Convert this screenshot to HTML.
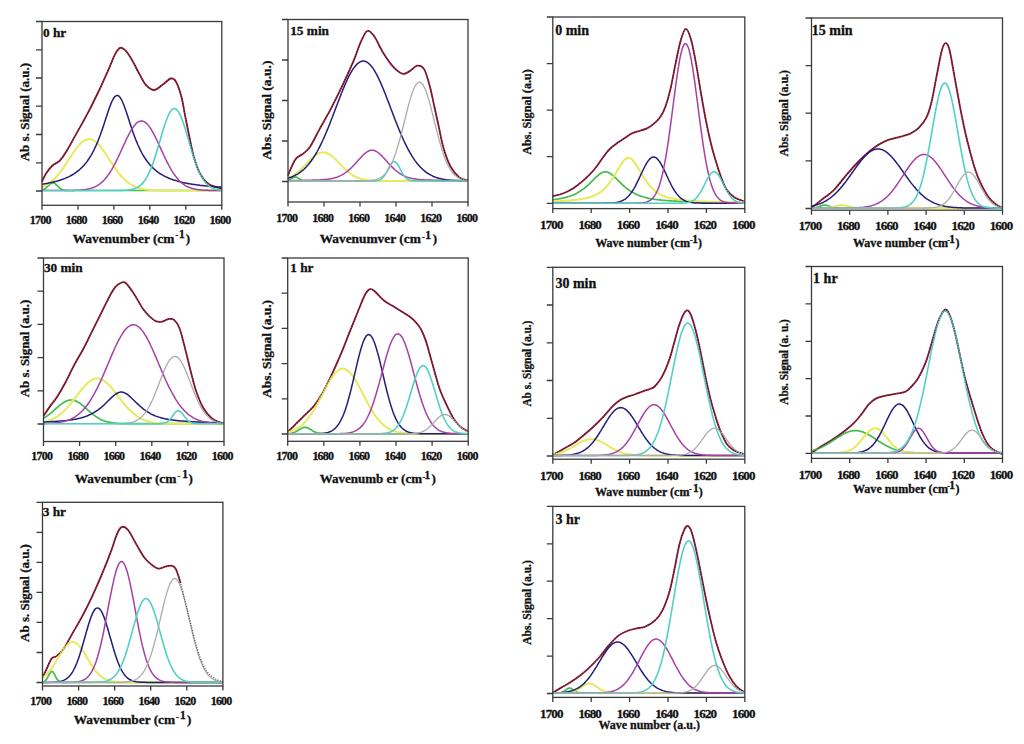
<!DOCTYPE html>
<html><head><meta charset="utf-8"><style>
html,body{margin:0;padding:0;background:#fff;width:1024px;height:744px;overflow:hidden}
svg{display:block}
text{font-family:"Liberation Serif",serif;font-weight:bold;fill:#111;stroke:#111;stroke-width:0.3px}
.tl{font-size:12px;text-anchor:middle;letter-spacing:-0.8px}
.tl2{font-size:13px;text-anchor:middle;letter-spacing:-0.85px}
</style></head><body>
<svg width="1024" height="744" viewBox="0 0 1024 744">
<rect width="1024" height="744" fill="#fff"/>
<path d="M42,181.6C42.7,180.2 44.5,175.9 46.2,173.2C48,170.5 50.2,167.6 52.5,165.5C54.8,163.4 57.4,163.2 59.8,160.7C62.2,158.2 64.1,155.2 67.1,150.3C70,145.5 74,137.8 77.5,131.6C81,125.4 84.4,119.5 87.9,112.9C91.4,106.3 94.8,99.3 98.3,92C101.8,84.7 105.9,75.3 108.7,69.1C111.5,62.9 113,58.1 114.9,54.6C116.8,51.1 118.4,48.6 120.1,47.9C121.8,47.2 123.4,48.6 125.3,50.4C127.2,52.2 128.9,54.8 131.3,58.8C133.7,62.8 137.2,70.1 139.6,74.4C142,78.7 143.4,82.2 145.8,84.8C148.2,87.4 151.4,90 154.2,90C157,90 159.7,86.7 162.5,84.8C165.3,82.9 168.6,79 170.8,78.5C173.1,78 174.2,78.7 176,81.7C177.8,84.7 179.7,90.4 181.3,96.3C182.9,102.2 184,110.2 185.4,117.1C186.8,124 188.2,131.3 189.6,137.9C191,144.5 192.1,150.8 193.8,156.7C195.5,162.6 197.6,168.8 200,173.3C202.4,177.8 205.2,181.4 208.3,183.8C211.4,186.2 216.6,187.2 218.8,187.9C221.1,188.7 221.3,188.2 221.8,188.3" stroke="#9a1f3a" stroke-width="1.8" fill="none"/>
<path d="M42,190L43,189.7L44,189.3L45,188.7L46,187.9L47,187L48,186L49,185L50,184.1L51,183.4L52,182.9L53,182.8L54,183.1L55,183.6L56,184.5L57,185.4L58,186.5L59,187.4L60,188.3L61,188.9L62,189.5L63,189.9L64,190.1L65,190.3L66,190.4L67,190.4L68,190.5L69,190.5L70,190.5L71,190.5L72,190.5L73,190.5L74,190.5L75,190.5L76,190.5L77,190.5L78,190.5L79,190.5L80,190.5L81,190.5L82,190.5L83,190.5L84,190.5L85,190.5L86,190.5L87,190.5L87.9,190.5L88.9,190.5L89.9,190.5L90.9,190.5L91.9,190.5L92.9,190.5L93.9,190.5L94.9,190.5L95.9,190.5L96.9,190.5L97.9,190.5L98.9,190.5L99.9,190.5L100.9,190.5L101.9,190.5L102.9,190.5L103.9,190.5L104.9,190.5L105.9,190.5L106.9,190.5L107.9,190.5L108.9,190.5L109.9,190.5L110.9,190.5L111.9,190.5L112.9,190.5L113.9,190.5L114.9,190.5L115.9,190.5L116.9,190.5L117.9,190.5L118.9,190.5L119.9,190.5L120.9,190.5L121.9,190.5L122.9,190.5L123.9,190.5L124.9,190.5L125.9,190.5L126.9,190.5L127.9,190.5L128.9,190.5L129.9,190.5L130.9,190.5L131.9,190.5L132.9,190.5L133.9,190.5L134.9,190.5L135.9,190.5L136.9,190.5L137.9,190.5L138.9,190.5L139.9,190.5L140.9,190.5L141.9,190.5L142.9,190.5L143.9,190.5L144.9,190.5L145.9,190.5L146.9,190.5L147.9,190.5L148.9,190.5L149.9,190.5L150.9,190.5L151.9,190.5L152.9,190.5L153.9,190.5L154.9,190.5L155.9,190.5L156.9,190.5L157.9,190.5L158.9,190.5L159.9,190.5L160.9,190.5L161.9,190.5L162.9,190.5L163.9,190.5L164.9,190.5L165.9,190.5L166.9,190.5L167.9,190.5L168.9,190.5L169.9,190.5L170.9,190.5L171.9,190.5L172.9,190.5L173.9,190.5L174.9,190.5L175.9,190.5L176.8,190.5L177.8,190.5L178.8,190.5L179.8,190.5L180.8,190.5L181.8,190.5L182.8,190.5L183.8,190.5L184.8,190.5L185.8,190.5L186.8,190.5L187.8,190.5L188.8,190.5L189.8,190.5L190.8,190.5L191.8,190.5L192.8,190.5L193.8,190.5L194.8,190.5L195.8,190.5L196.8,190.5L197.8,190.5L198.8,190.5L199.8,190.5L200.8,190.5L201.8,190.5L202.8,190.5L203.8,190.5L204.8,190.5L205.8,190.5L206.8,190.5L207.8,190.5L208.8,190.5L209.8,190.5L210.8,190.5L211.8,190.5L212.8,190.5L213.8,190.5L214.8,190.5L215.8,190.5L216.8,190.5L217.8,190.5L218.8,190.5L219.8,190.5L220.8,190.5L221.8,190.5" stroke="#45bd4c" stroke-width="1.7" fill="none"/>
<path d="M42,187.2L43,186.7L44,186.3L45,185.8L46,185.3L47,184.7L48,184.1L49,183.4L50,182.7L51,181.9L52,181.1L53,180.2L54,179.2L55,178.2L56,177.2L57,176.1L58,174.9L59,173.7L60,172.4L61,171.1L62,169.7L63,168.3L64,166.9L65,165.4L66,163.9L67,162.4L68,160.8L69,159.3L70,157.8L71,156.2L72,154.7L73,153.2L74,151.7L75,150.3L76,148.9L77,147.6L78,146.4L79,145.2L80,144.1L81,143.1L82,142.2L83,141.4L84,140.8L85,140.2L86,139.7L87,139.4L87.9,139.2L88.9,139.1L89.9,139.1L90.9,139.3L91.9,139.6L92.9,140L93.9,140.6L94.9,141.2L95.9,142L96.9,142.8L97.9,143.8L98.9,144.9L99.9,146L100.9,147.2L101.9,148.5L102.9,149.9L103.9,151.3L104.9,152.7L105.9,154.2L106.9,155.7L107.9,157.3L108.9,158.8L109.9,160.3L110.9,161.9L111.9,163.4L112.9,164.9L113.9,166.4L114.9,167.9L115.9,169.3L116.9,170.7L117.9,172L118.9,173.3L119.9,174.5L120.9,175.7L121.9,176.8L122.9,177.9L123.9,178.9L124.9,179.9L125.9,180.8L126.9,181.6L127.9,182.4L128.9,183.2L129.9,183.9L130.9,184.5L131.9,185.1L132.9,185.6L133.9,186.1L134.9,186.6L135.9,187L136.9,187.4L137.9,187.8L138.9,188.1L139.9,188.3L140.9,188.6L141.9,188.8L142.9,189L143.9,189.2L144.9,189.4L145.9,189.5L146.9,189.7L147.9,189.8L148.9,189.9L149.9,190L150.9,190L151.9,190.1L152.9,190.2L153.9,190.2L154.9,190.2L155.9,190.3L156.9,190.3L157.9,190.3L158.9,190.4L159.9,190.4L160.9,190.4L161.9,190.4L162.9,190.4L163.9,190.4L164.9,190.5L165.9,190.5L166.9,190.5L167.9,190.5L168.9,190.5L169.9,190.5L170.9,190.5L171.9,190.5L172.9,190.5L173.9,190.5L174.9,190.5L175.9,190.5L176.8,190.5L177.8,190.5L178.8,190.5L179.8,190.5L180.8,190.5L181.8,190.5L182.8,190.5L183.8,190.5L184.8,190.5L185.8,190.5L186.8,190.5L187.8,190.5L188.8,190.5L189.8,190.5L190.8,190.5L191.8,190.5L192.8,190.5L193.8,190.5L194.8,190.5L195.8,190.5L196.8,190.5L197.8,190.5L198.8,190.5L199.8,190.5L200.8,190.5L201.8,190.5L202.8,190.5L203.8,190.5L204.8,190.5L205.8,190.5L206.8,190.5L207.8,190.5L208.8,190.5L209.8,190.5L210.8,190.5L211.8,190.5L212.8,190.5L213.8,190.5L214.8,190.5L215.8,190.5L216.8,190.5L217.8,190.5L218.8,190.5L219.8,190.5L220.8,190.5L221.8,190.5" stroke="#e6ea5c" stroke-width="2.0" fill="none"/>
<path d="M42,184.2L43,184.1L44,183.9L45,183.7L46,183.6L47,183.4L48,183.2L49,183L50,182.8L51,182.6L52,182.3L53,182.1L54,181.9L55,181.6L56,181.4L57,181.1L58,180.8L59,180.5L60,180.2L61,179.8L62,179.5L63,179.1L64,178.8L65,178.4L66,177.9L67,177.5L68,177.1L69,176.6L70,176.1L71,175.5L72,175L73,174.4L74,173.8L75,173.1L76,172.4L77,171.7L78,170.9L79,170.1L80,169.2L81,168.3L82,167.4L83,166.3L84,165.3L85,164.1L86,162.9L87,161.6L87.9,160.2L88.9,158.8L89.9,157.2L90.9,155.6L91.9,153.9L92.9,152L93.9,150.1L94.9,148L95.9,145.9L96.9,143.6L97.9,141.2L98.9,138.6L99.9,136L100.9,133.2L101.9,130.4L102.9,127.4L103.9,124.4L104.9,121.4L105.9,118.3L106.9,115.2L107.9,112.2L108.9,109.2L109.9,106.4L110.9,103.9L111.9,101.5L112.9,99.5L113.9,97.8L114.9,96.6L115.9,95.8L116.9,95.4L117.9,95.5L118.9,96.1L119.9,97.2L120.9,98.7L121.9,100.5L122.9,102.7L123.9,105.2L124.9,107.9L125.9,110.7L126.9,113.7L127.9,116.8L128.9,119.9L129.9,123L130.9,126L131.9,129L132.9,131.9L133.9,134.7L134.9,137.4L135.9,140L136.9,142.4L137.9,144.8L138.9,147L139.9,149.1L140.9,151.1L141.9,153L142.9,154.8L143.9,156.5L144.9,158L145.9,159.5L146.9,161L147.9,162.3L148.9,163.5L149.9,164.7L150.9,165.8L151.9,166.9L152.9,167.9L153.9,168.8L154.9,169.7L155.9,170.5L156.9,171.3L157.9,172.1L158.9,172.8L159.9,173.5L160.9,174.1L161.9,174.7L162.9,175.3L163.9,175.8L164.9,176.3L165.9,176.8L166.9,177.3L167.9,177.7L168.9,178.2L169.9,178.6L170.9,179L171.9,179.3L172.9,179.7L173.9,180L174.9,180.3L175.9,180.6L176.8,180.9L177.8,181.2L178.8,181.5L179.8,181.7L180.8,182L181.8,182.2L182.8,182.5L183.8,182.7L184.8,182.9L185.8,183.1L186.8,183.3L187.8,183.5L188.8,183.7L189.8,183.8L190.8,184L191.8,184.2L192.8,184.3L193.8,184.5L194.8,184.6L195.8,184.7L196.8,184.9L197.8,185L198.8,185.1L199.8,185.3L200.8,185.4L201.8,185.5L202.8,185.6L203.8,185.7L204.8,185.8L205.8,185.9L206.8,186L207.8,186.1L208.8,186.2L209.8,186.3L210.8,186.4L211.8,186.5L212.8,186.5L213.8,186.6L214.8,186.7L215.8,186.8L216.8,186.8L217.8,186.9L218.8,187L219.8,187L220.8,187.1L221.8,187.2" stroke="#231d7a" stroke-width="1.5" fill="none"/>
<path d="M42,190.5L43,190.5L44,190.5L45,190.5L46,190.5L47,190.5L48,190.5L49,190.5L50,190.5L51,190.5L52,190.5L53,190.5L54,190.5L55,190.5L56,190.5L57,190.5L58,190.5L59,190.5L60,190.5L61,190.5L62,190.5L63,190.5L64,190.5L65,190.5L66,190.5L67,190.5L68,190.5L69,190.4L70,190.4L71,190.4L72,190.4L73,190.4L74,190.4L75,190.3L76,190.3L77,190.3L78,190.2L79,190.2L80,190.1L81,190L82,189.9L83,189.8L84,189.7L85,189.6L86,189.4L87,189.3L87.9,189.1L88.9,188.9L89.9,188.6L90.9,188.3L91.9,188L92.9,187.7L93.9,187.3L94.9,186.8L95.9,186.3L96.9,185.8L97.9,185.2L98.9,184.6L99.9,183.8L100.9,183L101.9,182.2L102.9,181.3L103.9,180.3L104.9,179.2L105.9,178L106.9,176.8L107.9,175.4L108.9,174L109.9,172.5L110.9,170.9L111.9,169.3L112.9,167.5L113.9,165.7L114.9,163.8L115.9,161.8L116.9,159.8L117.9,157.8L118.9,155.6L119.9,153.5L120.9,151.3L121.9,149.1L122.9,146.9L123.9,144.7L124.9,142.6L125.9,140.4L126.9,138.3L127.9,136.3L128.9,134.4L129.9,132.5L130.9,130.7L131.9,129.1L132.9,127.6L133.9,126.2L134.9,124.9L135.9,123.8L136.9,122.9L137.9,122.2L138.9,121.6L139.9,121.2L140.9,121L141.9,121L142.9,121.2L143.9,121.6L144.9,122.1L145.9,122.9L146.9,123.8L147.9,124.8L148.9,126.1L149.9,127.4L150.9,129L151.9,130.6L152.9,132.4L153.9,134.2L154.9,136.2L155.9,138.2L156.9,140.3L157.9,142.4L158.9,144.6L159.9,146.8L160.9,148.9L161.9,151.1L162.9,153.3L163.9,155.5L164.9,157.6L165.9,159.7L166.9,161.7L167.9,163.6L168.9,165.5L169.9,167.4L170.9,169.1L171.9,170.8L172.9,172.4L173.9,173.9L174.9,175.3L175.9,176.6L176.8,177.9L177.8,179.1L178.8,180.2L179.8,181.2L180.8,182.1L181.8,183L182.8,183.8L183.8,184.5L184.8,185.2L185.8,185.8L186.8,186.3L187.8,186.8L188.8,187.2L189.8,187.6L190.8,188L191.8,188.3L192.8,188.6L193.8,188.8L194.8,189.1L195.8,189.3L196.8,189.4L197.8,189.6L198.8,189.7L199.8,189.8L200.8,189.9L201.8,190L202.8,190.1L203.8,190.2L204.8,190.2L205.8,190.3L206.8,190.3L207.8,190.3L208.8,190.4L209.8,190.4L210.8,190.4L211.8,190.4L212.8,190.4L213.8,190.4L214.8,190.5L215.8,190.5L216.8,190.5L217.8,190.5L218.8,190.5L219.8,190.5L220.8,190.5L221.8,190.5" stroke="#a83fa6" stroke-width="1.5" fill="none"/>
<path d="M42,190.5L43,190.5L44,190.5L45,190.5L46,190.5L47,190.5L48,190.5L49,190.5L50,190.5L51,190.5L52,190.5L53,190.5L54,190.5L55,190.5L56,190.5L57,190.5L58,190.5L59,190.5L60,190.5L61,190.5L62,190.5L63,190.5L64,190.5L65,190.5L66,190.5L67,190.5L68,190.5L69,190.5L70,190.5L71,190.5L72,190.5L73,190.5L74,190.5L75,190.5L76,190.5L77,190.5L78,190.5L79,190.5L80,190.5L81,190.5L82,190.5L83,190.5L84,190.5L85,190.5L86,190.5L87,190.5L87.9,190.5L88.9,190.5L89.9,190.5L90.9,190.5L91.9,190.5L92.9,190.5L93.9,190.5L94.9,190.5L95.9,190.5L96.9,190.5L97.9,190.5L98.9,190.5L99.9,190.5L100.9,190.5L101.9,190.5L102.9,190.5L103.9,190.5L104.9,190.5L105.9,190.5L106.9,190.5L107.9,190.5L108.9,190.5L109.9,190.5L110.9,190.5L111.9,190.5L112.9,190.5L113.9,190.5L114.9,190.5L115.9,190.5L116.9,190.5L117.9,190.5L118.9,190.4L119.9,190.4L120.9,190.4L121.9,190.4L122.9,190.4L123.9,190.3L124.9,190.3L125.9,190.2L126.9,190.1L127.9,190L128.9,189.9L129.9,189.8L130.9,189.6L131.9,189.4L132.9,189.2L133.9,188.9L134.9,188.5L135.9,188.1L136.9,187.7L137.9,187.1L138.9,186.5L139.9,185.7L140.9,184.9L141.9,183.9L142.9,182.9L143.9,181.6L144.9,180.3L145.9,178.8L146.9,177.1L147.9,175.2L148.9,173.2L149.9,171L150.9,168.6L151.9,166.1L152.9,163.3L153.9,160.5L154.9,157.5L155.9,154.3L156.9,151.1L157.9,147.7L158.9,144.3L159.9,140.9L160.9,137.4L161.9,134L162.9,130.7L163.9,127.5L164.9,124.4L165.9,121.5L166.9,118.8L167.9,116.3L168.9,114.2L169.9,112.3L170.9,110.8L171.9,109.7L172.9,108.9L173.9,108.5L174.9,108.6L175.9,109L176.8,109.7L177.8,110.9L178.8,112.4L179.8,114.3L180.8,116.4L181.8,118.9L182.8,121.6L183.8,124.5L184.8,127.6L185.8,130.8L186.8,134.2L187.8,137.6L188.8,141L189.8,144.5L190.8,147.9L191.8,151.2L192.8,154.4L193.8,157.6L194.8,160.6L195.8,163.5L196.8,166.2L197.8,168.7L198.8,171.1L199.8,173.3L200.8,175.3L201.8,177.1L202.8,178.8L203.8,180.3L204.8,181.7L205.8,182.9L206.8,184L207.8,184.9L208.8,185.8L209.8,186.5L210.8,187.1L211.8,187.7L212.8,188.2L213.8,188.6L214.8,188.9L215.8,189.2L216.8,189.4L217.8,189.6L218.8,189.8L219.8,189.9L220.8,190L221.8,190.1" stroke="#52d0c6" stroke-width="1.6" fill="none"/>
<path d="M42,181.6C42.7,180.2 44.5,175.9 46.2,173.2C48,170.5 50.2,167.6 52.5,165.5C54.8,163.4 57.4,163.2 59.8,160.7C62.2,158.2 64.1,155.2 67.1,150.3C70,145.5 74,137.8 77.5,131.6C81,125.4 84.4,119.5 87.9,112.9C91.4,106.3 94.8,99.3 98.3,92C101.8,84.7 105.9,75.3 108.7,69.1C111.5,62.9 113,58.1 114.9,54.6C116.8,51.1 118.4,48.6 120.1,47.9C121.8,47.2 123.4,48.6 125.3,50.4C127.2,52.2 128.9,54.8 131.3,58.8C133.7,62.8 137.2,70.1 139.6,74.4C142,78.7 143.4,82.2 145.8,84.8C148.2,87.4 151.4,90 154.2,90C157,90 159.7,86.7 162.5,84.8C165.3,82.9 168.6,79 170.8,78.5C173.1,78 174.2,78.7 176,81.7C177.8,84.7 179.7,90.4 181.3,96.3C182.9,102.2 184,110.2 185.4,117.1C186.8,124 188.2,131.3 189.6,137.9C191,144.5 192.1,150.8 193.8,156.7C195.5,162.6 197.6,168.8 200,173.3C202.4,177.8 205.2,181.4 208.3,183.8C211.4,186.2 216.6,187.2 218.8,187.9C221.1,188.7 221.3,188.2 221.8,188.3" stroke="#111" stroke-width="1.3" stroke-dasharray="1 1.5" fill="none" opacity="0.65"/>
<rect x="42" y="21.5" width="179.8" height="183.8" fill="none" stroke="#3a3a3a" stroke-width="1.3"/>
<path d="M36,21.5H42M36,49.8H42M36,78H42M36,106.2H42M36,134.5H42M36,162.8H42M36,191H42M42,205.3V209.8M78,205.3V209.8M113.9,205.3V209.8M149.9,205.3V209.8M185.8,205.3V209.8M221.8,205.3V209.8" stroke="#3a3a3a" stroke-width="1.3" fill="none"/>
<text x="40.2" y="224.1" class="tl">1700</text>
<text x="76.2" y="224.1" class="tl">1680</text>
<text x="112.1" y="224.1" class="tl">1660</text>
<text x="148.1" y="224.1" class="tl">1640</text>
<text x="184" y="224.1" class="tl">1620</text>
<text x="220" y="224.1" class="tl">1600</text>
<text x="43" y="37.4" style="font-size:13.3px">0 hr</text>
<text x="72.7" y="242.7" style="font-size:13px" textLength="101.7" lengthAdjust="spacingAndGlyphs">Wavenumber (cm</text>
<text x="175.4" y="238.4" style="font-size:8px">-</text>
<text x="178.9" y="237.9" style="font-size:11.5px">1</text>
<text x="185.7" y="242.7" style="font-size:13px">)</text>
<text transform="translate(28.5,112.1) rotate(-90)" text-anchor="middle" style="font-size:13px" textLength="98.4" lengthAdjust="spacingAndGlyphs">Ab s. Signal (a.u.)</text>
<path d="M288,175.5C288.6,173.9 290.5,169.1 291.9,166.2C293.3,163.3 294.5,160.3 296.4,158.2C298.3,156.1 301,155.5 303.3,153.6C305.6,151.7 307.4,150.7 310.1,146.7C312.8,142.7 315.9,135.9 319.3,129.6C322.7,123.3 326.9,116.3 330.7,109.1C334.5,101.9 338.3,94.2 342.1,86.2C345.9,78.2 350.4,68.3 353.5,61.1C356.6,53.9 358.1,47.8 360.4,42.8C362.7,37.8 364.9,32.1 367.2,31C369.5,29.9 372,33.3 374.1,36C376.2,38.7 378.3,44 380,47C381.7,50 381.9,51 384.1,54.3C386.3,57.6 390.2,63.6 393.3,66.8C396.4,70 399.7,72.9 402.4,73.7C405.1,74.5 406.8,72.7 409.3,71.4C411.8,70.1 414.7,66.1 417.2,65.7C419.7,65.3 422,65.7 424.1,69.1C426.2,72.5 428.1,79.9 429.8,86.2C431.5,92.5 432.9,100 434.4,106.8C435.9,113.6 437.4,120.4 438.9,127.3C440.4,134.2 441.6,141.4 443.5,147.9C445.4,154.4 447.7,161.2 450.4,166.2C453.1,171.1 456.6,175.2 459.5,177.6C462.4,179.9 466.6,179.9 468,180.3" stroke="#9a1f3a" stroke-width="1.8" fill="none"/>
<path d="M288,180.3L289,179.9L290,179.4L291,178.8L292,178.2L293,177.6L294,177.2L295,177L296,177.1L297,177.4L298,177.9L299,178.6L300,179.2L301,179.7L302,180.2L303,180.5L304,180.7L305,180.9L306,180.9L307,181L308,181L309,181L310,181L311,181L312,181L313,181L314,181L315,181L316,181L317,181L318,181L319,181L320,181L321,181L322,181L323,181L324,181L325,181L326,181L327,181L328,181L329,181L330,181L331,181L332,181L333,181L334,181L335,181L336,181L337,181L338,181L339,181L340,181L341,181L342,181L343,181L344,181L345,181L346,181L347,181L348,181L349,181L350,181L351,181L352,181L353,181L354,181L355,181L356,181L357,181L358,181L359,181L360,181L361,181L362,181L363,181L364,181L365,181L366,181L367,181L368,181L369,181L370,181L371,181L372,181L373,181L374,181L375,181L376,181L377,181L378,181L379,181L380,181L381,181L382,181L383,181L384,181L385,181L386,181L387,181L388,181L389,181L390,181L391,181L392,181L393,181L394,181L395,181L396,181L397,181L398,181L399,181L400,181L401,181L402,181L403,181L404,181L405,181L406,181L407,181L408,181L409,181L410,181L411,181L412,181L413,181L414,181L415,181L416,181L417,181L418,181L419,181L420,181L421,181L422,181L423,181L424,181L425,181L426,181L427,181L428,181L429,181L430,181L431,181L432,181L433,181L434,181L435,181L436,181L437,181L438,181L439,181L440,181L441,181L442,181L443,181L444,181L445,181L446,181L447,181L448,181L449,181L450,181L451,181L452,181L453,181L454,181L455,181L456,181L457,181L458,181L459,181L460,181L461,181L462,181L463,181L464,181L465,181L466,181L467,181L468,181" stroke="#45bd4c" stroke-width="1.7" fill="none"/>
<path d="M288,178L289,177.5L290,177.1L291,176.6L292,176.1L293,175.5L294,174.9L295,174.2L296,173.5L297,172.7L298,171.9L299,171L300,170.2L301,169.2L302,168.3L303,167.3L304,166.3L305,165.2L306,164.2L307,163.1L308,162.1L309,161.1L310,160.1L311,159.1L312,158.1L313,157.2L314,156.4L315,155.6L316,154.9L317,154.3L318,153.7L319,153.3L320,152.9L321,152.6L322,152.5L323,152.4L324,152.4L325,152.6L326,152.8L327,153.2L328,153.6L329,154.2L330,154.8L331,155.5L332,156.2L333,157.1L334,158L335,158.9L336,159.9L337,160.9L338,161.9L339,162.9L340,164L341,165L342,166.1L343,167.1L344,168.1L345,169L346,170L347,170.9L348,171.7L349,172.5L350,173.3L351,174L352,174.7L353,175.4L354,176L355,176.5L356,177L357,177.5L358,177.9L359,178.3L360,178.6L361,178.9L362,179.2L363,179.4L364,179.6L365,179.8L366,180L367,180.1L368,180.3L369,180.4L370,180.5L371,180.6L372,180.6L373,180.7L374,180.7L375,180.8L376,180.8L377,180.9L378,180.9L379,180.9L380,180.9L381,180.9L382,180.9L383,181L384,181L385,181L386,181L387,181L388,181L389,181L390,181L391,181L392,181L393,181L394,181L395,181L396,181L397,181L398,181L399,181L400,181L401,181L402,181L403,181L404,181L405,181L406,181L407,181L408,181L409,181L410,181L411,181L412,181L413,181L414,181L415,181L416,181L417,181L418,181L419,181L420,181L421,181L422,181L423,181L424,181L425,181L426,181L427,181L428,181L429,181L430,181L431,181L432,181L433,181L434,181L435,181L436,181L437,181L438,181L439,181L440,181L441,181L442,181L443,181L444,181L445,181L446,181L447,181L448,181L449,181L450,181L451,181L452,181L453,181L454,181L455,181L456,181L457,181L458,181L459,181L460,181L461,181L462,181L463,181L464,181L465,181L466,181L467,181L468,181" stroke="#e6ea5c" stroke-width="2.0" fill="none"/>
<path d="M288,178.1L289,177.8L290,177.5L291,177.2L292,176.8L293,176.4L294,175.9L295,175.5L296,174.9L297,174.4L298,173.8L299,173.1L300,172.4L301,171.7L302,170.9L303,170.1L304,169.2L305,168.2L306,167.2L307,166.1L308,165L309,163.8L310,162.5L311,161.2L312,159.8L313,158.4L314,156.8L315,155.2L316,153.5L317,151.8L318,150L319,148.1L320,146.1L321,144.1L322,142L323,139.8L324,137.6L325,135.3L326,133L327,130.6L328,128.2L329,125.7L330,123.2L331,120.6L332,118.1L333,115.4L334,112.8L335,110.2L336,107.5L337,104.9L338,102.3L339,99.7L340,97.1L341,94.5L342,92L343,89.5L344,87.1L345,84.7L346,82.5L347,80.3L348,78.1L349,76.1L350,74.2L351,72.4L352,70.7L353,69.1L354,67.7L355,66.4L356,65.2L357,64.1L358,63.3L359,62.5L360,61.9L361,61.5L362,61.2L363,61.1L364,61.1L365,61.3L366,61.7L367,62.2L368,62.9L369,63.7L370,64.7L371,65.8L372,67L373,68.4L374,69.9L375,71.6L376,73.3L377,75.2L378,77.2L379,79.2L380,81.4L381,83.6L382,86L383,88.3L384,90.8L385,93.3L386,95.8L387,98.4L388,101L389,103.6L390,106.3L391,108.9L392,111.6L393,114.2L394,116.8L395,119.4L396,122L397,124.5L398,127L399,129.5L400,131.9L401,134.2L402,136.5L403,138.8L404,141L405,143.1L406,145.1L407,147.1L408,149.1L409,150.9L410,152.7L411,154.4L412,156.1L413,157.6L414,159.1L415,160.6L416,161.9L417,163.2L418,164.4L419,165.6L420,166.7L421,167.8L422,168.7L423,169.7L424,170.5L425,171.3L426,172.1L427,172.8L428,173.5L429,174.1L430,174.7L431,175.2L432,175.7L433,176.2L434,176.6L435,177L436,177.4L437,177.7L438,178L439,178.3L440,178.5L441,178.8L442,179L443,179.2L444,179.4L445,179.5L446,179.7L447,179.8L448,180L449,180.1L450,180.2L451,180.3L452,180.3L453,180.4L454,180.5L455,180.5L456,180.6L457,180.6L458,180.7L459,180.7L460,180.8L461,180.8L462,180.8L463,180.8L464,180.9L465,180.9L466,180.9L467,180.9L468,180.9" stroke="#231d7a" stroke-width="1.5" fill="none"/>
<path d="M288,180.6L289,180.6L290,180.5L291,180.5L292,180.5L293,180.5L294,180.5L295,180.5L296,180.5L297,180.5L298,180.4L299,180.4L300,180.4L301,180.4L302,180.4L303,180.4L304,180.4L305,180.3L306,180.3L307,180.3L308,180.3L309,180.3L310,180.2L311,180.2L312,180.2L313,180.1L314,180.1L315,180.1L316,180L317,180L318,180L319,179.9L320,179.9L321,179.8L322,179.7L323,179.7L324,179.6L325,179.5L326,179.4L327,179.3L328,179.2L329,179L330,178.9L331,178.7L332,178.5L333,178.3L334,178L335,177.7L336,177.4L337,177.1L338,176.7L339,176.3L340,175.9L341,175.4L342,174.9L343,174.3L344,173.7L345,173L346,172.3L347,171.6L348,170.8L349,169.9L350,169L351,168.1L352,167.1L353,166L354,165L355,163.9L356,162.8L357,161.7L358,160.6L359,159.5L360,158.4L361,157.3L362,156.2L363,155.2L364,154.3L365,153.4L366,152.6L367,151.9L368,151.3L369,150.8L370,150.5L371,150.3L372,150.2L373,150.3L374,150.5L375,150.8L376,151.3L377,151.8L378,152.5L379,153.3L380,154.2L381,155.1L382,156.1L383,157.2L384,158.2L385,159.3L386,160.5L387,161.6L388,162.7L389,163.8L390,164.9L391,165.9L392,166.9L393,167.9L394,168.9L395,169.8L396,170.7L397,171.5L398,172.2L399,173L400,173.6L401,174.2L402,174.8L403,175.4L404,175.8L405,176.3L406,176.7L407,177.1L408,177.4L409,177.7L410,178L411,178.2L412,178.5L413,178.7L414,178.8L415,179L416,179.1L417,179.3L418,179.4L419,179.5L420,179.6L421,179.7L422,179.7L423,179.8L424,179.8L425,179.9L426,180L427,180L428,180L429,180.1L430,180.1L431,180.1L432,180.2L433,180.2L434,180.2L435,180.2L436,180.3L437,180.3L438,180.3L439,180.3L440,180.4L441,180.4L442,180.4L443,180.4L444,180.4L445,180.4L446,180.4L447,180.5L448,180.5L449,180.5L450,180.5L451,180.5L452,180.5L453,180.5L454,180.5L455,180.6L456,180.6L457,180.6L458,180.6L459,180.6L460,180.6L461,180.6L462,180.6L463,180.6L464,180.6L465,180.6L466,180.7L467,180.7L468,180.7" stroke="#a83fa6" stroke-width="1.5" fill="none"/>
<path d="M288,181L289,181L290,181L291,181L292,181L293,181L294,181L295,181L296,181L297,181L298,181L299,181L300,181L301,181L302,181L303,181L304,181L305,181L306,181L307,181L308,181L309,181L310,181L311,181L312,181L313,181L314,181L315,181L316,181L317,181L318,181L319,181L320,181L321,181L322,181L323,181L324,181L325,181L326,181L327,181L328,181L329,181L330,181L331,181L332,181L333,181L334,181L335,181L336,181L337,181L338,181L339,181L340,181L341,181L342,181L343,181L344,181L345,181L346,181L347,181L348,181L349,181L350,181L351,181L352,181L353,181L354,181L355,181L356,181L357,181L358,181L359,181L360,181L361,181L362,181L363,181L364,181L365,181L366,181L367,181L368,181L369,181L370,181L371,181L372,181L373,181L374,180.9L375,180.9L376,180.8L377,180.6L378,180.4L379,180.1L380,179.7L381,179.1L382,178.3L383,177.4L384,176.2L385,174.7L386,173.1L387,171.3L388,169.4L389,167.5L390,165.7L391,164.1L392,162.8L393,162L394,161.6L395,161.8L396,162.4L397,163.5L398,165L399,166.7L400,168.6L401,170.5L402,172.4L403,174.1L404,175.6L405,176.9L406,178L407,178.8L408,179.5L409,180L410,180.3L411,180.6L412,180.7L413,180.8L414,180.9L415,180.9L416,181L417,181L418,181L419,181L420,181L421,181L422,181L423,181L424,181L425,181L426,181L427,181L428,181L429,181L430,181L431,181L432,181L433,181L434,181L435,181L436,181L437,181L438,181L439,181L440,181L441,181L442,181L443,181L444,181L445,181L446,181L447,181L448,181L449,181L450,181L451,181L452,181L453,181L454,181L455,181L456,181L457,181L458,181L459,181L460,181L461,181L462,181L463,181L464,181L465,181L466,181L467,181L468,181" stroke="#52d0c6" stroke-width="1.6" fill="none"/>
<path d="M288,181L289,181L290,181L291,181L292,181L293,181L294,181L295,181L296,181L297,181L298,181L299,181L300,181L301,181L302,181L303,181L304,181L305,181L306,181L307,181L308,181L309,181L310,181L311,181L312,181L313,181L314,181L315,181L316,181L317,181L318,181L319,181L320,181L321,181L322,181L323,181L324,181L325,181L326,181L327,181L328,181L329,181L330,181L331,181L332,181L333,181L334,181L335,181L336,181L337,181L338,181L339,181L340,181L341,181L342,181L343,181L344,181L345,181L346,181L347,181L348,181L349,181L350,181L351,181L352,181L353,181L354,181L355,181L356,181L357,181L358,181L359,181L360,181L361,181L362,180.9L363,180.9L364,180.9L365,180.9L366,180.8L367,180.8L368,180.7L369,180.7L370,180.6L371,180.5L372,180.4L373,180.2L374,180L375,179.8L376,179.6L377,179.3L378,178.9L379,178.5L380,178L381,177.4L382,176.8L383,176L384,175.1L385,174.1L386,173L387,171.7L388,170.2L389,168.6L390,166.9L391,164.9L392,162.7L393,160.4L394,157.8L395,155.1L396,152.2L397,149L398,145.7L399,142.2L400,138.6L401,134.8L402,131L403,127L404,123L405,119L406,115L407,111L408,107.2L409,103.5L410,99.9L411,96.6L412,93.6L413,90.8L414,88.4L415,86.3L416,84.6L417,83.4L418,82.5L419,82.1L420,82.2L421,82.7L422,83.6L423,84.9L424,86.7L425,88.8L426,91.3L427,94.2L428,97.3L429,100.6L430,104.2L431,107.9L432,111.8L433,115.8L434,119.8L435,123.8L436,127.8L437,131.7L438,135.6L439,139.3L440,142.9L441,146.4L442,149.7L443,152.8L444,155.7L445,158.4L446,160.9L447,163.2L448,165.3L449,167.2L450,169L451,170.5L452,172L453,173.2L454,174.3L455,175.3L456,176.1L457,176.9L458,177.5L459,178.1L460,178.6L461,179L462,179.3L463,179.6L464,179.9L465,180.1L466,180.3L467,180.4L468,180.5" stroke="#acacac" stroke-width="1.3" fill="none"/>
<path d="M288,175.5C288.6,173.9 290.5,169.1 291.9,166.2C293.3,163.3 294.5,160.3 296.4,158.2C298.3,156.1 301,155.5 303.3,153.6C305.6,151.7 307.4,150.7 310.1,146.7C312.8,142.7 315.9,135.9 319.3,129.6C322.7,123.3 326.9,116.3 330.7,109.1C334.5,101.9 338.3,94.2 342.1,86.2C345.9,78.2 350.4,68.3 353.5,61.1C356.6,53.9 358.1,47.8 360.4,42.8C362.7,37.8 364.9,32.1 367.2,31C369.5,29.9 372,33.3 374.1,36C376.2,38.7 378.3,44 380,47C381.7,50 381.9,51 384.1,54.3C386.3,57.6 390.2,63.6 393.3,66.8C396.4,70 399.7,72.9 402.4,73.7C405.1,74.5 406.8,72.7 409.3,71.4C411.8,70.1 414.7,66.1 417.2,65.7C419.7,65.3 422,65.7 424.1,69.1C426.2,72.5 428.1,79.9 429.8,86.2C431.5,92.5 432.9,100 434.4,106.8C435.9,113.6 437.4,120.4 438.9,127.3C440.4,134.2 441.6,141.4 443.5,147.9C445.4,154.4 447.7,161.2 450.4,166.2C453.1,171.1 456.6,175.2 459.5,177.6C462.4,179.9 466.6,179.9 468,180.3" stroke="#111" stroke-width="1.3" stroke-dasharray="1 1.5" fill="none" opacity="0.65"/>
<rect x="288" y="19.5" width="180" height="182.5" fill="none" stroke="#3a3a3a" stroke-width="1.3"/>
<path d="M282,19.5H288M282,60H288M282,100.5H288M282,141H288M282,181.5H288M288,202V206.5M324,202V206.5M360,202V206.5M396,202V206.5M432,202V206.5M468,202V206.5" stroke="#3a3a3a" stroke-width="1.3" fill="none"/>
<text x="286.7" y="221.7" class="tl">1700</text>
<text x="322.7" y="221.7" class="tl">1680</text>
<text x="358.7" y="221.7" class="tl">1660</text>
<text x="394.7" y="221.7" class="tl">1640</text>
<text x="430.7" y="221.7" class="tl">1620</text>
<text x="466.7" y="221.7" class="tl">1600</text>
<text x="290.2" y="35.4" style="font-size:13.3px">15 min</text>
<text x="319.7" y="242.5" style="font-size:13px" textLength="101.1" lengthAdjust="spacingAndGlyphs">Wavenumver (cm</text>
<text x="422" y="239.7" style="font-size:8px">-</text>
<text x="425.3" y="239.2" style="font-size:11.5px">1</text>
<text x="432.7" y="242.5" style="font-size:13px">)</text>
<text transform="translate(270.8,110.1) rotate(-90)" text-anchor="middle" style="font-size:13px" textLength="99.2" lengthAdjust="spacingAndGlyphs">Abs. Signal (a.u.)</text>
<path d="M43.5,416C44.7,414.2 48.4,408.6 50.7,405.4C53,402.2 54.7,400.7 57.2,396.8C59.7,392.9 62.9,387.2 65.8,381.8C68.7,376.4 71.5,370 74.4,364.6C77.3,359.2 80.1,354.9 83,349.5C85.9,344.1 88.7,338 91.6,332.3C94.5,326.6 97.3,320.8 100.2,315.1C103.1,309.4 106.3,302.5 108.8,297.9C111.3,293.2 113,289.8 115.2,287.2C117.4,284.6 119.9,283.2 121.7,282.5C123.5,281.8 124.2,281.7 126,283.2C127.8,284.7 130.7,289.1 132.4,291.5C134.1,293.9 134.7,295 136.4,297.9C138.2,300.8 140.8,305.6 142.9,308.7C145.1,311.8 147.2,314.1 149.3,316.2C151.5,318.3 153.7,320.3 155.8,321.2C158,322.1 160,322 162.2,321.6C164.3,321.2 166.7,319.3 168.7,319C170.7,318.7 172.3,318.4 174.1,319.9C175.9,321.4 177.8,324.1 179.4,328C181,331.9 182.3,337.7 183.7,343.1C185.1,348.5 186.6,354.6 188,360.3C189.4,366 190.9,372.1 192.3,377.5C193.7,382.9 194.8,387.5 196.6,392.5C198.4,397.5 200.6,403.2 203.1,407.5C205.6,411.8 208.8,415.8 211.7,418.3C214.6,420.8 218.2,421.8 220.3,422.6C222.4,423.4 223.4,422.9 224,423" stroke="#9a1f3a" stroke-width="1.8" fill="none"/>
<path d="M43.5,418.3L44.5,417.7L45.5,417.1L46.5,416.4L47.5,415.7L48.5,414.9L49.5,414.2L50.5,413.3L51.5,412.5L52.5,411.6L53.5,410.7L54.5,409.8L55.5,408.9L56.5,408L57.5,407.2L58.5,406.3L59.5,405.4L60.5,404.6L61.5,403.9L62.6,403.2L63.6,402.5L64.6,401.9L65.6,401.4L66.6,400.9L67.6,400.6L68.6,400.3L69.6,400.1L70.6,400L71.6,400L72.6,400.1L73.6,400.3L74.6,400.5L75.6,400.9L76.6,401.3L77.6,401.9L78.6,402.4L79.6,403.1L80.6,403.8L81.6,404.6L82.6,405.4L83.6,406.2L84.6,407.1L85.6,408L86.6,408.9L87.6,409.8L88.6,410.7L89.6,411.5L90.6,412.4L91.6,413.3L92.6,414.1L93.6,414.9L94.6,415.6L95.6,416.4L96.6,417L97.7,417.7L98.7,418.3L99.7,418.9L100.7,419.4L101.7,419.9L102.7,420.3L103.7,420.7L104.7,421.1L105.7,421.4L106.7,421.7L107.7,421.9L108.7,422.2L109.7,422.4L110.7,422.6L111.7,422.7L112.7,422.9L113.7,423L114.7,423.1L115.7,423.2L116.7,423.3L117.7,423.4L118.7,423.4L119.7,423.5L120.7,423.5L121.7,423.5L122.7,423.6L123.7,423.6L124.7,423.6L125.7,423.6L126.7,423.6L127.7,423.7L128.7,423.7L129.7,423.7L130.7,423.7L131.7,423.7L132.7,423.7L133.8,423.7L134.8,423.7L135.8,423.7L136.8,423.7L137.8,423.7L138.8,423.7L139.8,423.7L140.8,423.7L141.8,423.7L142.8,423.7L143.8,423.7L144.8,423.7L145.8,423.7L146.8,423.7L147.8,423.7L148.8,423.7L149.8,423.7L150.8,423.7L151.8,423.7L152.8,423.7L153.8,423.7L154.8,423.7L155.8,423.7L156.8,423.7L157.8,423.7L158.8,423.7L159.8,423.7L160.8,423.7L161.8,423.7L162.8,423.7L163.8,423.7L164.8,423.7L165.8,423.7L166.8,423.7L167.8,423.7L168.8,423.7L169.8,423.7L170.9,423.7L171.9,423.7L172.9,423.7L173.9,423.7L174.9,423.7L175.9,423.7L176.9,423.7L177.9,423.7L178.9,423.7L179.9,423.7L180.9,423.7L181.9,423.7L182.9,423.7L183.9,423.7L184.9,423.7L185.9,423.7L186.9,423.7L187.9,423.7L188.9,423.7L189.9,423.7L190.9,423.7L191.9,423.7L192.9,423.7L193.9,423.7L194.9,423.7L195.9,423.7L196.9,423.7L197.9,423.7L198.9,423.7L199.9,423.7L200.9,423.7L201.9,423.7L202.9,423.7L203.9,423.7L204.9,423.7L205.9,423.7L207,423.7L208,423.7L209,423.7L210,423.7L211,423.7L212,423.7L213,423.7L214,423.7L215,423.7L216,423.7L217,423.7L218,423.7L219,423.7L220,423.7L221,423.7L222,423.7L223,423.7L224,423.7" stroke="#45bd4c" stroke-width="1.7" fill="none"/>
<path d="M43.5,422L44.5,421.8L45.5,421.6L46.5,421.3L47.5,421L48.5,420.7L49.5,420.4L50.5,420L51.5,419.6L52.5,419.1L53.5,418.6L54.5,418.1L55.5,417.5L56.5,416.9L57.5,416.3L58.5,415.6L59.5,414.8L60.5,414L61.5,413.2L62.6,412.3L63.6,411.4L64.6,410.4L65.6,409.4L66.6,408.3L67.6,407.2L68.6,406.1L69.6,404.9L70.6,403.7L71.6,402.5L72.6,401.2L73.6,399.9L74.6,398.6L75.6,397.3L76.6,396L77.6,394.7L78.6,393.4L79.6,392.1L80.6,390.8L81.6,389.6L82.6,388.4L83.6,387.2L84.6,386.1L85.6,385L86.6,384L87.6,383.1L88.6,382.2L89.6,381.4L90.6,380.7L91.6,380.1L92.6,379.6L93.6,379.2L94.6,378.9L95.6,378.6L96.6,378.5L97.7,378.5L98.7,378.6L99.7,378.8L100.7,379.1L101.7,379.5L102.7,380L103.7,380.6L104.7,381.2L105.7,382L106.7,382.8L107.7,383.7L108.7,384.7L109.7,385.8L110.7,386.9L111.7,388L112.7,389.2L113.7,390.5L114.7,391.7L115.7,393L116.7,394.3L117.7,395.6L118.7,396.9L119.7,398.2L120.7,399.5L121.7,400.8L122.7,402.1L123.7,403.3L124.7,404.6L125.7,405.7L126.7,406.9L127.7,408L128.7,409.1L129.7,410.1L130.7,411.1L131.7,412L132.7,412.9L133.8,413.8L134.8,414.6L135.8,415.4L136.8,416.1L137.8,416.7L138.8,417.4L139.8,417.9L140.8,418.5L141.8,419L142.8,419.4L143.8,419.9L144.8,420.3L145.8,420.6L146.8,420.9L147.8,421.2L148.8,421.5L149.8,421.8L150.8,422L151.8,422.2L152.8,422.4L153.8,422.5L154.8,422.7L155.8,422.8L156.8,422.9L157.8,423L158.8,423.1L159.8,423.2L160.8,423.2L161.8,423.3L162.8,423.4L163.8,423.4L164.8,423.5L165.8,423.5L166.8,423.5L167.8,423.5L168.8,423.6L169.8,423.6L170.9,423.6L171.9,423.6L172.9,423.6L173.9,423.6L174.9,423.7L175.9,423.7L176.9,423.7L177.9,423.7L178.9,423.7L179.9,423.7L180.9,423.7L181.9,423.7L182.9,423.7L183.9,423.7L184.9,423.7L185.9,423.7L186.9,423.7L187.9,423.7L188.9,423.7L189.9,423.7L190.9,423.7L191.9,423.7L192.9,423.7L193.9,423.7L194.9,423.7L195.9,423.7L196.9,423.7L197.9,423.7L198.9,423.7L199.9,423.7L200.9,423.7L201.9,423.7L202.9,423.7L203.9,423.7L204.9,423.7L205.9,423.7L207,423.7L208,423.7L209,423.7L210,423.7L211,423.7L212,423.7L213,423.7L214,423.7L215,423.7L216,423.7L217,423.7L218,423.7L219,423.7L220,423.7L221,423.7L222,423.7L223,423.7L224,423.7" stroke="#e6ea5c" stroke-width="2.0" fill="none"/>
<path d="M43.5,422L44.5,422L45.5,421.9L46.5,421.9L47.5,421.8L48.5,421.8L49.5,421.7L50.5,421.7L51.5,421.6L52.5,421.6L53.5,421.5L54.5,421.5L55.5,421.4L56.5,421.3L57.5,421.3L58.5,421.2L59.5,421.1L60.5,421L61.5,421L62.6,420.9L63.6,420.8L64.6,420.7L65.6,420.6L66.6,420.5L67.6,420.4L68.6,420.2L69.6,420.1L70.6,420L71.6,419.8L72.6,419.7L73.6,419.5L74.6,419.3L75.6,419.2L76.6,419L77.6,418.8L78.6,418.5L79.6,418.3L80.6,418L81.6,417.8L82.6,417.5L83.6,417.2L84.6,416.8L85.6,416.5L86.6,416.1L87.6,415.7L88.6,415.3L89.6,414.8L90.6,414.4L91.6,413.9L92.6,413.3L93.6,412.7L94.6,412.1L95.6,411.5L96.6,410.8L97.7,410.1L98.7,409.4L99.7,408.6L100.7,407.8L101.7,407L102.7,406.1L103.7,405.2L104.7,404.2L105.7,403.3L106.7,402.3L107.7,401.3L108.7,400.3L109.7,399.4L110.7,398.4L111.7,397.4L112.7,396.5L113.7,395.6L114.7,394.8L115.7,394.1L116.7,393.5L117.7,393L118.7,392.6L119.7,392.3L120.7,392.1L121.7,392.1L122.7,392.2L123.7,392.5L124.7,392.9L125.7,393.4L126.7,394L127.7,394.7L128.7,395.5L129.7,396.4L130.7,397.3L131.7,398.2L132.7,399.2L133.8,400.2L134.8,401.2L135.8,402.2L136.8,403.1L137.8,404.1L138.8,405L139.8,405.9L140.8,406.8L141.8,407.7L142.8,408.5L143.8,409.3L144.8,410L145.8,410.7L146.8,411.4L147.8,412L148.8,412.6L149.8,413.2L150.8,413.8L151.8,414.3L152.8,414.8L153.8,415.2L154.8,415.7L155.8,416.1L156.8,416.4L157.8,416.8L158.8,417.1L159.8,417.4L160.8,417.7L161.8,418L162.8,418.3L163.8,418.5L164.8,418.7L165.8,418.9L166.8,419.1L167.8,419.3L168.8,419.5L169.8,419.7L170.9,419.8L171.9,420L172.9,420.1L173.9,420.2L174.9,420.3L175.9,420.5L176.9,420.6L177.9,420.7L178.9,420.8L179.9,420.9L180.9,420.9L181.9,421L182.9,421.1L183.9,421.2L184.9,421.3L185.9,421.3L186.9,421.4L187.9,421.5L188.9,421.5L189.9,421.6L190.9,421.6L191.9,421.7L192.9,421.7L193.9,421.8L194.9,421.8L195.9,421.9L196.9,421.9L197.9,422L198.9,422L199.9,422.1L200.9,422.1L201.9,422.1L202.9,422.2L203.9,422.2L204.9,422.2L205.9,422.3L207,422.3L208,422.3L209,422.4L210,422.4L211,422.4L212,422.4L213,422.5L214,422.5L215,422.5L216,422.5L217,422.6L218,422.6L219,422.6L220,422.6L221,422.6L222,422.7L223,422.7L224,422.7" stroke="#231d7a" stroke-width="1.5" fill="none"/>
<path d="M43.5,423.5L44.5,423.5L45.5,423.5L46.5,423.4L47.5,423.4L48.5,423.3L49.5,423.3L50.5,423.2L51.5,423.2L52.5,423.1L53.5,423L54.5,422.9L55.5,422.8L56.5,422.7L57.5,422.6L58.5,422.5L59.5,422.3L60.5,422.1L61.5,421.9L62.6,421.7L63.6,421.5L64.6,421.3L65.6,421L66.6,420.7L67.6,420.4L68.6,420L69.6,419.6L70.6,419.2L71.6,418.7L72.6,418.2L73.6,417.7L74.6,417.1L75.6,416.4L76.6,415.7L77.6,415L78.6,414.2L79.6,413.4L80.6,412.5L81.6,411.5L82.6,410.5L83.6,409.4L84.6,408.3L85.6,407.1L86.6,405.8L87.6,404.5L88.6,403L89.6,401.6L90.6,400L91.6,398.4L92.6,396.7L93.6,394.9L94.6,393.1L95.6,391.2L96.6,389.3L97.7,387.2L98.7,385.2L99.7,383.1L100.7,380.9L101.7,378.7L102.7,376.4L103.7,374.1L104.7,371.8L105.7,369.4L106.7,367.1L107.7,364.7L108.7,362.3L109.7,360L110.7,357.6L111.7,355.2L112.7,352.9L113.7,350.7L114.7,348.4L115.7,346.3L116.7,344.1L117.7,342.1L118.7,340.1L119.7,338.3L120.7,336.5L121.7,334.8L122.7,333.2L123.7,331.8L124.7,330.4L125.7,329.2L126.7,328.2L127.7,327.2L128.7,326.5L129.7,325.8L130.7,325.3L131.7,325L132.7,324.8L133.8,324.8L134.8,324.9L135.8,325.2L136.8,325.7L137.8,326.3L138.8,327L139.8,327.9L140.8,328.9L141.8,330.1L142.8,331.4L143.8,332.8L144.8,334.3L145.8,336L146.8,337.7L147.8,339.6L148.8,341.5L149.8,343.6L150.8,345.7L151.8,347.8L152.8,350L153.8,352.3L154.8,354.6L155.8,356.9L156.8,359.3L157.8,361.7L158.8,364L159.8,366.4L160.8,368.8L161.8,371.1L162.8,373.5L163.8,375.8L164.8,378L165.8,380.3L166.8,382.5L167.8,384.6L168.8,386.7L169.8,388.7L170.9,390.7L171.9,392.6L172.9,394.4L173.9,396.2L174.9,397.9L175.9,399.6L176.9,401.1L177.9,402.6L178.9,404.1L179.9,405.4L180.9,406.7L181.9,408L182.9,409.1L183.9,410.2L184.9,411.3L185.9,412.2L186.9,413.1L187.9,414L188.9,414.8L189.9,415.5L190.9,416.2L191.9,416.9L192.9,417.5L193.9,418.1L194.9,418.6L195.9,419L196.9,419.5L197.9,419.9L198.9,420.3L199.9,420.6L200.9,420.9L201.9,421.2L202.9,421.4L203.9,421.7L204.9,421.9L205.9,422.1L207,422.3L208,422.4L209,422.6L210,422.7L211,422.8L212,422.9L213,423L214,423.1L215,423.2L216,423.2L217,423.3L218,423.3L219,423.4L220,423.4L221,423.5L222,423.5L223,423.5L224,423.5" stroke="#a83fa6" stroke-width="1.5" fill="none"/>
<path d="M43.5,423.7L44.5,423.7L45.5,423.7L46.5,423.7L47.5,423.7L48.5,423.7L49.5,423.7L50.5,423.7L51.5,423.7L52.5,423.7L53.5,423.7L54.5,423.7L55.5,423.7L56.5,423.7L57.5,423.7L58.5,423.7L59.5,423.7L60.5,423.7L61.5,423.7L62.6,423.7L63.6,423.7L64.6,423.7L65.6,423.7L66.6,423.7L67.6,423.7L68.6,423.7L69.6,423.7L70.6,423.7L71.6,423.7L72.6,423.7L73.6,423.7L74.6,423.7L75.6,423.7L76.6,423.7L77.6,423.7L78.6,423.7L79.6,423.7L80.6,423.7L81.6,423.7L82.6,423.7L83.6,423.7L84.6,423.7L85.6,423.7L86.6,423.7L87.6,423.7L88.6,423.7L89.6,423.7L90.6,423.7L91.6,423.7L92.6,423.7L93.6,423.7L94.6,423.7L95.6,423.7L96.6,423.7L97.7,423.7L98.7,423.7L99.7,423.7L100.7,423.7L101.7,423.7L102.7,423.7L103.7,423.7L104.7,423.7L105.7,423.7L106.7,423.7L107.7,423.7L108.7,423.7L109.7,423.7L110.7,423.7L111.7,423.7L112.7,423.7L113.7,423.7L114.7,423.7L115.7,423.7L116.7,423.6L117.7,423.6L118.7,423.6L119.7,423.6L120.7,423.5L121.7,423.5L122.7,423.5L123.7,423.4L124.7,423.3L125.7,423.2L126.7,423.1L127.7,423L128.7,422.9L129.7,422.7L130.7,422.5L131.7,422.3L132.7,422L133.8,421.7L134.8,421.3L135.8,420.9L136.8,420.4L137.8,419.8L138.8,419.2L139.8,418.4L140.8,417.6L141.8,416.7L142.8,415.7L143.8,414.6L144.8,413.4L145.8,412L146.8,410.5L147.8,409L148.8,407.2L149.8,405.4L150.8,403.4L151.8,401.4L152.8,399.2L153.8,396.9L154.8,394.5L155.8,392L156.8,389.5L157.8,386.9L158.8,384.3L159.8,381.6L160.8,379L161.8,376.4L162.8,373.9L163.8,371.4L164.8,369.1L165.8,366.9L166.8,364.9L167.8,363L168.8,361.3L169.8,359.9L170.9,358.6L171.9,357.7L172.9,357L173.9,356.6L174.9,356.4L175.9,356.5L176.9,356.9L177.9,357.6L178.9,358.6L179.9,359.8L180.9,361.2L181.9,362.8L182.9,364.7L183.9,366.7L184.9,368.9L185.9,371.3L186.9,373.7L187.9,376.2L188.9,378.8L189.9,381.4L190.9,384L191.9,386.7L192.9,389.3L193.9,391.8L194.9,394.3L195.9,396.7L196.9,399L197.9,401.2L198.9,403.3L199.9,405.2L200.9,407.1L201.9,408.8L202.9,410.4L203.9,411.9L204.9,413.3L205.9,414.5L207,415.6L208,416.6L209,417.6L210,418.4L211,419.1L212,419.8L213,420.3L214,420.8L215,421.3L216,421.6L217,422L218,422.2L219,422.5L220,422.7L221,422.9L222,423L223,423.1L224,423.2" stroke="#acacac" stroke-width="1.3" fill="none"/>
<path d="M43.5,423.7L44.5,423.7L45.5,423.7L46.5,423.7L47.5,423.7L48.5,423.7L49.5,423.7L50.5,423.7L51.5,423.7L52.5,423.7L53.5,423.7L54.5,423.7L55.5,423.7L56.5,423.7L57.5,423.7L58.5,423.7L59.5,423.7L60.5,423.7L61.5,423.7L62.6,423.7L63.6,423.7L64.6,423.7L65.6,423.7L66.6,423.7L67.6,423.7L68.6,423.7L69.6,423.7L70.6,423.7L71.6,423.7L72.6,423.7L73.6,423.7L74.6,423.7L75.6,423.7L76.6,423.7L77.6,423.7L78.6,423.7L79.6,423.7L80.6,423.7L81.6,423.7L82.6,423.7L83.6,423.7L84.6,423.7L85.6,423.7L86.6,423.7L87.6,423.7L88.6,423.7L89.6,423.7L90.6,423.7L91.6,423.7L92.6,423.7L93.6,423.7L94.6,423.7L95.6,423.7L96.6,423.7L97.7,423.7L98.7,423.7L99.7,423.7L100.7,423.7L101.7,423.7L102.7,423.7L103.7,423.7L104.7,423.7L105.7,423.7L106.7,423.7L107.7,423.7L108.7,423.7L109.7,423.7L110.7,423.7L111.7,423.7L112.7,423.7L113.7,423.7L114.7,423.7L115.7,423.7L116.7,423.7L117.7,423.7L118.7,423.7L119.7,423.7L120.7,423.7L121.7,423.7L122.7,423.7L123.7,423.7L124.7,423.7L125.7,423.7L126.7,423.7L127.7,423.7L128.7,423.7L129.7,423.7L130.7,423.7L131.7,423.7L132.7,423.7L133.8,423.7L134.8,423.7L135.8,423.7L136.8,423.7L137.8,423.7L138.8,423.7L139.8,423.7L140.8,423.7L141.8,423.7L142.8,423.7L143.8,423.7L144.8,423.7L145.8,423.7L146.8,423.7L147.8,423.7L148.8,423.7L149.8,423.7L150.8,423.7L151.8,423.7L152.8,423.7L153.8,423.7L154.8,423.7L155.8,423.7L156.8,423.7L157.8,423.7L158.8,423.7L159.8,423.6L160.8,423.6L161.8,423.5L162.8,423.4L163.8,423.2L164.8,422.9L165.8,422.5L166.8,422L167.8,421.3L168.8,420.4L169.8,419.4L170.9,418.2L171.9,416.9L172.9,415.5L173.9,414.2L174.9,412.9L175.9,411.9L176.9,411.2L177.9,410.8L178.9,410.9L179.9,411.3L180.9,412L181.9,413L182.9,414.3L183.9,415.6L184.9,417L185.9,418.3L186.9,419.4L187.9,420.5L188.9,421.3L189.9,422L190.9,422.5L191.9,422.9L192.9,423.2L193.9,423.4L194.9,423.5L195.9,423.6L196.9,423.6L197.9,423.7L198.9,423.7L199.9,423.7L200.9,423.7L201.9,423.7L202.9,423.7L203.9,423.7L204.9,423.7L205.9,423.7L207,423.7L208,423.7L209,423.7L210,423.7L211,423.7L212,423.7L213,423.7L214,423.7L215,423.7L216,423.7L217,423.7L218,423.7L219,423.7L220,423.7L221,423.7L222,423.7L223,423.7L224,423.7" stroke="#52d0c6" stroke-width="1.6" fill="none"/>
<path d="M43.5,416C44.7,414.2 48.4,408.6 50.7,405.4C53,402.2 54.7,400.7 57.2,396.8C59.7,392.9 62.9,387.2 65.8,381.8C68.7,376.4 71.5,370 74.4,364.6C77.3,359.2 80.1,354.9 83,349.5C85.9,344.1 88.7,338 91.6,332.3C94.5,326.6 97.3,320.8 100.2,315.1C103.1,309.4 106.3,302.5 108.8,297.9C111.3,293.2 113,289.8 115.2,287.2C117.4,284.6 119.9,283.2 121.7,282.5C123.5,281.8 124.2,281.7 126,283.2C127.8,284.7 130.7,289.1 132.4,291.5C134.1,293.9 134.7,295 136.4,297.9C138.2,300.8 140.8,305.6 142.9,308.7C145.1,311.8 147.2,314.1 149.3,316.2C151.5,318.3 153.7,320.3 155.8,321.2C158,322.1 160,322 162.2,321.6C164.3,321.2 166.7,319.3 168.7,319C170.7,318.7 172.3,318.4 174.1,319.9C175.9,321.4 177.8,324.1 179.4,328C181,331.9 182.3,337.7 183.7,343.1C185.1,348.5 186.6,354.6 188,360.3C189.4,366 190.9,372.1 192.3,377.5C193.7,382.9 194.8,387.5 196.6,392.5C198.4,397.5 200.6,403.2 203.1,407.5C205.6,411.8 208.8,415.8 211.7,418.3C214.6,420.8 218.2,421.8 220.3,422.6C222.4,423.4 223.4,422.9 224,423" stroke="#111" stroke-width="1.3" stroke-dasharray="1 1.5" fill="none" opacity="0.65"/>
<rect x="43.5" y="258" width="180.5" height="183.5" fill="none" stroke="#3a3a3a" stroke-width="1.3"/>
<path d="M37.5,258H43.5M37.5,291.2H43.5M37.5,324.4H43.5M37.5,357.6H43.5M37.5,390.8H43.5M37.5,424H43.5M43.5,441.5V446M79.6,441.5V446M115.7,441.5V446M151.8,441.5V446M187.9,441.5V446M224,441.5V446" stroke="#3a3a3a" stroke-width="1.3" fill="none"/>
<text x="41.7" y="460.1" class="tl">1700</text>
<text x="77.8" y="460.1" class="tl">1680</text>
<text x="113.9" y="460.1" class="tl">1660</text>
<text x="150" y="460.1" class="tl">1640</text>
<text x="186.1" y="460.1" class="tl">1620</text>
<text x="222.2" y="460.1" class="tl">1600</text>
<text x="43.9" y="271.6" style="font-size:13.3px">30 min</text>
<text x="74.7" y="482.8" style="font-size:13px" textLength="101.7" lengthAdjust="spacingAndGlyphs">Wavenumber (cm</text>
<text x="177.4" y="478.5" style="font-size:8px">-</text>
<text x="182.2" y="478" style="font-size:11.5px">1</text>
<text x="188.4" y="482.8" style="font-size:13px">)</text>
<text transform="translate(28.5,348.5) rotate(-90)" text-anchor="middle" style="font-size:13px" textLength="97.6" lengthAdjust="spacingAndGlyphs">Ab s. Signal (a.u.)</text>
<path d="M287.7,432C289.1,430.6 293.2,426.6 296.1,423.7C299,420.8 302,417.8 305,414.8C308,411.9 310.9,409.7 313.9,406C316.8,402.3 319.8,397.8 322.7,392.6C325.6,387.4 328.6,381.2 331.6,374.9C334.6,368.6 337.5,361.9 340.5,354.9C343.5,347.9 346.4,340.1 349.4,332.7C352.4,325.3 355.7,316.8 358.3,310.5C360.9,304.2 363,298.5 364.9,295C366.8,291.5 367.9,290.1 369.4,289.4C370.9,288.6 371.4,288.6 373.8,290.5C376.2,292.4 380.7,297.9 383.9,300.5C387.1,303.1 389.9,304.2 392.8,306.1C395.8,308 398.7,309.8 401.6,311.6C404.6,313.5 407.9,315.2 410.5,317.2C413.1,319.2 415.3,321.6 417.2,323.8C419.1,326 420.1,327.5 421.6,330.5C423.1,333.5 424.6,337.2 426.1,341.6C427.6,346 429,351.9 430.5,357.1C432,362.3 433.4,367.5 434.9,372.7C436.4,377.9 437.5,383 439.4,388.2C441.2,393.4 443.8,398.9 446,403.7C448.2,408.5 450.5,413.4 452.7,417.1C454.9,420.8 457.2,423.7 459.4,425.9C461.6,428.1 464.5,429.5 466,430.4C467.5,431.2 467.8,430.9 468.2,431" stroke="#9a1f3a" stroke-width="1.8" fill="none"/>
<path d="M287.7,433.7L288.7,433.6L289.7,433.5L290.7,433.4L291.7,433.2L292.7,432.9L293.7,432.6L294.7,432.2L295.7,431.7L296.7,431.2L297.7,430.6L298.7,430L299.7,429.3L300.7,428.7L301.7,428.2L302.7,427.7L303.7,427.4L304.7,427.3L305.8,427.3L306.8,427.6L307.8,427.9L308.8,428.4L309.8,429L310.8,429.6L311.8,430.2L312.8,430.9L313.8,431.4L314.8,432L315.8,432.4L316.8,432.8L317.8,433.1L318.8,433.3L319.8,433.4L320.8,433.6L321.8,433.6L322.8,433.7L323.8,433.7L324.8,433.8L325.8,433.8L326.8,433.8L327.8,433.8L328.8,433.8L329.8,433.8L330.8,433.8L331.8,433.8L332.8,433.8L333.8,433.8L334.8,433.8L335.8,433.8L336.8,433.8L337.8,433.8L338.8,433.8L339.8,433.8L340.8,433.8L341.8,433.8L342.9,433.8L343.9,433.8L344.9,433.8L345.9,433.8L346.9,433.8L347.9,433.8L348.9,433.8L349.9,433.8L350.9,433.8L351.9,433.8L352.9,433.8L353.9,433.8L354.9,433.8L355.9,433.8L356.9,433.8L357.9,433.8L358.9,433.8L359.9,433.8L360.9,433.8L361.9,433.8L362.9,433.8L363.9,433.8L364.9,433.8L365.9,433.8L366.9,433.8L367.9,433.8L368.9,433.8L369.9,433.8L370.9,433.8L371.9,433.8L372.9,433.8L373.9,433.8L374.9,433.8L375.9,433.8L376.9,433.8L377.9,433.8L379,433.8L380,433.8L381,433.8L382,433.8L383,433.8L384,433.8L385,433.8L386,433.8L387,433.8L388,433.8L389,433.8L390,433.8L391,433.8L392,433.8L393,433.8L394,433.8L395,433.8L396,433.8L397,433.8L398,433.8L399,433.8L400,433.8L401,433.8L402,433.8L403,433.8L404,433.8L405,433.8L406,433.8L407,433.8L408,433.8L409,433.8L410,433.8L411,433.8L412,433.8L413,433.8L414,433.8L415.1,433.8L416.1,433.8L417.1,433.8L418.1,433.8L419.1,433.8L420.1,433.8L421.1,433.8L422.1,433.8L423.1,433.8L424.1,433.8L425.1,433.8L426.1,433.8L427.1,433.8L428.1,433.8L429.1,433.8L430.1,433.8L431.1,433.8L432.1,433.8L433.1,433.8L434.1,433.8L435.1,433.8L436.1,433.8L437.1,433.8L438.1,433.8L439.1,433.8L440.1,433.8L441.1,433.8L442.1,433.8L443.1,433.8L444.1,433.8L445.1,433.8L446.1,433.8L447.1,433.8L448.1,433.8L449.1,433.8L450.1,433.8L451.2,433.8L452.2,433.8L453.2,433.8L454.2,433.8L455.2,433.8L456.2,433.8L457.2,433.8L458.2,433.8L459.2,433.8L460.2,433.8L461.2,433.8L462.2,433.8L463.2,433.8L464.2,433.8L465.2,433.8L466.2,433.8L467.2,433.8L468.2,433.8" stroke="#45bd4c" stroke-width="1.7" fill="none"/>
<path d="M287.7,432.1L288.7,431.9L289.7,431.6L290.7,431.3L291.7,431L292.7,430.6L293.7,430.2L294.7,429.7L295.7,429.2L296.7,428.7L297.7,428.1L298.7,427.5L299.7,426.8L300.7,426L301.7,425.2L302.7,424.3L303.7,423.4L304.7,422.3L305.8,421.3L306.8,420.1L307.8,418.9L308.8,417.6L309.8,416.2L310.8,414.8L311.8,413.3L312.8,411.7L313.8,410.1L314.8,408.4L315.8,406.7L316.8,404.9L317.8,403L318.8,401.2L319.8,399.3L320.8,397.4L321.8,395.4L322.8,393.5L323.8,391.5L324.8,389.6L325.8,387.7L326.8,385.8L327.8,384L328.8,382.3L329.8,380.6L330.8,378.9L331.8,377.4L332.8,376L333.8,374.6L334.8,373.4L335.8,372.3L336.8,371.4L337.8,370.6L338.8,369.9L339.8,369.4L340.8,369L341.8,368.8L342.9,368.7L343.9,368.8L344.9,369L345.9,369.5L346.9,370L347.9,370.7L348.9,371.6L349.9,372.6L350.9,373.7L351.9,374.9L352.9,376.3L353.9,377.7L354.9,379.3L355.9,380.9L356.9,382.6L357.9,384.4L358.9,386.2L359.9,388.1L360.9,390L361.9,391.9L362.9,393.9L363.9,395.8L364.9,397.7L365.9,399.7L366.9,401.6L367.9,403.4L368.9,405.2L369.9,407L370.9,408.7L371.9,410.4L372.9,412L373.9,413.6L374.9,415.1L375.9,416.5L376.9,417.8L377.9,419.1L379,420.3L380,421.5L381,422.6L382,423.6L383,424.5L384,425.4L385,426.2L386,426.9L387,427.6L388,428.2L389,428.8L390,429.3L391,429.8L392,430.3L393,430.7L394,431L395,431.4L396,431.6L397,431.9L398,432.1L399,432.4L400,432.5L401,432.7L402,432.8L403,433L404,433.1L405,433.2L406,433.3L407,433.3L408,433.4L409,433.5L410,433.5L411,433.6L412,433.6L413,433.6L414,433.7L415.1,433.7L416.1,433.7L417.1,433.7L418.1,433.7L419.1,433.7L420.1,433.8L421.1,433.8L422.1,433.8L423.1,433.8L424.1,433.8L425.1,433.8L426.1,433.8L427.1,433.8L428.1,433.8L429.1,433.8L430.1,433.8L431.1,433.8L432.1,433.8L433.1,433.8L434.1,433.8L435.1,433.8L436.1,433.8L437.1,433.8L438.1,433.8L439.1,433.8L440.1,433.8L441.1,433.8L442.1,433.8L443.1,433.8L444.1,433.8L445.1,433.8L446.1,433.8L447.1,433.8L448.1,433.8L449.1,433.8L450.1,433.8L451.2,433.8L452.2,433.8L453.2,433.8L454.2,433.8L455.2,433.8L456.2,433.8L457.2,433.8L458.2,433.8L459.2,433.8L460.2,433.8L461.2,433.8L462.2,433.8L463.2,433.8L464.2,433.8L465.2,433.8L466.2,433.8L467.2,433.8L468.2,433.8" stroke="#e6ea5c" stroke-width="2.0" fill="none"/>
<path d="M287.7,433.8L288.7,433.8L289.7,433.8L290.7,433.8L291.7,433.8L292.7,433.8L293.7,433.8L294.7,433.8L295.7,433.8L296.7,433.8L297.7,433.8L298.7,433.8L299.7,433.8L300.7,433.8L301.7,433.8L302.7,433.8L303.7,433.8L304.7,433.8L305.8,433.8L306.8,433.8L307.8,433.8L308.8,433.8L309.8,433.8L310.8,433.8L311.8,433.8L312.8,433.8L313.8,433.8L314.8,433.7L315.8,433.7L316.8,433.7L317.8,433.7L318.8,433.6L319.8,433.6L320.8,433.5L321.8,433.5L322.8,433.4L323.8,433.2L324.8,433.1L325.8,432.9L326.8,432.7L327.8,432.5L328.8,432.1L329.8,431.8L330.8,431.3L331.8,430.8L332.8,430.2L333.8,429.5L334.8,428.6L335.8,427.7L336.8,426.5L337.8,425.3L338.8,423.8L339.8,422.2L340.8,420.4L341.8,418.3L342.9,416.1L343.9,413.6L344.9,410.9L345.9,407.9L346.9,404.8L347.9,401.4L348.9,397.8L349.9,394L350.9,390.1L351.9,386L352.9,381.8L353.9,377.5L354.9,373.2L355.9,368.9L356.9,364.6L357.9,360.4L358.9,356.4L359.9,352.6L360.9,349L361.9,345.7L362.9,342.8L363.9,340.3L364.9,338.2L365.9,336.5L366.9,335.3L367.9,334.7L368.9,334.5L369.9,334.9L370.9,335.7L371.9,337.1L372.9,338.9L373.9,341.2L374.9,343.8L375.9,346.9L376.9,350.3L377.9,353.9L379,357.8L380,361.9L381,366.1L382,370.4L383,374.7L384,379L385,383.3L386,387.5L387,391.5L388,395.4L389,399.1L390,402.6L391,405.9L392,409L393,411.9L394,414.5L395,416.9L396,419.1L397,421L398,422.8L399,424.4L400,425.7L401,427L402,428L403,428.9L404,429.7L405,430.4L406,431L407,431.5L408,431.9L409,432.3L410,432.6L411,432.8L412,433L413,433.2L414,433.3L415.1,433.4L416.1,433.5L417.1,433.6L418.1,433.6L419.1,433.7L420.1,433.7L421.1,433.7L422.1,433.7L423.1,433.7L424.1,433.8L425.1,433.8L426.1,433.8L427.1,433.8L428.1,433.8L429.1,433.8L430.1,433.8L431.1,433.8L432.1,433.8L433.1,433.8L434.1,433.8L435.1,433.8L436.1,433.8L437.1,433.8L438.1,433.8L439.1,433.8L440.1,433.8L441.1,433.8L442.1,433.8L443.1,433.8L444.1,433.8L445.1,433.8L446.1,433.8L447.1,433.8L448.1,433.8L449.1,433.8L450.1,433.8L451.2,433.8L452.2,433.8L453.2,433.8L454.2,433.8L455.2,433.8L456.2,433.8L457.2,433.8L458.2,433.8L459.2,433.8L460.2,433.8L461.2,433.8L462.2,433.8L463.2,433.8L464.2,433.8L465.2,433.8L466.2,433.8L467.2,433.8L468.2,433.8" stroke="#231d7a" stroke-width="1.5" fill="none"/>
<path d="M287.7,433.8L288.7,433.8L289.7,433.8L290.7,433.8L291.7,433.8L292.7,433.8L293.7,433.8L294.7,433.8L295.7,433.8L296.7,433.8L297.7,433.8L298.7,433.8L299.7,433.8L300.7,433.8L301.7,433.8L302.7,433.8L303.7,433.8L304.7,433.8L305.8,433.8L306.8,433.8L307.8,433.8L308.8,433.8L309.8,433.8L310.8,433.8L311.8,433.8L312.8,433.8L313.8,433.8L314.8,433.8L315.8,433.8L316.8,433.8L317.8,433.8L318.8,433.8L319.8,433.8L320.8,433.8L321.8,433.8L322.8,433.8L323.8,433.8L324.8,433.8L325.8,433.8L326.8,433.8L327.8,433.8L328.8,433.8L329.8,433.8L330.8,433.8L331.8,433.8L332.8,433.8L333.8,433.8L334.8,433.8L335.8,433.7L336.8,433.7L337.8,433.7L338.8,433.7L339.8,433.7L340.8,433.6L341.8,433.6L342.9,433.5L343.9,433.5L344.9,433.4L345.9,433.3L346.9,433.2L347.9,433.1L348.9,432.9L349.9,432.7L350.9,432.5L351.9,432.2L352.9,431.9L353.9,431.6L354.9,431.1L355.9,430.6L356.9,430.1L357.9,429.4L358.9,428.7L359.9,427.9L360.9,426.9L361.9,425.9L362.9,424.7L363.9,423.4L364.9,421.9L365.9,420.3L366.9,418.5L367.9,416.5L368.9,414.4L369.9,412.1L370.9,409.6L371.9,407L372.9,404.2L373.9,401.2L374.9,398L375.9,394.7L376.9,391.3L377.9,387.7L379,384.1L380,380.4L381,376.6L382,372.8L383,369L384,365.2L385,361.5L386,357.9L387,354.4L388,351.1L389,348L390,345.1L391,342.5L392,340.2L393,338.3L394,336.6L395,335.3L396,334.4L397,333.9L398,333.8L399,334.1L400,334.8L401,335.8L402,337.2L403,339L404,341.1L405,343.5L406,346.3L407,349.2L408,352.4L409,355.8L410,359.3L411,363L412,366.7L413,370.5L414,374.3L415.1,378.1L416.1,381.9L417.1,385.6L418.1,389.2L419.1,392.7L420.1,396.1L421.1,399.3L422.1,402.4L423.1,405.3L424.1,408.1L425.1,410.7L426.1,413.1L427.1,415.3L428.1,417.3L429.1,419.2L430.1,420.9L431.1,422.5L432.1,423.9L433.1,425.2L434.1,426.3L435.1,427.3L436.1,428.2L437.1,429L438.1,429.7L439.1,430.3L440.1,430.8L441.1,431.3L442.1,431.7L443.1,432L444.1,432.3L445.1,432.6L446.1,432.8L447.1,433L448.1,433.1L449.1,433.2L450.1,433.3L451.2,433.4L452.2,433.5L453.2,433.6L454.2,433.6L455.2,433.6L456.2,433.7L457.2,433.7L458.2,433.7L459.2,433.7L460.2,433.8L461.2,433.8L462.2,433.8L463.2,433.8L464.2,433.8L465.2,433.8L466.2,433.8L467.2,433.8L468.2,433.8" stroke="#a83fa6" stroke-width="1.5" fill="none"/>
<path d="M287.7,433.8L288.7,433.8L289.7,433.8L290.7,433.8L291.7,433.8L292.7,433.8L293.7,433.8L294.7,433.8L295.7,433.8L296.7,433.8L297.7,433.8L298.7,433.8L299.7,433.8L300.7,433.8L301.7,433.8L302.7,433.8L303.7,433.8L304.7,433.8L305.8,433.8L306.8,433.8L307.8,433.8L308.8,433.8L309.8,433.8L310.8,433.8L311.8,433.8L312.8,433.8L313.8,433.8L314.8,433.8L315.8,433.8L316.8,433.8L317.8,433.8L318.8,433.8L319.8,433.8L320.8,433.8L321.8,433.8L322.8,433.8L323.8,433.8L324.8,433.8L325.8,433.8L326.8,433.8L327.8,433.8L328.8,433.8L329.8,433.8L330.8,433.8L331.8,433.8L332.8,433.8L333.8,433.8L334.8,433.8L335.8,433.8L336.8,433.8L337.8,433.8L338.8,433.8L339.8,433.8L340.8,433.8L341.8,433.8L342.9,433.8L343.9,433.8L344.9,433.8L345.9,433.8L346.9,433.8L347.9,433.8L348.9,433.8L349.9,433.8L350.9,433.8L351.9,433.8L352.9,433.8L353.9,433.8L354.9,433.8L355.9,433.8L356.9,433.8L357.9,433.8L358.9,433.8L359.9,433.8L360.9,433.8L361.9,433.8L362.9,433.8L363.9,433.8L364.9,433.8L365.9,433.8L366.9,433.8L367.9,433.8L368.9,433.8L369.9,433.8L370.9,433.8L371.9,433.8L372.9,433.8L373.9,433.8L374.9,433.8L375.9,433.8L376.9,433.7L377.9,433.7L379,433.7L380,433.7L381,433.6L382,433.6L383,433.5L384,433.4L385,433.3L386,433.1L387,433L388,432.7L389,432.4L390,432.1L391,431.7L392,431.2L393,430.6L394,429.8L395,429L396,428L397,426.9L398,425.6L399,424.1L400,422.4L401,420.5L402,418.5L403,416.2L404,413.7L405,411L406,408.2L407,405.1L408,402L409,398.7L410,395.3L411,391.9L412,388.5L413,385.2L414,382L415.1,378.9L416.1,376L417.1,373.4L418.1,371.1L419.1,369.2L420.1,367.6L421.1,366.5L422.1,365.8L423.1,365.6L424.1,365.8L425.1,366.5L426.1,367.6L427.1,369.2L428.1,371.1L429.1,373.4L430.1,376L431.1,378.9L432.1,382L433.1,385.2L434.1,388.5L435.1,391.9L436.1,395.3L437.1,398.7L438.1,402L439.1,405.1L440.1,408.2L441.1,411L442.1,413.7L443.1,416.2L444.1,418.5L445.1,420.5L446.1,422.4L447.1,424.1L448.1,425.6L449.1,426.9L450.1,428L451.2,429L452.2,429.8L453.2,430.6L454.2,431.2L455.2,431.7L456.2,432.1L457.2,432.4L458.2,432.7L459.2,433L460.2,433.1L461.2,433.3L462.2,433.4L463.2,433.5L464.2,433.6L465.2,433.6L466.2,433.7L467.2,433.7L468.2,433.7" stroke="#52d0c6" stroke-width="1.6" fill="none"/>
<path d="M287.7,433.8L288.7,433.8L289.7,433.8L290.7,433.8L291.7,433.8L292.7,433.8L293.7,433.8L294.7,433.8L295.7,433.8L296.7,433.8L297.7,433.8L298.7,433.8L299.7,433.8L300.7,433.8L301.7,433.8L302.7,433.8L303.7,433.8L304.7,433.8L305.8,433.8L306.8,433.8L307.8,433.8L308.8,433.8L309.8,433.8L310.8,433.8L311.8,433.8L312.8,433.8L313.8,433.8L314.8,433.8L315.8,433.8L316.8,433.8L317.8,433.8L318.8,433.8L319.8,433.8L320.8,433.8L321.8,433.8L322.8,433.8L323.8,433.8L324.8,433.8L325.8,433.8L326.8,433.8L327.8,433.8L328.8,433.8L329.8,433.8L330.8,433.8L331.8,433.8L332.8,433.8L333.8,433.8L334.8,433.8L335.8,433.8L336.8,433.8L337.8,433.8L338.8,433.8L339.8,433.8L340.8,433.8L341.8,433.8L342.9,433.8L343.9,433.8L344.9,433.8L345.9,433.8L346.9,433.8L347.9,433.8L348.9,433.8L349.9,433.8L350.9,433.8L351.9,433.8L352.9,433.8L353.9,433.8L354.9,433.8L355.9,433.8L356.9,433.8L357.9,433.8L358.9,433.8L359.9,433.8L360.9,433.8L361.9,433.8L362.9,433.8L363.9,433.8L364.9,433.8L365.9,433.8L366.9,433.8L367.9,433.8L368.9,433.8L369.9,433.8L370.9,433.8L371.9,433.8L372.9,433.8L373.9,433.8L374.9,433.8L375.9,433.8L376.9,433.8L377.9,433.8L379,433.8L380,433.8L381,433.8L382,433.8L383,433.8L384,433.8L385,433.8L386,433.8L387,433.8L388,433.8L389,433.8L390,433.8L391,433.8L392,433.8L393,433.8L394,433.8L395,433.8L396,433.8L397,433.8L398,433.8L399,433.8L400,433.8L401,433.8L402,433.8L403,433.8L404,433.8L405,433.8L406,433.8L407,433.8L408,433.8L409,433.7L410,433.7L411,433.7L412,433.6L413,433.6L414,433.5L415.1,433.4L416.1,433.3L417.1,433.2L418.1,433L419.1,432.8L420.1,432.5L421.1,432.2L422.1,431.9L423.1,431.4L424.1,430.9L425.1,430.4L426.1,429.7L427.1,429L428.1,428.2L429.1,427.4L430.1,426.4L431.1,425.4L432.1,424.4L433.1,423.3L434.1,422.2L435.1,421.1L436.1,420L437.1,419L438.1,418L439.1,417.1L440.1,416.3L441.1,415.6L442.1,415.1L443.1,414.7L444.1,414.5L445.1,414.4L446.1,414.5L447.1,414.8L448.1,415.3L449.1,415.9L450.1,416.6L451.2,417.5L452.2,418.4L453.2,419.4L454.2,420.5L455.2,421.6L456.2,422.7L457.2,423.8L458.2,424.9L459.2,425.9L460.2,426.8L461.2,427.8L462.2,428.6L463.2,429.3L464.2,430L465.2,430.6L466.2,431.2L467.2,431.6L468.2,432" stroke="#acacac" stroke-width="1.3" fill="none"/>
<path d="M287.7,432C289.1,430.6 293.2,426.6 296.1,423.7C299,420.8 302,417.8 305,414.8C308,411.9 310.9,409.7 313.9,406C316.8,402.3 319.8,397.8 322.7,392.6C325.6,387.4 328.6,381.2 331.6,374.9C334.6,368.6 337.5,361.9 340.5,354.9C343.5,347.9 346.4,340.1 349.4,332.7C352.4,325.3 355.7,316.8 358.3,310.5C360.9,304.2 363,298.5 364.9,295C366.8,291.5 367.9,290.1 369.4,289.4C370.9,288.6 371.4,288.6 373.8,290.5C376.2,292.4 380.7,297.9 383.9,300.5C387.1,303.1 389.9,304.2 392.8,306.1C395.8,308 398.7,309.8 401.6,311.6C404.6,313.5 407.9,315.2 410.5,317.2C413.1,319.2 415.3,321.6 417.2,323.8C419.1,326 420.1,327.5 421.6,330.5C423.1,333.5 424.6,337.2 426.1,341.6C427.6,346 429,351.9 430.5,357.1C432,362.3 433.4,367.5 434.9,372.7C436.4,377.9 437.5,383 439.4,388.2C441.2,393.4 443.8,398.9 446,403.7C448.2,408.5 450.5,413.4 452.7,417.1C454.9,420.8 457.2,423.7 459.4,425.9C461.6,428.1 464.5,429.5 466,430.4C467.5,431.2 467.8,430.9 468.2,431" stroke="#111" stroke-width="1.3" stroke-dasharray="1 1.5" fill="none" opacity="0.65"/>
<rect x="287.7" y="258" width="180.5" height="183.3" fill="none" stroke="#3a3a3a" stroke-width="1.3"/>
<path d="M281.7,258H287.7M281.7,293.2H287.7M281.7,328.4H287.7M281.7,363.6H287.7M281.7,398.8H287.7M281.7,434H287.7M287.7,441.3V445.8M323.8,441.3V445.8M359.9,441.3V445.8M396,441.3V445.8M432.1,441.3V445.8M468.2,441.3V445.8" stroke="#3a3a3a" stroke-width="1.3" fill="none"/>
<text x="286.7" y="460.1" class="tl">1700</text>
<text x="322.8" y="460.1" class="tl">1680</text>
<text x="358.9" y="460.1" class="tl">1660</text>
<text x="395" y="460.1" class="tl">1640</text>
<text x="431.1" y="460.1" class="tl">1620</text>
<text x="467.2" y="460.1" class="tl">1600</text>
<text x="290.2" y="271.5" style="font-size:13.3px">1 hr</text>
<text x="319.7" y="482.8" style="font-size:13px" textLength="102.3" lengthAdjust="spacingAndGlyphs">Wavenumb er (cm</text>
<text x="422.6" y="479.7" style="font-size:8px">-</text>
<text x="424.6" y="479.2" style="font-size:11.5px">1</text>
<text x="431.5" y="482.8" style="font-size:13px">)</text>
<text transform="translate(270.8,349) rotate(-90)" text-anchor="middle" style="font-size:13px" textLength="98" lengthAdjust="spacingAndGlyphs">Abs. Signal (a.u.)</text>
<path d="M42.5,677.5C43.3,675.9 45.6,671 47.1,667.8C48.6,664.6 50.2,660.3 51.8,658.4C53.4,656.5 54.5,657.7 56.5,656.1C58.5,654.5 60.8,652.9 63.5,649C66.2,645.1 69.8,638.1 72.9,632.6C76,627.1 79.2,622 82.3,616.1C85.4,610.2 88.6,604 91.7,597.3C94.8,590.6 98,583.5 101.1,576.1C104.2,568.7 107.8,559.9 110.5,552.6C113.2,545.4 115.6,536.9 117.6,532.6C119.6,528.3 120.5,527.2 122.3,526.8C124.1,526.4 125.7,527.2 128.2,530.3C130.7,533.4 134.4,541.1 137.1,545.6C139.8,550.1 141.8,554.2 144.1,557.3C146.4,560.4 148.8,562.5 151.2,564.4C153.5,566.3 155.8,568.2 158.2,568.6C160.5,569 163.2,567.2 165.3,566.7C167.5,566.2 169.3,565.2 171.1,565.6C172.9,566 174.3,566.2 175.9,569.1C177.5,572 179.8,580.9 180.6,583.2" stroke="#9a1f3a" stroke-width="1.8" fill="none"/>
<path d="M42.5,682.2L43.5,681.9L44.5,681.4L45.5,680.6L46.5,679.3L47.5,677.7L48.5,675.7L49.5,673.8L50.5,672.3L51.5,671.5L52.5,671.6L53.5,672.6L54.5,674.3L55.5,676.3L56.5,678.2L57.5,679.7L58.5,680.8L59.5,681.6L60.5,682L61.5,682.2L62.5,682.3L63.5,682.4L64.5,682.4L65.6,682.4L66.6,682.4L67.6,682.4L68.6,682.4L69.6,682.4L70.6,682.4L71.6,682.4L72.6,682.4L73.6,682.4L74.6,682.4L75.6,682.4L76.6,682.4L77.6,682.4L78.6,682.4L79.6,682.4L80.6,682.4L81.6,682.4L82.6,682.4L83.6,682.4L84.6,682.4L85.6,682.4L86.6,682.4L87.6,682.4L88.6,682.4L89.6,682.4L90.6,682.4L91.6,682.4L92.6,682.4L93.6,682.4L94.6,682.4L95.6,682.4L96.6,682.4L97.6,682.4L98.6,682.4L99.6,682.4L100.6,682.4L101.6,682.4L102.6,682.4L103.6,682.4L104.6,682.4L105.6,682.4L106.6,682.4L107.6,682.4L108.6,682.4L109.6,682.4L110.7,682.4L111.7,682.4L112.7,682.4L113.7,682.4L114.7,682.4L115.7,682.4L116.7,682.4L117.7,682.4L118.7,682.4L119.7,682.4L120.7,682.4L121.7,682.4L122.7,682.4L123.7,682.4L124.7,682.4L125.7,682.4L126.7,682.4L127.7,682.4L128.7,682.4L129.7,682.4L130.7,682.4L131.7,682.4L132.7,682.4L133.7,682.4L134.7,682.4L135.7,682.4L136.7,682.4L137.7,682.4L138.7,682.4L139.7,682.4L140.7,682.4L141.7,682.4L142.7,682.4L143.7,682.4L144.7,682.4L145.7,682.4L146.7,682.4L147.7,682.4L148.7,682.4L149.7,682.4L150.7,682.4L151.7,682.4L152.7,682.4L153.7,682.4L154.7,682.4L155.8,682.4L156.8,682.4L157.8,682.4L158.8,682.4L159.8,682.4L160.8,682.4L161.8,682.4L162.8,682.4L163.8,682.4L164.8,682.4L165.8,682.4L166.8,682.4L167.8,682.4L168.8,682.4L169.8,682.4L170.8,682.4L171.8,682.4L172.8,682.4L173.8,682.4L174.8,682.4L175.8,682.4L176.8,682.4L177.8,682.4L178.8,682.4L179.8,682.4L180.8,682.4L181.8,682.4L182.8,682.4L183.8,682.4L184.8,682.4L185.8,682.4L186.8,682.4L187.8,682.4L188.8,682.4L189.8,682.4L190.8,682.4L191.8,682.4L192.8,682.4L193.8,682.4L194.8,682.4L195.8,682.4L196.8,682.4L197.8,682.4L198.8,682.4L199.8,682.4L200.9,682.4L201.9,682.4L202.9,682.4L203.9,682.4L204.9,682.4L205.9,682.4L206.9,682.4L207.9,682.4L208.9,682.4L209.9,682.4L210.9,682.4L211.9,682.4L212.9,682.4L213.9,682.4L214.9,682.4L215.9,682.4L216.9,682.4L217.9,682.4L218.9,682.4L219.9,682.4L220.9,682.4L221.9,682.4L222.9,682.4" stroke="#45bd4c" stroke-width="1.7" fill="none"/>
<path d="M42.5,677.7L43.5,676.9L44.5,676.2L45.5,675.3L46.5,674.3L47.5,673.3L48.5,672.2L49.5,670.9L50.5,669.7L51.5,668.3L52.5,666.8L53.5,665.3L54.5,663.8L55.5,662.1L56.5,660.5L57.5,658.8L58.5,657.1L59.5,655.4L60.5,653.8L61.5,652.2L62.5,650.6L63.5,649.1L64.5,647.8L65.6,646.5L66.6,645.4L67.6,644.4L68.6,643.5L69.6,642.9L70.6,642.4L71.6,642.1L72.6,642L73.6,642.1L74.6,642.4L75.6,642.8L76.6,643.5L77.6,644.3L78.6,645.2L79.6,646.4L80.6,647.6L81.6,649L82.6,650.4L83.6,652L84.6,653.6L85.6,655.2L86.6,656.9L87.6,658.6L88.6,660.3L89.6,661.9L90.6,663.6L91.6,665.1L92.6,666.7L93.6,668.1L94.6,669.5L95.6,670.8L96.6,672L97.6,673.2L98.6,674.2L99.6,675.2L100.6,676.1L101.6,676.9L102.6,677.6L103.6,678.2L104.6,678.8L105.6,679.3L106.6,679.8L107.6,680.2L108.6,680.5L109.6,680.8L110.7,681.1L111.7,681.3L112.7,681.5L113.7,681.6L114.7,681.8L115.7,681.9L116.7,682L117.7,682.1L118.7,682.1L119.7,682.2L120.7,682.2L121.7,682.3L122.7,682.3L123.7,682.3L124.7,682.3L125.7,682.3L126.7,682.4L127.7,682.4L128.7,682.4L129.7,682.4L130.7,682.4L131.7,682.4L132.7,682.4L133.7,682.4L134.7,682.4L135.7,682.4L136.7,682.4L137.7,682.4L138.7,682.4L139.7,682.4L140.7,682.4L141.7,682.4L142.7,682.4L143.7,682.4L144.7,682.4L145.7,682.4L146.7,682.4L147.7,682.4L148.7,682.4L149.7,682.4L150.7,682.4L151.7,682.4L152.7,682.4L153.7,682.4L154.7,682.4L155.8,682.4L156.8,682.4L157.8,682.4L158.8,682.4L159.8,682.4L160.8,682.4L161.8,682.4L162.8,682.4L163.8,682.4L164.8,682.4L165.8,682.4L166.8,682.4L167.8,682.4L168.8,682.4L169.8,682.4L170.8,682.4L171.8,682.4L172.8,682.4L173.8,682.4L174.8,682.4L175.8,682.4L176.8,682.4L177.8,682.4L178.8,682.4L179.8,682.4L180.8,682.4L181.8,682.4L182.8,682.4L183.8,682.4L184.8,682.4L185.8,682.4L186.8,682.4L187.8,682.4L188.8,682.4L189.8,682.4L190.8,682.4L191.8,682.4L192.8,682.4L193.8,682.4L194.8,682.4L195.8,682.4L196.8,682.4L197.8,682.4L198.8,682.4L199.8,682.4L200.9,682.4L201.9,682.4L202.9,682.4L203.9,682.4L204.9,682.4L205.9,682.4L206.9,682.4L207.9,682.4L208.9,682.4L209.9,682.4L210.9,682.4L211.9,682.4L212.9,682.4L213.9,682.4L214.9,682.4L215.9,682.4L216.9,682.4L217.9,682.4L218.9,682.4L219.9,682.4L220.9,682.4L221.9,682.4L222.9,682.4" stroke="#e6ea5c" stroke-width="2.0" fill="none"/>
<path d="M42.5,682.4L43.5,682.4L44.5,682.4L45.5,682.4L46.5,682.4L47.5,682.4L48.5,682.4L49.5,682.3L50.5,682.3L51.5,682.3L52.5,682.3L53.5,682.2L54.5,682.2L55.5,682.1L56.5,682L57.5,681.9L58.5,681.8L59.5,681.6L60.5,681.4L61.5,681.1L62.5,680.8L63.5,680.4L64.5,679.9L65.6,679.4L66.6,678.7L67.6,677.9L68.6,677L69.6,675.9L70.6,674.7L71.6,673.4L72.6,671.8L73.6,670L74.6,668.1L75.6,665.9L76.6,663.5L77.6,660.9L78.6,658.2L79.6,655.2L80.6,652L81.6,648.7L82.6,645.3L83.6,641.8L84.6,638.2L85.6,634.7L86.6,631.1L87.6,627.7L88.6,624.3L89.6,621.2L90.6,618.3L91.6,615.6L92.6,613.3L93.6,611.4L94.6,609.8L95.6,608.7L96.6,608.1L97.6,607.9L98.6,608.2L99.6,608.9L100.6,610.1L101.6,611.7L102.6,613.7L103.6,616.1L104.6,618.8L105.6,621.8L106.6,625L107.6,628.3L108.6,631.8L109.6,635.4L110.7,639L111.7,642.5L112.7,646L113.7,649.4L114.7,652.7L115.7,655.8L116.7,658.7L117.7,661.5L118.7,664L119.7,666.4L120.7,668.5L121.7,670.4L122.7,672.1L123.7,673.6L124.7,675L125.7,676.2L126.7,677.2L127.7,678.1L128.7,678.8L129.7,679.5L130.7,680L131.7,680.5L132.7,680.8L133.7,681.2L134.7,681.4L135.7,681.6L136.7,681.8L137.7,681.9L138.7,682L139.7,682.1L140.7,682.2L141.7,682.2L142.7,682.3L143.7,682.3L144.7,682.3L145.7,682.3L146.7,682.4L147.7,682.4L148.7,682.4L149.7,682.4L150.7,682.4L151.7,682.4L152.7,682.4L153.7,682.4L154.7,682.4L155.8,682.4L156.8,682.4L157.8,682.4L158.8,682.4L159.8,682.4L160.8,682.4L161.8,682.4L162.8,682.4L163.8,682.4L164.8,682.4L165.8,682.4L166.8,682.4L167.8,682.4L168.8,682.4L169.8,682.4L170.8,682.4L171.8,682.4L172.8,682.4L173.8,682.4L174.8,682.4L175.8,682.4L176.8,682.4L177.8,682.4L178.8,682.4L179.8,682.4L180.8,682.4L181.8,682.4L182.8,682.4L183.8,682.4L184.8,682.4L185.8,682.4L186.8,682.4L187.8,682.4L188.8,682.4L189.8,682.4L190.8,682.4L191.8,682.4L192.8,682.4L193.8,682.4L194.8,682.4L195.8,682.4L196.8,682.4L197.8,682.4L198.8,682.4L199.8,682.4L200.9,682.4L201.9,682.4L202.9,682.4L203.9,682.4L204.9,682.4L205.9,682.4L206.9,682.4L207.9,682.4L208.9,682.4L209.9,682.4L210.9,682.4L211.9,682.4L212.9,682.4L213.9,682.4L214.9,682.4L215.9,682.4L216.9,682.4L217.9,682.4L218.9,682.4L219.9,682.4L220.9,682.4L221.9,682.4L222.9,682.4" stroke="#231d7a" stroke-width="1.5" fill="none"/>
<path d="M42.5,682.4L43.5,682.4L44.5,682.4L45.5,682.4L46.5,682.4L47.5,682.4L48.5,682.4L49.5,682.4L50.5,682.4L51.5,682.4L52.5,682.4L53.5,682.4L54.5,682.4L55.5,682.4L56.5,682.4L57.5,682.4L58.5,682.4L59.5,682.4L60.5,682.4L61.5,682.4L62.5,682.4L63.5,682.4L64.5,682.4L65.6,682.4L66.6,682.4L67.6,682.4L68.6,682.3L69.6,682.3L70.6,682.3L71.6,682.3L72.6,682.2L73.6,682.2L74.6,682.1L75.6,682L76.6,681.9L77.6,681.8L78.6,681.6L79.6,681.4L80.6,681.1L81.6,680.8L82.6,680.4L83.6,680L84.6,679.4L85.6,678.8L86.6,678L87.6,677.1L88.6,676.1L89.6,674.8L90.6,673.4L91.6,671.8L92.6,669.9L93.6,667.9L94.6,665.5L95.6,662.9L96.6,660L97.6,656.8L98.6,653.3L99.6,649.6L100.6,645.5L101.6,641.2L102.6,636.6L103.6,631.8L104.6,626.7L105.6,621.5L106.6,616.2L107.6,610.8L108.6,605.4L109.6,600L110.7,594.8L111.7,589.7L112.7,584.8L113.7,580.3L114.7,576.1L115.7,572.3L116.7,569.1L117.7,566.4L118.7,564.2L119.7,562.7L120.7,561.8L121.7,561.6L122.7,562L123.7,563.1L124.7,564.9L125.7,567.2L126.7,570.1L127.7,573.5L128.7,577.4L129.7,581.7L130.7,586.3L131.7,591.3L132.7,596.4L133.7,601.7L134.7,607.1L135.7,612.5L136.7,617.9L137.7,623.2L138.7,628.4L139.7,633.3L140.7,638.1L141.7,642.6L142.7,646.8L143.7,650.8L144.7,654.5L145.7,657.9L146.7,661L147.7,663.8L148.7,666.3L149.7,668.6L150.7,670.6L151.7,672.3L152.7,673.9L153.7,675.2L154.7,676.4L155.8,677.4L156.8,678.3L157.8,679L158.8,679.6L159.8,680.1L160.8,680.6L161.8,680.9L162.8,681.2L163.8,681.5L164.8,681.7L165.8,681.8L166.8,681.9L167.8,682L168.8,682.1L169.8,682.2L170.8,682.2L171.8,682.3L172.8,682.3L173.8,682.3L174.8,682.3L175.8,682.4L176.8,682.4L177.8,682.4L178.8,682.4L179.8,682.4L180.8,682.4L181.8,682.4L182.8,682.4L183.8,682.4L184.8,682.4L185.8,682.4L186.8,682.4L187.8,682.4L188.8,682.4L189.8,682.4L190.8,682.4L191.8,682.4L192.8,682.4L193.8,682.4L194.8,682.4L195.8,682.4L196.8,682.4L197.8,682.4L198.8,682.4L199.8,682.4L200.9,682.4L201.9,682.4L202.9,682.4L203.9,682.4L204.9,682.4L205.9,682.4L206.9,682.4L207.9,682.4L208.9,682.4L209.9,682.4L210.9,682.4L211.9,682.4L212.9,682.4L213.9,682.4L214.9,682.4L215.9,682.4L216.9,682.4L217.9,682.4L218.9,682.4L219.9,682.4L220.9,682.4L221.9,682.4L222.9,682.4" stroke="#a83fa6" stroke-width="1.5" fill="none"/>
<path d="M42.5,682.4L43.5,682.4L44.5,682.4L45.5,682.4L46.5,682.4L47.5,682.4L48.5,682.4L49.5,682.4L50.5,682.4L51.5,682.4L52.5,682.4L53.5,682.4L54.5,682.4L55.5,682.4L56.5,682.4L57.5,682.4L58.5,682.4L59.5,682.4L60.5,682.4L61.5,682.4L62.5,682.4L63.5,682.4L64.5,682.4L65.6,682.4L66.6,682.4L67.6,682.4L68.6,682.4L69.6,682.4L70.6,682.4L71.6,682.4L72.6,682.4L73.6,682.4L74.6,682.4L75.6,682.4L76.6,682.4L77.6,682.4L78.6,682.4L79.6,682.4L80.6,682.4L81.6,682.4L82.6,682.4L83.6,682.4L84.6,682.4L85.6,682.4L86.6,682.4L87.6,682.4L88.6,682.4L89.6,682.4L90.6,682.4L91.6,682.4L92.6,682.4L93.6,682.3L94.6,682.3L95.6,682.3L96.6,682.3L97.6,682.2L98.6,682.2L99.6,682.1L100.6,682L101.6,681.9L102.6,681.8L103.6,681.7L104.6,681.5L105.6,681.3L106.6,681L107.6,680.7L108.6,680.3L109.6,679.8L110.7,679.3L111.7,678.7L112.7,677.9L113.7,677.1L114.7,676.1L115.7,675L116.7,673.7L117.7,672.3L118.7,670.7L119.7,668.9L120.7,667L121.7,664.8L122.7,662.4L123.7,659.9L124.7,657.1L125.7,654.2L126.7,651.1L127.7,647.8L128.7,644.4L129.7,640.9L130.7,637.3L131.7,633.6L132.7,629.9L133.7,626.2L134.7,622.6L135.7,619.1L136.7,615.7L137.7,612.5L138.7,609.6L139.7,606.9L140.7,604.5L141.7,602.5L142.7,600.9L143.7,599.7L144.7,598.9L145.7,598.5L146.7,598.6L147.7,599.1L148.7,600.1L149.7,601.4L150.7,603.2L151.7,605.4L152.7,607.8L153.7,610.6L154.7,613.6L155.8,616.9L156.8,620.3L157.8,623.9L158.8,627.5L159.8,631.2L160.8,634.9L161.8,638.6L162.8,642.2L163.8,645.7L164.8,649L165.8,652.2L166.8,655.3L167.8,658.2L168.8,660.8L169.8,663.3L170.8,665.6L171.8,667.7L172.8,669.6L173.8,671.3L174.8,672.8L175.8,674.2L176.8,675.4L177.8,676.5L178.8,677.4L179.8,678.2L180.8,678.9L181.8,679.5L182.8,680L183.8,680.4L184.8,680.8L185.8,681.1L186.8,681.3L187.8,681.5L188.8,681.7L189.8,681.9L190.8,682L191.8,682.1L192.8,682.1L193.8,682.2L194.8,682.2L195.8,682.3L196.8,682.3L197.8,682.3L198.8,682.3L199.8,682.4L200.9,682.4L201.9,682.4L202.9,682.4L203.9,682.4L204.9,682.4L205.9,682.4L206.9,682.4L207.9,682.4L208.9,682.4L209.9,682.4L210.9,682.4L211.9,682.4L212.9,682.4L213.9,682.4L214.9,682.4L215.9,682.4L216.9,682.4L217.9,682.4L218.9,682.4L219.9,682.4L220.9,682.4L221.9,682.4L222.9,682.4" stroke="#52d0c6" stroke-width="1.6" fill="none"/>
<path d="M42.5,682.4L43.5,682.4L44.5,682.4L45.5,682.4L46.5,682.4L47.5,682.4L48.5,682.4L49.5,682.4L50.5,682.4L51.5,682.4L52.5,682.4L53.5,682.4L54.5,682.4L55.5,682.4L56.5,682.4L57.5,682.4L58.5,682.4L59.5,682.4L60.5,682.4L61.5,682.4L62.5,682.4L63.5,682.4L64.5,682.4L65.6,682.4L66.6,682.4L67.6,682.4L68.6,682.4L69.6,682.4L70.6,682.4L71.6,682.4L72.6,682.4L73.6,682.4L74.6,682.4L75.6,682.4L76.6,682.4L77.6,682.4L78.6,682.4L79.6,682.4L80.6,682.4L81.6,682.4L82.6,682.4L83.6,682.4L84.6,682.4L85.6,682.4L86.6,682.4L87.6,682.4L88.6,682.4L89.6,682.4L90.6,682.4L91.6,682.4L92.6,682.4L93.6,682.4L94.6,682.4L95.6,682.4L96.6,682.4L97.6,682.4L98.6,682.4L99.6,682.4L100.6,682.4L101.6,682.4L102.6,682.4L103.6,682.4L104.6,682.4L105.6,682.4L106.6,682.4L107.6,682.4L108.6,682.4L109.6,682.4L110.7,682.4L111.7,682.4L112.7,682.4L113.7,682.4L114.7,682.4L115.7,682.4L116.7,682.4L117.7,682.4L118.7,682.3L119.7,682.3L120.7,682.3L121.7,682.3L122.7,682.2L123.7,682.2L124.7,682.1L125.7,682L126.7,682L127.7,681.8L128.7,681.7L129.7,681.5L130.7,681.3L131.7,681.1L132.7,680.8L133.7,680.4L134.7,680L135.7,679.5L136.7,679L137.7,678.3L138.7,677.5L139.7,676.6L140.7,675.6L141.7,674.5L142.7,673.1L143.7,671.7L144.7,670L145.7,668.1L146.7,666.1L147.7,663.8L148.7,661.3L149.7,658.6L150.7,655.7L151.7,652.6L152.7,649.2L153.7,645.7L154.7,641.9L155.8,638L156.8,634L157.8,629.8L158.8,625.5L159.8,621.2L160.8,616.9L161.8,612.5L162.8,608.3L163.8,604.2L164.8,600.2L165.8,596.4L166.8,592.9L167.8,589.7L168.8,586.8L169.8,584.3L170.8,582.3L171.8,580.6L172.8,579.4L173.8,578.7L174.8,578.5L175.8,578.8L176.8,579.5L177.8,580.8L178.8,582.5L179.8,584.6L180.8,587.2L181.8,590.1L182.8,593.3L183.8,596.9L184.8,600.7L185.8,604.7L186.8,608.8L187.8,613.1L188.8,617.4L189.8,621.7L190.8,626L191.8,630.3L192.8,634.4L193.8,638.5L194.8,642.4L195.8,646.1L196.8,649.6L197.8,652.9L198.8,656.1L199.8,659L200.9,661.6L201.9,664.1L202.9,666.3L203.9,668.4L204.9,670.2L205.9,671.8L206.9,673.3L207.9,674.6L208.9,675.8L209.9,676.8L210.9,677.6L211.9,678.4L212.9,679L213.9,679.6L214.9,680.1L215.9,680.5L216.9,680.8L217.9,681.1L218.9,681.4L219.9,681.6L220.9,681.7L221.9,681.9L222.9,682" stroke="#acacac" stroke-width="1.3" fill="none"/>
<path d="M42.5,677.5C43.3,675.9 45.6,671 47.1,667.8C48.6,664.6 50.2,660.3 51.8,658.4C53.4,656.5 54.5,657.7 56.5,656.1C58.5,654.5 60.8,652.9 63.5,649C66.2,645.1 69.8,638.1 72.9,632.6C76,627.1 79.2,622 82.3,616.1C85.4,610.2 88.6,604 91.7,597.3C94.8,590.6 98,583.5 101.1,576.1C104.2,568.7 107.8,559.9 110.5,552.6C113.2,545.4 115.6,536.9 117.6,532.6C119.6,528.3 120.5,527.2 122.3,526.8C124.1,526.4 125.7,527.2 128.2,530.3C130.7,533.4 134.4,541.1 137.1,545.6C139.8,550.1 141.8,554.2 144.1,557.3C146.4,560.4 148.8,562.5 151.2,564.4C153.5,566.3 155.8,568.2 158.2,568.6C160.5,569 163.2,567.2 165.3,566.7C167.5,566.2 169.3,565.2 171.1,565.6C172.9,566 174.3,566.2 175.9,569.1C177.5,572 179,577.7 180.6,583.2C182.2,588.7 183.7,595.7 185.3,602C186.9,608.3 188.4,614.5 190,620.8C191.6,627.1 192.9,633.3 194.7,639.6C196.4,645.9 198.3,652.9 200.5,658.4C202.7,663.9 204.8,669 207.6,672.5C210.3,676 214.5,678.1 217,679.6C219.5,681.1 221.6,681.2 222.5,681.5" stroke="#111" stroke-width="1.3" stroke-dasharray="1 1.5" fill="none" opacity="0.65"/>
<rect x="42.5" y="502.3" width="180.4" height="183.7" fill="none" stroke="#3a3a3a" stroke-width="1.3"/>
<path d="M36.5,502.3H42.5M36.5,532.3H42.5M36.5,562.4H42.5M36.5,592.4H42.5M36.5,622.4H42.5M36.5,652.5H42.5M36.5,682.5H42.5M42.5,686V690.5M78.6,686V690.5M114.7,686V690.5M150.7,686V690.5M186.8,686V690.5M222.9,686V690.5" stroke="#3a3a3a" stroke-width="1.3" fill="none"/>
<text x="40.7" y="705.1" class="tl">1700</text>
<text x="76.8" y="705.1" class="tl">1680</text>
<text x="112.9" y="705.1" class="tl">1660</text>
<text x="148.9" y="705.1" class="tl">1640</text>
<text x="185" y="705.1" class="tl">1620</text>
<text x="221.1" y="705.1" class="tl">1600</text>
<text x="42.7" y="515.8" style="font-size:13.3px">3 hr</text>
<text x="73.7" y="723.8" style="font-size:13px" textLength="101.4" lengthAdjust="spacingAndGlyphs">Wavenumber (cm</text>
<text x="176.1" y="719.5" style="font-size:8px">-</text>
<text x="179.9" y="719" style="font-size:11.5px">1</text>
<text x="187.1" y="723.8" style="font-size:13px">)</text>
<text transform="translate(28.5,593) rotate(-90)" text-anchor="middle" style="font-size:13px" textLength="97.8" lengthAdjust="spacingAndGlyphs">Ab s. Signal (a.u.)</text>
<path d="M552.8,196.2C554.5,195.8 559.4,194.8 562.8,193.5C566.2,192.2 569.6,190.5 573,188.4C576.4,186.3 579.8,183.7 583.2,180.7C586.6,177.7 590.4,173.9 593.4,170.5C596.4,167.1 598.5,163.7 601,160.3C603.5,156.9 606.2,152.9 608.7,150.1C611.2,147.3 613.8,145.6 616.3,143.7C618.8,141.8 621.5,140.3 624,138.6C626.5,136.9 629.1,134.8 631.6,133.5C634.1,132.2 636.8,131.8 639.3,131C641.8,130.2 644.7,129.5 646.9,128.4C649.1,127.3 650.5,126.5 652.7,124.6C654.9,122.7 658.2,119.9 660.3,116.9C662.4,113.9 663.7,111.4 665.4,106.7C667.1,102 668.8,96.1 670.5,88.9C672.2,81.7 673.9,71.5 675.6,63.4C677.3,55.3 679,46.1 680.7,40.4C682.4,34.6 684.1,29.1 685.8,28.9C687.5,28.7 689.2,33.4 690.9,39.1C692.6,44.9 694.3,54.2 696,63.4C697.7,72.5 699.4,84.2 701.1,94C702.8,103.8 704.5,113.5 706.2,122C707.9,130.5 709.6,138.2 711.3,145C713,151.8 714.7,157.4 716.4,162.9C718.1,168.4 719.8,173.8 721.5,178.2C723.2,182.6 724.5,186.4 726.6,189.6C728.7,192.8 731.5,195.4 734.3,197.3C737.1,199.2 741.5,200.4 743.2,201.1C745,201.8 744.5,201.3 744.8,201.3" stroke="#9a1f3a" stroke-width="1.8" fill="none"/>
<path d="M552.8,199.7L553.8,199.6L554.8,199.5L555.8,199.3L556.8,199.2L557.8,199L558.8,198.9L559.8,198.7L560.8,198.5L561.8,198.3L562.8,198.1L563.8,197.9L564.8,197.6L565.8,197.4L566.8,197.1L567.8,196.8L568.8,196.5L569.8,196.2L570.8,195.8L571.8,195.5L572.8,195.1L573.8,194.6L574.8,194.2L575.8,193.7L576.8,193.2L577.8,192.6L578.8,192.1L579.8,191.4L580.8,190.8L581.8,190.1L582.8,189.4L583.8,188.7L584.8,187.9L585.8,187L586.8,186.2L587.8,185.3L588.8,184.4L589.8,183.4L590.8,182.4L591.8,181.4L592.8,180.4L593.8,179.4L594.8,178.4L595.8,177.4L596.8,176.5L597.8,175.6L598.8,174.7L599.8,174L600.8,173.3L601.8,172.7L602.8,172.3L603.8,172L604.8,171.8L605.8,171.8L606.8,171.9L607.8,172.2L608.8,172.6L609.8,173.2L610.8,173.8L611.8,174.6L612.8,175.4L613.8,176.3L614.8,177.2L615.8,178.2L616.8,179.2L617.8,180.2L618.8,181.2L619.8,182.2L620.8,183.2L621.8,184.2L622.8,185.1L623.8,186L624.8,186.9L625.8,187.7L626.8,188.5L627.8,189.2L628.8,190L629.8,190.7L630.8,191.3L631.8,191.9L632.8,192.5L633.8,193.1L634.8,193.6L635.8,194.1L636.8,194.5L637.8,195L638.8,195.4L639.8,195.7L640.8,196.1L641.8,196.4L642.8,196.8L643.8,197L644.8,197.3L645.8,197.6L646.8,197.8L647.8,198.1L648.8,198.3L649.8,198.5L650.8,198.7L651.8,198.8L652.8,199L653.8,199.2L654.8,199.3L655.8,199.5L656.8,199.6L657.8,199.7L658.8,199.8L659.8,199.9L660.8,200.1L661.8,200.2L662.8,200.3L663.8,200.3L664.8,200.4L665.8,200.5L666.8,200.6L667.8,200.7L668.8,200.7L669.8,200.8L670.8,200.9L671.8,200.9L672.8,201L673.8,201.1L674.8,201.1L675.8,201.2L676.8,201.2L677.8,201.3L678.8,201.3L679.8,201.4L680.8,201.4L681.8,201.5L682.8,201.5L683.8,201.5L684.8,201.6L685.8,201.6L686.8,201.7L687.8,201.7L688.8,201.7L689.8,201.8L690.8,201.8L691.8,201.8L692.8,201.9L693.8,201.9L694.8,201.9L695.8,201.9L696.8,202L697.8,202L698.8,202L699.8,202L700.8,202.1L701.8,202.1L702.8,202.1L703.8,202.1L704.8,202.1L705.8,202.2L706.8,202.2L707.8,202.2L708.8,202.2L709.8,202.2L710.8,202.3L711.8,202.3L712.8,202.3L713.8,202.3L714.8,202.3L715.8,202.3L716.8,202.4L717.8,202.4L718.8,202.4L719.8,202.4L720.8,202.4L721.8,202.4L722.8,202.4L723.8,202.4L724.8,202.5L725.8,202.5L726.8,202.5L727.8,202.5L728.8,202.5L729.8,202.5L730.8,202.5L731.8,202.5L732.8,202.5L733.8,202.6L734.8,202.6L735.8,202.6L736.8,202.6L737.8,202.6L738.8,202.6L739.8,202.6L740.8,202.6L741.8,202.6L742.8,202.6L743.8,202.6L744.8,202.7" stroke="#45bd4c" stroke-width="1.7" fill="none"/>
<path d="M552.8,201.5L553.8,201.5L554.8,201.4L555.8,201.4L556.8,201.3L557.8,201.3L558.8,201.2L559.8,201.2L560.8,201.1L561.8,201.1L562.8,201L563.8,200.9L564.8,200.9L565.8,200.8L566.8,200.7L567.8,200.6L568.8,200.6L569.8,200.5L570.8,200.4L571.8,200.3L572.8,200.2L573.8,200.1L574.8,200L575.8,199.9L576.8,199.7L577.8,199.6L578.8,199.5L579.8,199.3L580.8,199.2L581.8,199L582.8,198.8L583.8,198.7L584.8,198.5L585.8,198.2L586.8,198L587.8,197.7L588.8,197.5L589.8,197.2L590.8,196.9L591.8,196.5L592.8,196.1L593.8,195.7L594.8,195.3L595.8,194.8L596.8,194.3L597.8,193.7L598.8,193.1L599.8,192.4L600.8,191.7L601.8,190.9L602.8,190.1L603.8,189.2L604.8,188.2L605.8,187.2L606.8,186.1L607.8,185L608.8,183.7L609.8,182.4L610.8,181L611.8,179.6L612.8,178.1L613.8,176.5L614.8,174.9L615.8,173.2L616.8,171.5L617.8,169.8L618.8,168.1L619.8,166.4L620.8,164.8L621.8,163.3L622.8,161.9L623.8,160.7L624.8,159.6L625.8,158.8L626.8,158.2L627.8,157.9L628.8,157.8L629.8,158.1L630.8,158.6L631.8,159.3L632.8,160.3L633.8,161.5L634.8,162.9L635.8,164.4L636.8,165.9L637.8,167.6L638.8,169.3L639.8,171L640.8,172.7L641.8,174.4L642.8,176L643.8,177.6L644.8,179.1L645.8,180.6L646.8,182L647.8,183.3L648.8,184.6L649.8,185.8L650.8,186.9L651.8,188L652.8,188.9L653.8,189.8L654.8,190.7L655.8,191.5L656.8,192.2L657.8,192.9L658.8,193.5L659.8,194.1L660.8,194.6L661.8,195.1L662.8,195.6L663.8,196L664.8,196.4L665.8,196.8L666.8,197.1L667.8,197.4L668.8,197.7L669.8,197.9L670.8,198.2L671.8,198.4L672.8,198.6L673.8,198.8L674.8,199L675.8,199.1L676.8,199.3L677.8,199.4L678.8,199.6L679.8,199.7L680.8,199.8L681.8,200L682.8,200.1L683.8,200.2L684.8,200.3L685.8,200.4L686.8,200.5L687.8,200.5L688.8,200.6L689.8,200.7L690.8,200.8L691.8,200.8L692.8,200.9L693.8,201L694.8,201L695.8,201.1L696.8,201.2L697.8,201.2L698.8,201.3L699.8,201.3L700.8,201.4L701.8,201.4L702.8,201.5L703.8,201.5L704.8,201.5L705.8,201.6L706.8,201.6L707.8,201.7L708.8,201.7L709.8,201.7L710.8,201.8L711.8,201.8L712.8,201.8L713.8,201.9L714.8,201.9L715.8,201.9L716.8,201.9L717.8,202L718.8,202L719.8,202L720.8,202L721.8,202.1L722.8,202.1L723.8,202.1L724.8,202.1L725.8,202.2L726.8,202.2L727.8,202.2L728.8,202.2L729.8,202.2L730.8,202.3L731.8,202.3L732.8,202.3L733.8,202.3L734.8,202.3L735.8,202.3L736.8,202.4L737.8,202.4L738.8,202.4L739.8,202.4L740.8,202.4L741.8,202.4L742.8,202.4L743.8,202.5L744.8,202.5" stroke="#e6ea5c" stroke-width="2.0" fill="none"/>
<path d="M552.8,203.2L553.8,203.2L554.8,203.2L555.8,203.2L556.8,203.2L557.8,203.2L558.8,203.2L559.8,203.2L560.8,203.2L561.8,203.2L562.8,203.2L563.8,203.2L564.8,203.2L565.8,203.2L566.8,203.2L567.8,203.2L568.8,203.2L569.8,203.2L570.8,203.2L571.8,203.2L572.8,203.2L573.8,203.2L574.8,203.2L575.8,203.2L576.8,203.2L577.8,203.2L578.8,203.2L579.8,203.2L580.8,203.2L581.8,203.2L582.8,203.2L583.8,203.2L584.8,203.2L585.8,203.2L586.8,203.2L587.8,203.2L588.8,203.2L589.8,203.2L590.8,203.2L591.8,203.2L592.8,203.2L593.8,203.2L594.8,203.2L595.8,203.2L596.8,203.2L597.8,203.2L598.8,203.2L599.8,203.2L600.8,203.2L601.8,203.2L602.8,203.2L603.8,203.2L604.8,203.2L605.8,203.1L606.8,203.1L607.8,203.1L608.8,203.1L609.8,203L610.8,203L611.8,202.9L612.8,202.9L613.8,202.8L614.8,202.7L615.8,202.5L616.8,202.4L617.8,202.2L618.8,201.9L619.8,201.7L620.8,201.3L621.8,200.9L622.8,200.5L623.8,199.9L624.8,199.3L625.8,198.6L626.8,197.7L627.8,196.8L628.8,195.8L629.8,194.6L630.8,193.4L631.8,192L632.8,190.4L633.8,188.8L634.8,187.1L635.8,185.2L636.8,183.2L637.8,181.2L638.8,179.1L639.8,177L640.8,174.8L641.8,172.7L642.8,170.5L643.8,168.5L644.8,166.5L645.8,164.6L646.8,162.9L647.8,161.4L648.8,160.1L649.8,158.9L650.8,158.1L651.8,157.4L652.8,157.1L653.8,157L654.8,157.2L655.8,157.7L656.8,158.4L657.8,159.4L658.8,160.6L659.8,162L660.8,163.6L661.8,165.4L662.8,167.3L663.8,169.3L664.8,171.4L665.8,173.5L666.8,175.7L667.8,177.8L668.8,180L669.8,182L670.8,184L671.8,186L672.8,187.8L673.8,189.5L674.8,191.1L675.8,192.5L676.8,193.9L677.8,195.1L678.8,196.2L679.8,197.2L680.8,198.1L681.8,198.9L682.8,199.5L683.8,200.1L684.8,200.6L685.8,201.1L686.8,201.5L687.8,201.8L688.8,202L689.8,202.3L690.8,202.4L691.8,202.6L692.8,202.7L693.8,202.8L694.8,202.9L695.8,203L696.8,203L697.8,203.1L698.8,203.1L699.8,203.1L700.8,203.1L701.8,203.2L702.8,203.2L703.8,203.2L704.8,203.2L705.8,203.2L706.8,203.2L707.8,203.2L708.8,203.2L709.8,203.2L710.8,203.2L711.8,203.2L712.8,203.2L713.8,203.2L714.8,203.2L715.8,203.2L716.8,203.2L717.8,203.2L718.8,203.2L719.8,203.2L720.8,203.2L721.8,203.2L722.8,203.2L723.8,203.2L724.8,203.2L725.8,203.2L726.8,203.2L727.8,203.2L728.8,203.2L729.8,203.2L730.8,203.2L731.8,203.2L732.8,203.2L733.8,203.2L734.8,203.2L735.8,203.2L736.8,203.2L737.8,203.2L738.8,203.2L739.8,203.2L740.8,203.2L741.8,203.2L742.8,203.2L743.8,203.2L744.8,203.2" stroke="#231d7a" stroke-width="1.5" fill="none"/>
<path d="M552.8,203.2L553.8,203.2L554.8,203.2L555.8,203.2L556.8,203.2L557.8,203.2L558.8,203.2L559.8,203.2L560.8,203.2L561.8,203.2L562.8,203.2L563.8,203.2L564.8,203.2L565.8,203.2L566.8,203.2L567.8,203.2L568.8,203.2L569.8,203.2L570.8,203.2L571.8,203.2L572.8,203.2L573.8,203.2L574.8,203.2L575.8,203.2L576.8,203.2L577.8,203.2L578.8,203.2L579.8,203.2L580.8,203.2L581.8,203.2L582.8,203.2L583.8,203.2L584.8,203.2L585.8,203.2L586.8,203.2L587.8,203.2L588.8,203.2L589.8,203.2L590.8,203.2L591.8,203.2L592.8,203.2L593.8,203.2L594.8,203.2L595.8,203.2L596.8,203.2L597.8,203.2L598.8,203.2L599.8,203.2L600.8,203.2L601.8,203.2L602.8,203.2L603.8,203.2L604.8,203.2L605.8,203.2L606.8,203.2L607.8,203.2L608.8,203.2L609.8,203.2L610.8,203.2L611.8,203.2L612.8,203.2L613.8,203.2L614.8,203.2L615.8,203.2L616.8,203.2L617.8,203.2L618.8,203.2L619.8,203.2L620.8,203.2L621.8,203.2L622.8,203.2L623.8,203.2L624.8,203.2L625.8,203.2L626.8,203.2L627.8,203.2L628.8,203.2L629.8,203.2L630.8,203.2L631.8,203.2L632.8,203.2L633.8,203.2L634.8,203.2L635.8,203.1L636.8,203.1L637.8,203.1L638.8,203.1L639.8,203L640.8,202.9L641.8,202.9L642.8,202.7L643.8,202.6L644.8,202.4L645.8,202.2L646.8,201.9L647.8,201.5L648.8,201.1L649.8,200.5L650.8,199.8L651.8,199L652.8,198L653.8,196.8L654.8,195.4L655.8,193.8L656.8,191.8L657.8,189.6L658.8,187L659.8,184L660.8,180.6L661.8,176.8L662.8,172.6L663.8,167.9L664.8,162.7L665.8,157.1L666.8,151.1L667.8,144.6L668.8,137.8L669.8,130.7L670.8,123.2L671.8,115.6L672.8,107.9L673.8,100.1L674.8,92.4L675.8,85L676.8,77.8L677.8,71L678.8,64.8L679.8,59.2L680.8,54.3L681.8,50.3L682.8,47.1L683.8,44.9L684.8,43.7L685.8,43.6L686.8,44.4L687.8,46.3L688.8,49.1L689.8,52.8L690.8,57.4L691.8,62.8L692.8,68.8L693.8,75.4L694.8,82.4L695.8,89.8L696.8,97.5L697.8,105.2L698.8,113L699.8,120.6L700.8,128.1L701.8,135.4L702.8,142.3L703.8,148.9L704.8,155.1L705.8,160.9L706.8,166.2L707.8,171L708.8,175.4L709.8,179.4L710.8,182.9L711.8,186L712.8,188.7L713.8,191.1L714.8,193.1L715.8,194.9L716.8,196.4L717.8,197.6L718.8,198.7L719.8,199.6L720.8,200.3L721.8,200.9L722.8,201.4L723.8,201.8L724.8,202.1L725.8,202.3L726.8,202.5L727.8,202.7L728.8,202.8L729.8,202.9L730.8,203L731.8,203L732.8,203.1L733.8,203.1L734.8,203.1L735.8,203.2L736.8,203.2L737.8,203.2L738.8,203.2L739.8,203.2L740.8,203.2L741.8,203.2L742.8,203.2L743.8,203.2L744.8,203.2" stroke="#a83fa6" stroke-width="1.5" fill="none"/>
<path d="M552.8,203.2L553.8,203.2L554.8,203.2L555.8,203.2L556.8,203.2L557.8,203.2L558.8,203.2L559.8,203.2L560.8,203.2L561.8,203.2L562.8,203.2L563.8,203.2L564.8,203.2L565.8,203.2L566.8,203.2L567.8,203.2L568.8,203.2L569.8,203.2L570.8,203.2L571.8,203.2L572.8,203.2L573.8,203.2L574.8,203.2L575.8,203.2L576.8,203.2L577.8,203.2L578.8,203.2L579.8,203.2L580.8,203.2L581.8,203.2L582.8,203.2L583.8,203.2L584.8,203.2L585.8,203.2L586.8,203.2L587.8,203.2L588.8,203.2L589.8,203.2L590.8,203.2L591.8,203.2L592.8,203.2L593.8,203.2L594.8,203.2L595.8,203.2L596.8,203.2L597.8,203.2L598.8,203.2L599.8,203.2L600.8,203.2L601.8,203.2L602.8,203.2L603.8,203.2L604.8,203.2L605.8,203.2L606.8,203.2L607.8,203.2L608.8,203.2L609.8,203.2L610.8,203.2L611.8,203.2L612.8,203.2L613.8,203.2L614.8,203.2L615.8,203.2L616.8,203.2L617.8,203.2L618.8,203.2L619.8,203.2L620.8,203.2L621.8,203.2L622.8,203.2L623.8,203.2L624.8,203.2L625.8,203.2L626.8,203.2L627.8,203.2L628.8,203.2L629.8,203.2L630.8,203.2L631.8,203.2L632.8,203.2L633.8,203.2L634.8,203.2L635.8,203.2L636.8,203.2L637.8,203.2L638.8,203.2L639.8,203.2L640.8,203.2L641.8,203.2L642.8,203.2L643.8,203.2L644.8,203.2L645.8,203.2L646.8,203.2L647.8,203.2L648.8,203.2L649.8,203.2L650.8,203.2L651.8,203.2L652.8,203.2L653.8,203.2L654.8,203.2L655.8,203.2L656.8,203.2L657.8,203.2L658.8,203.2L659.8,203.2L660.8,203.2L661.8,203.2L662.8,203.2L663.8,203.2L664.8,203.2L665.8,203.2L666.8,203.2L667.8,203.2L668.8,203.2L669.8,203.2L670.8,203.2L671.8,203.2L672.8,203.2L673.8,203.2L674.8,203.2L675.8,203.2L676.8,203.2L677.8,203.2L678.8,203.2L679.8,203.2L680.8,203.1L681.8,203.1L682.8,203.1L683.8,203L684.8,203L685.8,202.9L686.8,202.7L687.8,202.6L688.8,202.4L689.8,202.1L690.8,201.8L691.8,201.3L692.8,200.8L693.8,200.2L694.8,199.4L695.8,198.5L696.8,197.5L697.8,196.2L698.8,194.9L699.8,193.4L700.8,191.7L701.8,189.9L702.8,188L703.8,186L704.8,184L705.8,181.9L706.8,180L707.8,178.1L708.8,176.4L709.8,174.9L710.8,173.7L711.8,172.7L712.8,172.1L713.8,171.8L714.8,171.9L715.8,172.3L716.8,173.1L717.8,174.2L718.8,175.5L719.8,177.1L720.8,178.9L721.8,180.8L722.8,182.8L723.8,184.9L724.8,186.9L725.8,188.8L726.8,190.7L727.8,192.4L728.8,194L729.8,195.5L730.8,196.8L731.8,197.9L732.8,198.9L733.8,199.8L734.8,200.5L735.8,201.1L736.8,201.5L737.8,201.9L738.8,202.2L739.8,202.5L740.8,202.7L741.8,202.8L742.8,202.9L743.8,203L744.8,203.1" stroke="#52d0c6" stroke-width="1.6" fill="none"/>
<path d="M552.8,196.2C554.5,195.8 559.4,194.8 562.8,193.5C566.2,192.2 569.6,190.5 573,188.4C576.4,186.3 579.8,183.7 583.2,180.7C586.6,177.7 590.4,173.9 593.4,170.5C596.4,167.1 598.5,163.7 601,160.3C603.5,156.9 606.2,152.9 608.7,150.1C611.2,147.3 613.8,145.6 616.3,143.7C618.8,141.8 621.5,140.3 624,138.6C626.5,136.9 629.1,134.8 631.6,133.5C634.1,132.2 636.8,131.8 639.3,131C641.8,130.2 644.7,129.5 646.9,128.4C649.1,127.3 650.5,126.5 652.7,124.6C654.9,122.7 658.2,119.9 660.3,116.9C662.4,113.9 663.7,111.4 665.4,106.7C667.1,102 668.8,96.1 670.5,88.9C672.2,81.7 673.9,71.5 675.6,63.4C677.3,55.3 679,46.1 680.7,40.4C682.4,34.6 684.1,29.1 685.8,28.9C687.5,28.7 689.2,33.4 690.9,39.1C692.6,44.9 694.3,54.2 696,63.4C697.7,72.5 699.4,84.2 701.1,94C702.8,103.8 704.5,113.5 706.2,122C707.9,130.5 709.6,138.2 711.3,145C713,151.8 714.7,157.4 716.4,162.9C718.1,168.4 719.8,173.8 721.5,178.2C723.2,182.6 724.5,186.4 726.6,189.6C728.7,192.8 731.5,195.4 734.3,197.3C737.1,199.2 741.5,200.4 743.2,201.1C745,201.8 744.5,201.3 744.8,201.3" stroke="#111" stroke-width="1.3" stroke-dasharray="1 1.5" fill="none" opacity="0.65"/>
<rect x="552.8" y="17" width="192" height="191.6" fill="none" stroke="#3a3a3a" stroke-width="1.3"/>
<path d="M546.8,17H552.8M546.8,63.6H552.8M546.8,110.2H552.8M546.8,156.7H552.8M546.8,203.3H552.8M552.8,208.6V213.1M591.2,208.6V213.1M629.6,208.6V213.1M668,208.6V213.1M706.4,208.6V213.1M744.8,208.6V213.1" stroke="#3a3a3a" stroke-width="1.3" fill="none"/>
<text x="551.3" y="228.7" class="tl2">1700</text>
<text x="589.7" y="228.7" class="tl2">1680</text>
<text x="628.1" y="228.7" class="tl2">1660</text>
<text x="666.5" y="228.7" class="tl2">1640</text>
<text x="704.9" y="228.7" class="tl2">1620</text>
<text x="743.3" y="228.7" class="tl2">1600</text>
<text x="555.2" y="34.7" style="font-size:14px">0 min</text>
<text x="595.2" y="246.9" style="font-size:12px" textLength="94.8" lengthAdjust="spacingAndGlyphs">Wave number (cm</text>
<text x="689.9" y="243.2" style="font-size:8px">-</text>
<text x="692.3" y="242.7" style="font-size:11.5px">1</text>
<text x="698.1" y="246.9" style="font-size:12px">)</text>
<text transform="translate(530.6,112) rotate(-90)" text-anchor="middle" style="font-size:12px" textLength="85.6" lengthAdjust="spacingAndGlyphs">Abs. Signal (a.u)</text>
<path d="M811.5,207.8C813.1,206.6 817.2,203.4 820.9,200.4C824.6,197.4 829.5,194.4 833.8,190.1C838.1,185.8 842.4,179.5 846.7,174.6C851,169.7 855.2,164.8 859.5,160.5C863.8,156.2 868.1,152.1 872.4,148.9C876.7,145.7 881,143 885.3,141.1C889.6,139.2 895.2,138.2 898.2,137.3C901.2,136.5 900.9,136.7 903,136C905.1,135.3 908.1,134.7 910.7,133.4C913.3,132.1 915.9,130.8 918.5,128.2C921.1,125.6 924.1,122.2 926.2,117.9C928.4,113.6 929.7,109.4 931.4,102.5C933.1,95.6 934.8,85.3 936.5,76.7C938.2,68.1 940.2,56.5 941.7,50.9C943.2,45.3 944.2,43.4 945.5,43.2C946.8,43 947.9,44 949.4,49.6C950.9,55.2 952.8,67.5 954.5,76.7C956.2,86 958,96.1 959.7,105.1C961.4,114.1 963.2,123.1 964.9,130.8C966.6,138.5 968.3,145 970,151.4C971.7,157.8 973.5,164.3 975.2,169.5C976.9,174.7 978.1,177.9 980.3,182.4C982.4,186.9 985.5,192.8 988.1,196.5C990.7,200.2 993.4,202.5 995.8,204.3C998.1,206.2 1001.1,207.1 1002.2,207.6" stroke="#9a1f3a" stroke-width="1.8" fill="none"/>
<path d="M811.5,208L812.5,208L813.5,207.9L814.5,207.8L815.5,207.6L816.5,207.4L817.5,207.1L818.5,206.8L819.5,206.5L820.5,206.1L821.5,205.7L822.5,205.4L823.5,205.2L824.5,205.1L825.5,205.1L826.5,205.3L827.5,205.5L828.5,205.8L829.5,206.2L830.5,206.6L831.5,206.9L832.5,207.2L833.5,207.5L834.5,207.7L835.5,207.8L836.5,207.9L837.5,208L838.5,208L839.5,208.1L840.5,208.1L841.5,208.1L842.5,208.1L843.5,208.1L844.5,208.1L845.5,208.1L846.5,208.1L847.5,208.1L848.5,208.1L849.5,208.1L850.5,208.1L851.5,208.1L852.5,208.1L853.5,208.1L854.5,208.1L855.5,208.1L856.5,208.1L857.5,208.1L858.5,208.1L859.5,208.1L860.5,208.1L861.5,208.1L862.5,208.1L863.5,208.1L864.5,208.1L865.5,208.1L866.5,208.1L867.5,208.1L868.5,208.1L869.5,208.1L870.5,208.1L871.5,208.1L872.5,208.1L873.5,208.1L874.5,208.1L875.5,208.1L876.5,208.1L877.5,208.1L878.5,208.1L879.5,208.1L880.5,208.1L881.5,208.1L882.5,208.1L883.5,208.1L884.5,208.1L885.5,208.1L886.5,208.1L887.5,208.1L888.5,208.1L889.5,208.1L890.5,208.1L891.5,208.1L892.5,208.1L893.5,208.1L894.5,208.1L895.5,208.1L896.5,208.1L897.5,208.1L898.5,208.1L899.5,208.1L900.5,208.1L901.5,208.1L902.5,208.1L903.5,208.1L904.5,208.1L905.5,208.1L906.5,208.1L907.5,208.1L908.5,208.1L909.5,208.1L910.5,208.1L911.5,208.1L912.5,208.1L913.5,208.1L914.5,208.1L915.5,208.1L916.5,208.1L917.5,208.1L918.5,208.1L919.5,208.1L920.5,208.1L921.5,208.1L922.5,208.1L923.5,208.1L924.5,208.1L925.5,208.1L926.5,208.1L927.5,208.1L928.5,208.1L929.5,208.1L930.5,208.1L931.5,208.1L932.5,208.1L933.5,208.1L934.5,208.1L935.5,208.1L936.5,208.1L937.5,208.1L938.5,208.1L939.5,208.1L940.5,208.1L941.5,208.1L942.5,208.1L943.5,208.1L944.5,208.1L945.5,208.1L946.5,208.1L947.5,208.1L948.5,208.1L949.5,208.1L950.5,208.1L951.5,208.1L952.5,208.1L953.5,208.1L954.5,208.1L955.5,208.1L956.5,208.1L957.5,208.1L958.5,208.1L959.5,208.1L960.5,208.1L961.5,208.1L962.5,208.1L963.5,208.1L964.5,208.1L965.5,208.1L966.5,208.1L967.5,208.1L968.5,208.1L969.5,208.1L970.5,208.1L971.5,208.1L972.5,208.1L973.5,208.1L974.5,208.1L975.5,208.1L976.5,208.1L977.5,208.1L978.5,208.1L979.5,208.1L980.5,208.1L981.5,208.1L982.5,208.1L983.5,208.1L984.5,208.1L985.5,208.1L986.5,208.1L987.5,208.1L988.5,208.1L989.5,208.1L990.5,208.1L991.5,208.1L992.5,208.1L993.5,208.1L994.5,208.1L995.5,208.1L996.5,208.1L997.5,208.1L998.5,208.1L999.5,208.1L1000.5,208.1L1001.5,208.1L1002.5,208.1" stroke="#45bd4c" stroke-width="1.7" fill="none"/>
<path d="M811.5,208.1L812.5,208.1L813.5,208.1L814.5,208.1L815.5,208.1L816.5,208.1L817.5,208.1L818.5,208.1L819.5,208.1L820.5,208.1L821.5,208.1L822.5,208.1L823.5,208L824.5,208L825.5,208L826.5,207.9L827.5,207.9L828.5,207.8L829.5,207.6L830.5,207.5L831.5,207.3L832.5,207.1L833.5,206.8L834.5,206.6L835.5,206.3L836.5,206L837.5,205.8L838.5,205.5L839.5,205.3L840.5,205.2L841.5,205.1L842.5,205.1L843.5,205.2L844.5,205.3L845.5,205.5L846.5,205.7L847.5,206L848.5,206.3L849.5,206.5L850.5,206.8L851.5,207.1L852.5,207.3L853.5,207.5L854.5,207.6L855.5,207.7L856.5,207.8L857.5,207.9L858.5,208L859.5,208L860.5,208L861.5,208.1L862.5,208.1L863.5,208.1L864.5,208.1L865.5,208.1L866.5,208.1L867.5,208.1L868.5,208.1L869.5,208.1L870.5,208.1L871.5,208.1L872.5,208.1L873.5,208.1L874.5,208.1L875.5,208.1L876.5,208.1L877.5,208.1L878.5,208.1L879.5,208.1L880.5,208.1L881.5,208.1L882.5,208.1L883.5,208.1L884.5,208.1L885.5,208.1L886.5,208.1L887.5,208.1L888.5,208.1L889.5,208.1L890.5,208.1L891.5,208.1L892.5,208.1L893.5,208.1L894.5,208.1L895.5,208.1L896.5,208.1L897.5,208.1L898.5,208.1L899.5,208.1L900.5,208.1L901.5,208.1L902.5,208.1L903.5,208.1L904.5,208.1L905.5,208.1L906.5,208.1L907.5,208.1L908.5,208.1L909.5,208.1L910.5,208.1L911.5,208.1L912.5,208.1L913.5,208.1L914.5,208.1L915.5,208.1L916.5,208.1L917.5,208.1L918.5,208.1L919.5,208.1L920.5,208.1L921.5,208.1L922.5,208.1L923.5,208.1L924.5,208.1L925.5,208.1L926.5,208.1L927.5,208.1L928.5,208.1L929.5,208.1L930.5,208.1L931.5,208.1L932.5,208.1L933.5,208.1L934.5,208.1L935.5,208.1L936.5,208.1L937.5,208.1L938.5,208.1L939.5,208.1L940.5,208.1L941.5,208.1L942.5,208.1L943.5,208.1L944.5,208.1L945.5,208.1L946.5,208.1L947.5,208.1L948.5,208.1L949.5,208.1L950.5,208.1L951.5,208.1L952.5,208.1L953.5,208.1L954.5,208.1L955.5,208.1L956.5,208.1L957.5,208.1L958.5,208.1L959.5,208.1L960.5,208.1L961.5,208.1L962.5,208.1L963.5,208.1L964.5,208.1L965.5,208.1L966.5,208.1L967.5,208.1L968.5,208.1L969.5,208.1L970.5,208.1L971.5,208.1L972.5,208.1L973.5,208.1L974.5,208.1L975.5,208.1L976.5,208.1L977.5,208.1L978.5,208.1L979.5,208.1L980.5,208.1L981.5,208.1L982.5,208.1L983.5,208.1L984.5,208.1L985.5,208.1L986.5,208.1L987.5,208.1L988.5,208.1L989.5,208.1L990.5,208.1L991.5,208.1L992.5,208.1L993.5,208.1L994.5,208.1L995.5,208.1L996.5,208.1L997.5,208.1L998.5,208.1L999.5,208.1L1000.5,208.1L1001.5,208.1L1002.5,208.1" stroke="#e6ea5c" stroke-width="2.0" fill="none"/>
<path d="M811.5,206.2L812.5,206L813.5,205.7L814.5,205.5L815.5,205.2L816.5,204.9L817.5,204.6L818.5,204.3L819.5,203.9L820.5,203.5L821.5,203.1L822.5,202.7L823.5,202.2L824.5,201.7L825.5,201.1L826.5,200.5L827.5,199.9L828.5,199.2L829.5,198.5L830.5,197.8L831.5,197L832.5,196.2L833.5,195.3L834.5,194.4L835.5,193.5L836.5,192.5L837.5,191.5L838.5,190.4L839.5,189.3L840.5,188.2L841.5,187L842.5,185.8L843.5,184.5L844.5,183.3L845.5,182L846.5,180.6L847.5,179.3L848.5,177.9L849.5,176.5L850.5,175.1L851.5,173.7L852.5,172.3L853.5,170.9L854.5,169.5L855.5,168.1L856.5,166.7L857.5,165.3L858.5,164L859.5,162.7L860.5,161.4L861.5,160.1L862.5,158.9L863.5,157.8L864.5,156.7L865.5,155.6L866.5,154.6L867.5,153.7L868.5,152.9L869.5,152.1L870.5,151.4L871.5,150.8L872.5,150.3L873.5,149.8L874.5,149.4L875.5,149.2L876.5,149L877.5,148.9L878.5,148.9L879.5,149L880.5,149.2L881.5,149.5L882.5,149.8L883.5,150.3L884.5,150.8L885.5,151.4L886.5,152.2L887.5,152.9L888.5,153.8L889.5,154.7L890.5,155.7L891.5,156.7L892.5,157.8L893.5,159L894.5,160.2L895.5,161.5L896.5,162.7L897.5,164.1L898.5,165.4L899.5,166.8L900.5,168.2L901.5,169.6L902.5,171L903.5,172.4L904.5,173.8L905.5,175.2L906.5,176.6L907.5,178L908.5,179.4L909.5,180.7L910.5,182.1L911.5,183.4L912.5,184.6L913.5,185.9L914.5,187.1L915.5,188.3L916.5,189.4L917.5,190.5L918.5,191.5L919.5,192.6L920.5,193.6L921.5,194.5L922.5,195.4L923.5,196.2L924.5,197.1L925.5,197.8L926.5,198.6L927.5,199.3L928.5,199.9L929.5,200.6L930.5,201.1L931.5,201.7L932.5,202.2L933.5,202.7L934.5,203.1L935.5,203.6L936.5,203.9L937.5,204.3L938.5,204.6L939.5,205L940.5,205.2L941.5,205.5L942.5,205.8L943.5,206L944.5,206.2L945.5,206.4L946.5,206.6L947.5,206.7L948.5,206.9L949.5,207L950.5,207.1L951.5,207.2L952.5,207.3L953.5,207.4L954.5,207.5L955.5,207.5L956.5,207.6L957.5,207.7L958.5,207.7L959.5,207.8L960.5,207.8L961.5,207.8L962.5,207.9L963.5,207.9L964.5,207.9L965.5,207.9L966.5,208L967.5,208L968.5,208L969.5,208L970.5,208L971.5,208L972.5,208L973.5,208.1L974.5,208.1L975.5,208.1L976.5,208.1L977.5,208.1L978.5,208.1L979.5,208.1L980.5,208.1L981.5,208.1L982.5,208.1L983.5,208.1L984.5,208.1L985.5,208.1L986.5,208.1L987.5,208.1L988.5,208.1L989.5,208.1L990.5,208.1L991.5,208.1L992.5,208.1L993.5,208.1L994.5,208.1L995.5,208.1L996.5,208.1L997.5,208.1L998.5,208.1L999.5,208.1L1000.5,208.1L1001.5,208.1L1002.5,208.1" stroke="#231d7a" stroke-width="1.5" fill="none"/>
<path d="M811.5,208.1L812.5,208.1L813.5,208.1L814.5,208.1L815.5,208.1L816.5,208.1L817.5,208.1L818.5,208.1L819.5,208.1L820.5,208.1L821.5,208.1L822.5,208.1L823.5,208.1L824.5,208.1L825.5,208.1L826.5,208.1L827.5,208.1L828.5,208.1L829.5,208.1L830.5,208.1L831.5,208.1L832.5,208.1L833.5,208.1L834.5,208.1L835.5,208.1L836.5,208.1L837.5,208.1L838.5,208.1L839.5,208.1L840.5,208.1L841.5,208.1L842.5,208.1L843.5,208.1L844.5,208.1L845.5,208.1L846.5,208L847.5,208L848.5,208L849.5,208L850.5,208L851.5,208L852.5,207.9L853.5,207.9L854.5,207.9L855.5,207.8L856.5,207.8L857.5,207.7L858.5,207.7L859.5,207.6L860.5,207.5L861.5,207.5L862.5,207.4L863.5,207.3L864.5,207.1L865.5,207L866.5,206.8L867.5,206.7L868.5,206.5L869.5,206.2L870.5,206L871.5,205.7L872.5,205.4L873.5,205.1L874.5,204.8L875.5,204.4L876.5,203.9L877.5,203.5L878.5,203L879.5,202.4L880.5,201.8L881.5,201.2L882.5,200.5L883.5,199.7L884.5,198.9L885.5,198.1L886.5,197.2L887.5,196.3L888.5,195.2L889.5,194.2L890.5,193.1L891.5,191.9L892.5,190.7L893.5,189.4L894.5,188.1L895.5,186.7L896.5,185.3L897.5,183.9L898.5,182.4L899.5,180.9L900.5,179.4L901.5,177.9L902.5,176.4L903.5,174.8L904.5,173.3L905.5,171.7L906.5,170.2L907.5,168.7L908.5,167.3L909.5,165.9L910.5,164.5L911.5,163.2L912.5,162L913.5,160.8L914.5,159.7L915.5,158.7L916.5,157.8L917.5,157L918.5,156.3L919.5,155.7L920.5,155.2L921.5,154.9L922.5,154.6L923.5,154.5L924.5,154.5L925.5,154.6L926.5,154.9L927.5,155.2L928.5,155.7L929.5,156.3L930.5,157L931.5,157.8L932.5,158.7L933.5,159.7L934.5,160.8L935.5,162L936.5,163.2L937.5,164.5L938.5,165.9L939.5,167.3L940.5,168.7L941.5,170.2L942.5,171.7L943.5,173.3L944.5,174.8L945.5,176.4L946.5,177.9L947.5,179.4L948.5,180.9L949.5,182.4L950.5,183.9L951.5,185.3L952.5,186.7L953.5,188.1L954.5,189.4L955.5,190.7L956.5,191.9L957.5,193.1L958.5,194.2L959.5,195.2L960.5,196.3L961.5,197.2L962.5,198.1L963.5,199L964.5,199.7L965.5,200.5L966.5,201.2L967.5,201.8L968.5,202.4L969.5,203L970.5,203.5L971.5,203.9L972.5,204.4L973.5,204.8L974.5,205.1L975.5,205.4L976.5,205.7L977.5,206L978.5,206.2L979.5,206.5L980.5,206.7L981.5,206.8L982.5,207L983.5,207.1L984.5,207.3L985.5,207.4L986.5,207.5L987.5,207.5L988.5,207.6L989.5,207.7L990.5,207.7L991.5,207.8L992.5,207.8L993.5,207.9L994.5,207.9L995.5,207.9L996.5,208L997.5,208L998.5,208L999.5,208L1000.5,208L1001.5,208L1002.5,208.1" stroke="#a83fa6" stroke-width="1.5" fill="none"/>
<path d="M811.5,208.1L812.5,208.1L813.5,208.1L814.5,208.1L815.5,208.1L816.5,208.1L817.5,208.1L818.5,208.1L819.5,208.1L820.5,208.1L821.5,208.1L822.5,208.1L823.5,208.1L824.5,208.1L825.5,208.1L826.5,208.1L827.5,208.1L828.5,208.1L829.5,208.1L830.5,208.1L831.5,208.1L832.5,208.1L833.5,208.1L834.5,208.1L835.5,208.1L836.5,208.1L837.5,208.1L838.5,208.1L839.5,208.1L840.5,208.1L841.5,208.1L842.5,208.1L843.5,208.1L844.5,208.1L845.5,208.1L846.5,208.1L847.5,208.1L848.5,208.1L849.5,208.1L850.5,208.1L851.5,208.1L852.5,208.1L853.5,208.1L854.5,208.1L855.5,208.1L856.5,208.1L857.5,208.1L858.5,208.1L859.5,208.1L860.5,208.1L861.5,208.1L862.5,208.1L863.5,208.1L864.5,208.1L865.5,208.1L866.5,208.1L867.5,208.1L868.5,208.1L869.5,208.1L870.5,208.1L871.5,208.1L872.5,208.1L873.5,208.1L874.5,208.1L875.5,208.1L876.5,208.1L877.5,208.1L878.5,208.1L879.5,208.1L880.5,208.1L881.5,208.1L882.5,208.1L883.5,208.1L884.5,208.1L885.5,208.1L886.5,208.1L887.5,208.1L888.5,208.1L889.5,208.1L890.5,208.1L891.5,208.1L892.5,208.1L893.5,208L894.5,208L895.5,208L896.5,208L897.5,207.9L898.5,207.9L899.5,207.8L900.5,207.7L901.5,207.6L902.5,207.4L903.5,207.3L904.5,207L905.5,206.8L906.5,206.4L907.5,206L908.5,205.5L909.5,204.9L910.5,204.1L911.5,203.3L912.5,202.3L913.5,201.1L914.5,199.7L915.5,198L916.5,196.2L917.5,194.1L918.5,191.7L919.5,189L920.5,186L921.5,182.7L922.5,179.1L923.5,175.1L924.5,170.8L925.5,166.2L926.5,161.4L927.5,156.2L928.5,150.8L929.5,145.3L930.5,139.6L931.5,133.8L932.5,128L933.5,122.2L934.5,116.6L935.5,111.2L936.5,106.1L937.5,101.3L938.5,96.9L939.5,93L940.5,89.8L941.5,87.1L942.5,85.1L943.5,83.7L944.5,83.1L945.5,83.3L946.5,84.1L947.5,85.7L948.5,88L949.5,90.9L950.5,94.4L951.5,98.4L952.5,103L953.5,107.9L954.5,113.1L955.5,118.6L956.5,124.3L957.5,130.1L958.5,135.9L959.5,141.7L960.5,147.3L961.5,152.8L962.5,158.1L963.5,163.2L964.5,168L965.5,172.4L966.5,176.6L967.5,180.4L968.5,184L969.5,187.2L970.5,190L971.5,192.6L972.5,194.9L973.5,196.9L974.5,198.7L975.5,200.2L976.5,201.5L977.5,202.6L978.5,203.6L979.5,204.4L980.5,205.1L981.5,205.7L982.5,206.2L983.5,206.5L984.5,206.9L985.5,207.1L986.5,207.3L987.5,207.5L988.5,207.6L989.5,207.7L990.5,207.8L991.5,207.9L992.5,207.9L993.5,208L994.5,208L995.5,208L996.5,208.1L997.5,208.1L998.5,208.1L999.5,208.1L1000.5,208.1L1001.5,208.1L1002.5,208.1" stroke="#52d0c6" stroke-width="1.6" fill="none"/>
<path d="M811.5,208.1L812.5,208.1L813.5,208.1L814.5,208.1L815.5,208.1L816.5,208.1L817.5,208.1L818.5,208.1L819.5,208.1L820.5,208.1L821.5,208.1L822.5,208.1L823.5,208.1L824.5,208.1L825.5,208.1L826.5,208.1L827.5,208.1L828.5,208.1L829.5,208.1L830.5,208.1L831.5,208.1L832.5,208.1L833.5,208.1L834.5,208.1L835.5,208.1L836.5,208.1L837.5,208.1L838.5,208.1L839.5,208.1L840.5,208.1L841.5,208.1L842.5,208.1L843.5,208.1L844.5,208.1L845.5,208.1L846.5,208.1L847.5,208.1L848.5,208.1L849.5,208.1L850.5,208.1L851.5,208.1L852.5,208.1L853.5,208.1L854.5,208.1L855.5,208.1L856.5,208.1L857.5,208.1L858.5,208.1L859.5,208.1L860.5,208.1L861.5,208.1L862.5,208.1L863.5,208.1L864.5,208.1L865.5,208.1L866.5,208.1L867.5,208.1L868.5,208.1L869.5,208.1L870.5,208.1L871.5,208.1L872.5,208.1L873.5,208.1L874.5,208.1L875.5,208.1L876.5,208.1L877.5,208.1L878.5,208.1L879.5,208.1L880.5,208.1L881.5,208.1L882.5,208.1L883.5,208.1L884.5,208.1L885.5,208.1L886.5,208.1L887.5,208.1L888.5,208.1L889.5,208.1L890.5,208.1L891.5,208.1L892.5,208.1L893.5,208.1L894.5,208.1L895.5,208.1L896.5,208.1L897.5,208.1L898.5,208.1L899.5,208.1L900.5,208.1L901.5,208.1L902.5,208.1L903.5,208.1L904.5,208.1L905.5,208.1L906.5,208.1L907.5,208.1L908.5,208.1L909.5,208.1L910.5,208.1L911.5,208.1L912.5,208.1L913.5,208.1L914.5,208.1L915.5,208.1L916.5,208.1L917.5,208.1L918.5,208.1L919.5,208.1L920.5,208.1L921.5,208.1L922.5,208.1L923.5,208.1L924.5,208.1L925.5,208L926.5,208L927.5,208L928.5,208L929.5,207.9L930.5,207.9L931.5,207.8L932.5,207.7L933.5,207.6L934.5,207.5L935.5,207.3L936.5,207.1L937.5,206.9L938.5,206.6L939.5,206.2L940.5,205.8L941.5,205.3L942.5,204.8L943.5,204.1L944.5,203.4L945.5,202.5L946.5,201.5L947.5,200.5L948.5,199.3L949.5,198L950.5,196.6L951.5,195.1L952.5,193.5L953.5,191.8L954.5,190L955.5,188.2L956.5,186.4L957.5,184.6L958.5,182.8L959.5,181L960.5,179.4L961.5,177.8L962.5,176.4L963.5,175.1L964.5,174.1L965.5,173.2L966.5,172.6L967.5,172.2L968.5,172.1L969.5,172.2L970.5,172.6L971.5,173.2L972.5,174.1L973.5,175.1L974.5,176.4L975.5,177.8L976.5,179.4L977.5,181L978.5,182.8L979.5,184.6L980.5,186.4L981.5,188.2L982.5,190L983.5,191.8L984.5,193.5L985.5,195.1L986.5,196.6L987.5,198L988.5,199.3L989.5,200.5L990.5,201.5L991.5,202.5L992.5,203.4L993.5,204.1L994.5,204.8L995.5,205.3L996.5,205.8L997.5,206.2L998.5,206.6L999.5,206.9L1000.5,207.1L1001.5,207.3L1002.5,207.5" stroke="#acacac" stroke-width="1.3" fill="none"/>
<path d="M811.5,207.8C813.1,206.6 817.2,203.4 820.9,200.4C824.6,197.4 829.5,194.4 833.8,190.1C838.1,185.8 842.4,179.5 846.7,174.6C851,169.7 855.2,164.8 859.5,160.5C863.8,156.2 868.1,152.1 872.4,148.9C876.7,145.7 881,143 885.3,141.1C889.6,139.2 895.2,138.2 898.2,137.3C901.2,136.5 900.9,136.7 903,136C905.1,135.3 908.1,134.7 910.7,133.4C913.3,132.1 915.9,130.8 918.5,128.2C921.1,125.6 924.1,122.2 926.2,117.9C928.4,113.6 929.7,109.4 931.4,102.5C933.1,95.6 934.8,85.3 936.5,76.7C938.2,68.1 940.2,56.5 941.7,50.9C943.2,45.3 944.2,43.4 945.5,43.2C946.8,43 947.9,44 949.4,49.6C950.9,55.2 952.8,67.5 954.5,76.7C956.2,86 958,96.1 959.7,105.1C961.4,114.1 963.2,123.1 964.9,130.8C966.6,138.5 968.3,145 970,151.4C971.7,157.8 973.5,164.3 975.2,169.5C976.9,174.7 978.1,177.9 980.3,182.4C982.4,186.9 985.5,192.8 988.1,196.5C990.7,200.2 993.4,202.5 995.8,204.3C998.1,206.2 1001.1,207.1 1002.2,207.6" stroke="#111" stroke-width="1.3" stroke-dasharray="1 1.5" fill="none" opacity="0.65"/>
<rect x="811.5" y="18" width="191" height="192.2" fill="none" stroke="#3a3a3a" stroke-width="1.3"/>
<path d="M805.5,18H811.5M805.5,65.6H811.5M805.5,113.2H811.5M805.5,160.9H811.5M805.5,208.5H811.5M811.5,210.2V214.7M849.7,210.2V214.7M887.9,210.2V214.7M926.1,210.2V214.7M964.3,210.2V214.7M1002.5,210.2V214.7" stroke="#3a3a3a" stroke-width="1.3" fill="none"/>
<text x="810" y="229.8" class="tl2">1700</text>
<text x="848.2" y="229.8" class="tl2">1680</text>
<text x="886.4" y="229.8" class="tl2">1660</text>
<text x="924.6" y="229.8" class="tl2">1640</text>
<text x="962.8" y="229.8" class="tl2">1620</text>
<text x="1001" y="229.8" class="tl2">1600</text>
<text x="811.8" y="34.7" style="font-size:14px">15 min</text>
<text x="852.9" y="246.9" style="font-size:12px" textLength="95.1" lengthAdjust="spacingAndGlyphs">Wave number (cm</text>
<text x="947.3" y="243.2" style="font-size:8px">-</text>
<text x="949.2" y="242.7" style="font-size:11.5px">1</text>
<text x="955.5" y="246.9" style="font-size:12px">)</text>
<text transform="translate(788.3,113.3) rotate(-90)" text-anchor="middle" style="font-size:12px" textLength="86.5" lengthAdjust="spacingAndGlyphs">Abs. Signal (a.u.)</text>
<path d="M552.8,454.5C553.1,454.4 552.8,454.8 554.8,453.8C556.8,452.8 561.3,450.2 564.5,448.3C567.7,446.4 571,444.9 574.2,442.7C577.4,440.5 580.7,437.7 583.9,435C587.1,432.3 590.4,429.5 593.6,426.5C596.8,423.5 600.1,420.2 603.3,416.8C606.5,413.4 610.2,408.7 613,405.9C615.8,403.1 617.8,401.4 620.2,399.9C622.6,398.4 625.1,397.6 627.5,396.7C629.9,395.8 632.3,395.4 634.7,394.5C637.1,393.6 639.5,392.5 642,391.6C644.5,390.7 647.9,389.9 650,389C652.1,388.1 652.7,388.5 654.7,386.5C656.7,384.5 659.5,381.3 661.9,376.9C664.3,372.5 667.2,365.5 669.2,359.9C671.2,354.2 672.5,348.6 674.1,343C675.7,337.4 677.3,330.9 678.9,326C680.5,321.1 682.3,316.5 683.7,313.9C685.1,311.3 686.2,310.1 687.4,310.3C688.6,310.5 689.6,311.7 691,315.1C692.4,318.5 694.2,324.6 695.8,330.8C697.4,337.1 699.1,344.9 700.7,352.6C702.3,360.3 703.9,369.2 705.5,376.9C707.1,384.6 708.8,392.2 710.4,398.6C712,405.1 713.6,410.4 715.2,415.6C716.8,420.9 718.1,425.3 720.1,430.1C722.1,434.9 724.9,441.2 727.3,444.6C729.7,448 732,449.2 734.6,450.7C737.2,452.2 741.4,453.2 743.1,453.8C744.8,454.4 744.5,454 744.8,454" stroke="#9a1f3a" stroke-width="1.8" fill="none"/>
<path d="M552.8,454.5L553.8,454.3L554.8,454.1L555.8,453.9L556.8,453.7L557.8,453.5L558.8,453.2L559.8,452.9L560.8,452.6L561.8,452.3L562.8,451.9L563.8,451.5L564.8,451.1L565.8,450.6L566.8,450.1L567.8,449.6L568.8,449.1L569.8,448.6L570.8,448L571.8,447.4L572.8,446.8L573.8,446.2L574.8,445.6L575.8,445L576.8,444.4L577.8,443.8L578.8,443.2L579.8,442.7L580.8,442.1L581.8,441.6L582.8,441.1L583.8,440.7L584.8,440.3L585.8,440L586.8,439.7L587.8,439.5L588.8,439.3L589.8,439.2L590.8,439.1L591.8,439.1L592.8,439.2L593.8,439.3L594.8,439.5L595.8,439.7L596.8,440L597.8,440.4L598.8,440.8L599.8,441.2L600.8,441.7L601.8,442.2L602.8,442.8L603.8,443.3L604.8,443.9L605.8,444.5L606.8,445.1L607.8,445.7L608.8,446.3L609.8,446.9L610.8,447.5L611.8,448.1L612.8,448.7L613.8,449.2L614.8,449.7L615.8,450.2L616.8,450.7L617.8,451.2L618.8,451.6L619.8,452L620.8,452.3L621.8,452.7L622.8,453L623.8,453.3L624.8,453.5L625.8,453.8L626.8,454L627.8,454.2L628.8,454.4L629.8,454.5L630.8,454.6L631.8,454.8L632.8,454.9L633.8,455L634.8,455L635.8,455.1L636.8,455.2L637.8,455.2L638.8,455.3L639.8,455.3L640.8,455.3L641.8,455.4L642.8,455.4L643.8,455.4L644.8,455.4L645.8,455.4L646.8,455.5L647.8,455.5L648.8,455.5L649.8,455.5L650.8,455.5L651.8,455.5L652.8,455.5L653.8,455.5L654.8,455.5L655.8,455.5L656.8,455.5L657.8,455.5L658.8,455.5L659.8,455.5L660.8,455.5L661.8,455.5L662.8,455.5L663.8,455.5L664.8,455.5L665.8,455.5L666.8,455.5L667.8,455.5L668.8,455.5L669.8,455.5L670.8,455.5L671.8,455.5L672.8,455.5L673.8,455.5L674.8,455.5L675.8,455.5L676.8,455.5L677.8,455.5L678.8,455.5L679.8,455.5L680.8,455.5L681.8,455.5L682.8,455.5L683.8,455.5L684.8,455.5L685.8,455.5L686.8,455.5L687.8,455.5L688.8,455.5L689.8,455.5L690.8,455.5L691.8,455.5L692.8,455.5L693.8,455.5L694.8,455.5L695.8,455.5L696.8,455.5L697.8,455.5L698.8,455.5L699.8,455.5L700.8,455.5L701.8,455.5L702.8,455.5L703.8,455.5L704.8,455.5L705.8,455.5L706.8,455.5L707.8,455.5L708.8,455.5L709.8,455.5L710.8,455.5L711.8,455.5L712.8,455.5L713.8,455.5L714.8,455.5L715.8,455.5L716.8,455.5L717.8,455.5L718.8,455.5L719.8,455.5L720.8,455.5L721.8,455.5L722.8,455.5L723.8,455.5L724.8,455.5L725.8,455.5L726.8,455.5L727.8,455.5L728.8,455.5L729.8,455.5L730.8,455.5L731.8,455.5L732.8,455.5L733.8,455.5L734.8,455.5L735.8,455.5L736.8,455.5L737.8,455.5L738.8,455.5L739.8,455.5L740.8,455.5L741.8,455.5L742.8,455.5L743.8,455.5L744.8,455.5" stroke="#e6ea5c" stroke-width="2.0" fill="none"/>
<path d="M552.8,455.5L553.8,455.5L554.8,455.5L555.8,455.5L556.8,455.4L557.8,455.4L558.8,455.4L559.8,455.4L560.8,455.4L561.8,455.3L562.8,455.3L563.8,455.3L564.8,455.2L565.8,455.2L566.8,455.1L567.8,455L568.8,455L569.8,454.9L570.8,454.7L571.8,454.6L572.8,454.4L573.8,454.3L574.8,454.1L575.8,453.8L576.8,453.6L577.8,453.3L578.8,452.9L579.8,452.5L580.8,452.1L581.8,451.6L582.8,451.1L583.8,450.5L584.8,449.9L585.8,449.2L586.8,448.4L587.8,447.6L588.8,446.7L589.8,445.7L590.8,444.7L591.8,443.6L592.8,442.4L593.8,441.2L594.8,439.8L595.8,438.5L596.8,437L597.8,435.5L598.8,434L599.8,432.4L600.8,430.8L601.8,429.1L602.8,427.5L603.8,425.8L604.8,424.1L605.8,422.5L606.8,420.8L607.8,419.3L608.8,417.7L609.8,416.3L610.8,414.9L611.8,413.6L612.8,412.4L613.8,411.3L614.8,410.3L615.8,409.5L616.8,408.8L617.8,408.3L618.8,407.9L619.8,407.7L620.8,407.6L621.8,407.7L622.8,407.9L623.8,408.3L624.8,408.9L625.8,409.6L626.8,410.4L627.8,411.4L628.8,412.5L629.8,413.7L630.8,415L631.8,416.4L632.8,417.8L633.8,419.4L634.8,420.9L635.8,422.6L636.8,424.2L637.8,425.9L638.8,427.6L639.8,429.2L640.8,430.9L641.8,432.5L642.8,434.1L643.8,435.6L644.8,437.1L645.8,438.5L646.8,439.9L647.8,441.2L648.8,442.5L649.8,443.7L650.8,444.8L651.8,445.8L652.8,446.8L653.8,447.7L654.8,448.5L655.8,449.2L656.8,449.9L657.8,450.6L658.8,451.1L659.8,451.7L660.8,452.1L661.8,452.6L662.8,452.9L663.8,453.3L664.8,453.6L665.8,453.8L666.8,454.1L667.8,454.3L668.8,454.5L669.8,454.6L670.8,454.7L671.8,454.9L672.8,455L673.8,455L674.8,455.1L675.8,455.2L676.8,455.2L677.8,455.3L678.8,455.3L679.8,455.4L680.8,455.4L681.8,455.4L682.8,455.4L683.8,455.4L684.8,455.4L685.8,455.5L686.8,455.5L687.8,455.5L688.8,455.5L689.8,455.5L690.8,455.5L691.8,455.5L692.8,455.5L693.8,455.5L694.8,455.5L695.8,455.5L696.8,455.5L697.8,455.5L698.8,455.5L699.8,455.5L700.8,455.5L701.8,455.5L702.8,455.5L703.8,455.5L704.8,455.5L705.8,455.5L706.8,455.5L707.8,455.5L708.8,455.5L709.8,455.5L710.8,455.5L711.8,455.5L712.8,455.5L713.8,455.5L714.8,455.5L715.8,455.5L716.8,455.5L717.8,455.5L718.8,455.5L719.8,455.5L720.8,455.5L721.8,455.5L722.8,455.5L723.8,455.5L724.8,455.5L725.8,455.5L726.8,455.5L727.8,455.5L728.8,455.5L729.8,455.5L730.8,455.5L731.8,455.5L732.8,455.5L733.8,455.5L734.8,455.5L735.8,455.5L736.8,455.5L737.8,455.5L738.8,455.5L739.8,455.5L740.8,455.5L741.8,455.5L742.8,455.5L743.8,455.5L744.8,455.5" stroke="#231d7a" stroke-width="1.5" fill="none"/>
<path d="M552.8,455.5L553.8,455.5L554.8,455.5L555.8,455.5L556.8,455.5L557.8,455.5L558.8,455.5L559.8,455.5L560.8,455.5L561.8,455.5L562.8,455.5L563.8,455.5L564.8,455.5L565.8,455.5L566.8,455.5L567.8,455.5L568.8,455.5L569.8,455.5L570.8,455.5L571.8,455.5L572.8,455.5L573.8,455.5L574.8,455.5L575.8,455.5L576.8,455.5L577.8,455.5L578.8,455.5L579.8,455.5L580.8,455.5L581.8,455.5L582.8,455.5L583.8,455.5L584.8,455.5L585.8,455.5L586.8,455.5L587.8,455.5L588.8,455.5L589.8,455.5L590.8,455.5L591.8,455.5L592.8,455.5L593.8,455.4L594.8,455.4L595.8,455.4L596.8,455.4L597.8,455.4L598.8,455.3L599.8,455.3L600.8,455.2L601.8,455.2L602.8,455.1L603.8,455L604.8,454.9L605.8,454.8L606.8,454.7L607.8,454.5L608.8,454.4L609.8,454.2L610.8,453.9L611.8,453.7L612.8,453.3L613.8,453L614.8,452.6L615.8,452.1L616.8,451.6L617.8,451.1L618.8,450.4L619.8,449.7L620.8,449L621.8,448.1L622.8,447.2L623.8,446.2L624.8,445.1L625.8,443.9L626.8,442.7L627.8,441.3L628.8,439.9L629.8,438.4L630.8,436.8L631.8,435.2L632.8,433.5L633.8,431.7L634.8,429.9L635.8,428.1L636.8,426.2L637.8,424.3L638.8,422.4L639.8,420.6L640.8,418.7L641.8,417L642.8,415.3L643.8,413.6L644.8,412.1L645.8,410.7L646.8,409.4L647.8,408.2L648.8,407.2L649.8,406.3L650.8,405.6L651.8,405.1L652.8,404.8L653.8,404.7L654.8,404.8L655.8,405L656.8,405.4L657.8,406.1L658.8,406.8L659.8,407.8L660.8,408.9L661.8,410.2L662.8,411.5L663.8,413L664.8,414.6L665.8,416.3L666.8,418.1L667.8,419.9L668.8,421.7L669.8,423.6L670.8,425.5L671.8,427.4L672.8,429.2L673.8,431L674.8,432.8L675.8,434.6L676.8,436.2L677.8,437.8L678.8,439.4L679.8,440.8L680.8,442.2L681.8,443.5L682.8,444.7L683.8,445.8L684.8,446.8L685.8,447.8L686.8,448.7L687.8,449.5L688.8,450.2L689.8,450.8L690.8,451.4L691.8,452L692.8,452.4L693.8,452.8L694.8,453.2L695.8,453.5L696.8,453.8L697.8,454.1L698.8,454.3L699.8,454.5L700.8,454.6L701.8,454.8L702.8,454.9L703.8,455L704.8,455.1L705.8,455.2L706.8,455.2L707.8,455.3L708.8,455.3L709.8,455.3L710.8,455.4L711.8,455.4L712.8,455.4L713.8,455.4L714.8,455.4L715.8,455.5L716.8,455.5L717.8,455.5L718.8,455.5L719.8,455.5L720.8,455.5L721.8,455.5L722.8,455.5L723.8,455.5L724.8,455.5L725.8,455.5L726.8,455.5L727.8,455.5L728.8,455.5L729.8,455.5L730.8,455.5L731.8,455.5L732.8,455.5L733.8,455.5L734.8,455.5L735.8,455.5L736.8,455.5L737.8,455.5L738.8,455.5L739.8,455.5L740.8,455.5L741.8,455.5L742.8,455.5L743.8,455.5L744.8,455.5" stroke="#a83fa6" stroke-width="1.5" fill="none"/>
<path d="M552.8,455.5L553.8,455.5L554.8,455.5L555.8,455.5L556.8,455.5L557.8,455.5L558.8,455.5L559.8,455.5L560.8,455.5L561.8,455.5L562.8,455.5L563.8,455.5L564.8,455.5L565.8,455.5L566.8,455.5L567.8,455.5L568.8,455.5L569.8,455.5L570.8,455.5L571.8,455.5L572.8,455.5L573.8,455.5L574.8,455.5L575.8,455.5L576.8,455.5L577.8,455.5L578.8,455.5L579.8,455.5L580.8,455.5L581.8,455.5L582.8,455.5L583.8,455.5L584.8,455.5L585.8,455.5L586.8,455.5L587.8,455.5L588.8,455.5L589.8,455.5L590.8,455.5L591.8,455.5L592.8,455.5L593.8,455.5L594.8,455.5L595.8,455.5L596.8,455.5L597.8,455.5L598.8,455.5L599.8,455.5L600.8,455.5L601.8,455.5L602.8,455.5L603.8,455.5L604.8,455.5L605.8,455.5L606.8,455.5L607.8,455.5L608.8,455.5L609.8,455.5L610.8,455.5L611.8,455.5L612.8,455.5L613.8,455.5L614.8,455.5L615.8,455.5L616.8,455.5L617.8,455.5L618.8,455.5L619.8,455.5L620.8,455.5L621.8,455.5L622.8,455.5L623.8,455.5L624.8,455.4L625.8,455.4L626.8,455.4L627.8,455.4L628.8,455.4L629.8,455.3L630.8,455.3L631.8,455.2L632.8,455.1L633.8,455.1L634.8,455L635.8,454.8L636.8,454.7L637.8,454.5L638.8,454.3L639.8,454L640.8,453.7L641.8,453.4L642.8,453L643.8,452.5L644.8,451.9L645.8,451.3L646.8,450.6L647.8,449.7L648.8,448.7L649.8,447.6L650.8,446.4L651.8,445L652.8,443.4L653.8,441.7L654.8,439.7L655.8,437.6L656.8,435.3L657.8,432.7L658.8,429.9L659.8,426.9L660.8,423.6L661.8,420.2L662.8,416.5L663.8,412.5L664.8,408.4L665.8,404.1L666.8,399.6L667.8,394.9L668.8,390.1L669.8,385.2L670.8,380.2L671.8,375.2L672.8,370.2L673.8,365.2L674.8,360.3L675.8,355.5L676.8,350.9L677.8,346.5L678.8,342.4L679.8,338.6L680.8,335.1L681.8,332L682.8,329.4L683.8,327.1L684.8,325.4L685.8,324.1L686.8,323.3L687.8,323.1L688.8,323.4L689.8,324.2L690.8,325.4L691.8,327.2L692.8,329.5L693.8,332.2L694.8,335.3L695.8,338.8L696.8,342.6L697.8,346.7L698.8,351.1L699.8,355.7L700.8,360.5L701.8,365.4L702.8,370.4L703.8,375.4L704.8,380.4L705.8,385.4L706.8,390.3L707.8,395.1L708.8,399.8L709.8,404.3L710.8,408.6L711.8,412.7L712.8,416.6L713.8,420.3L714.8,423.8L715.8,427L716.8,430.1L717.8,432.8L718.8,435.4L719.8,437.7L720.8,439.8L721.8,441.8L722.8,443.5L723.8,445.1L724.8,446.5L725.8,447.7L726.8,448.8L727.8,449.7L728.8,450.6L729.8,451.3L730.8,452L731.8,452.5L732.8,453L733.8,453.4L734.8,453.8L735.8,454.1L736.8,454.3L737.8,454.5L738.8,454.7L739.8,454.8L740.8,455L741.8,455.1L742.8,455.1L743.8,455.2L744.8,455.3" stroke="#52d0c6" stroke-width="1.6" fill="none"/>
<path d="M552.8,455.5L553.8,455.5L554.8,455.5L555.8,455.5L556.8,455.5L557.8,455.5L558.8,455.5L559.8,455.5L560.8,455.5L561.8,455.5L562.8,455.5L563.8,455.5L564.8,455.5L565.8,455.5L566.8,455.5L567.8,455.5L568.8,455.5L569.8,455.5L570.8,455.5L571.8,455.5L572.8,455.5L573.8,455.5L574.8,455.5L575.8,455.5L576.8,455.5L577.8,455.5L578.8,455.5L579.8,455.5L580.8,455.5L581.8,455.5L582.8,455.5L583.8,455.5L584.8,455.5L585.8,455.5L586.8,455.5L587.8,455.5L588.8,455.5L589.8,455.5L590.8,455.5L591.8,455.5L592.8,455.5L593.8,455.5L594.8,455.5L595.8,455.5L596.8,455.5L597.8,455.5L598.8,455.5L599.8,455.5L600.8,455.5L601.8,455.5L602.8,455.5L603.8,455.5L604.8,455.5L605.8,455.5L606.8,455.5L607.8,455.5L608.8,455.5L609.8,455.5L610.8,455.5L611.8,455.5L612.8,455.5L613.8,455.5L614.8,455.5L615.8,455.5L616.8,455.5L617.8,455.5L618.8,455.5L619.8,455.5L620.8,455.5L621.8,455.5L622.8,455.5L623.8,455.5L624.8,455.5L625.8,455.5L626.8,455.5L627.8,455.5L628.8,455.5L629.8,455.5L630.8,455.5L631.8,455.5L632.8,455.5L633.8,455.5L634.8,455.5L635.8,455.5L636.8,455.5L637.8,455.5L638.8,455.5L639.8,455.5L640.8,455.5L641.8,455.5L642.8,455.5L643.8,455.5L644.8,455.5L645.8,455.5L646.8,455.5L647.8,455.5L648.8,455.5L649.8,455.5L650.8,455.5L651.8,455.5L652.8,455.5L653.8,455.5L654.8,455.5L655.8,455.5L656.8,455.5L657.8,455.5L658.8,455.5L659.8,455.5L660.8,455.5L661.8,455.5L662.8,455.5L663.8,455.5L664.8,455.5L665.8,455.5L666.8,455.5L667.8,455.5L668.8,455.5L669.8,455.5L670.8,455.5L671.8,455.5L672.8,455.4L673.8,455.4L674.8,455.4L675.8,455.4L676.8,455.3L677.8,455.3L678.8,455.2L679.8,455.2L680.8,455.1L681.8,454.9L682.8,454.8L683.8,454.6L684.8,454.4L685.8,454.1L686.8,453.8L687.8,453.4L688.8,453L689.8,452.5L690.8,451.9L691.8,451.3L692.8,450.5L693.8,449.7L694.8,448.8L695.8,447.8L696.8,446.7L697.8,445.5L698.8,444.3L699.8,443L700.8,441.6L701.8,440.2L702.8,438.8L703.8,437.4L704.8,436L705.8,434.7L706.8,433.4L707.8,432.3L708.8,431.2L709.8,430.3L710.8,429.5L711.8,428.9L712.8,428.5L713.8,428.2L714.8,428.2L715.8,428.4L716.8,428.7L717.8,429.3L718.8,430L719.8,430.9L720.8,431.9L721.8,433L722.8,434.3L723.8,435.6L724.8,437L725.8,438.4L726.8,439.8L727.8,441.2L728.8,442.5L729.8,443.9L730.8,445.1L731.8,446.3L732.8,447.4L733.8,448.5L734.8,449.4L735.8,450.3L736.8,451L737.8,451.7L738.8,452.3L739.8,452.8L740.8,453.3L741.8,453.7L742.8,454L743.8,454.3L744.8,454.5" stroke="#acacac" stroke-width="1.3" fill="none"/>
<path d="M552.8,454.5C553.1,454.4 552.8,454.8 554.8,453.8C556.8,452.8 561.3,450.2 564.5,448.3C567.7,446.4 571,444.9 574.2,442.7C577.4,440.5 580.7,437.7 583.9,435C587.1,432.3 590.4,429.5 593.6,426.5C596.8,423.5 600.1,420.2 603.3,416.8C606.5,413.4 610.2,408.7 613,405.9C615.8,403.1 617.8,401.4 620.2,399.9C622.6,398.4 625.1,397.6 627.5,396.7C629.9,395.8 632.3,395.4 634.7,394.5C637.1,393.6 639.5,392.5 642,391.6C644.5,390.7 647.9,389.9 650,389C652.1,388.1 652.7,388.5 654.7,386.5C656.7,384.5 659.5,381.3 661.9,376.9C664.3,372.5 667.2,365.5 669.2,359.9C671.2,354.2 672.5,348.6 674.1,343C675.7,337.4 677.3,330.9 678.9,326C680.5,321.1 682.3,316.5 683.7,313.9C685.1,311.3 686.2,310.1 687.4,310.3C688.6,310.5 689.6,311.7 691,315.1C692.4,318.5 694.2,324.6 695.8,330.8C697.4,337.1 699.1,344.9 700.7,352.6C702.3,360.3 703.9,369.2 705.5,376.9C707.1,384.6 708.8,392.2 710.4,398.6C712,405.1 713.6,410.4 715.2,415.6C716.8,420.9 718.1,425.3 720.1,430.1C722.1,434.9 724.9,441.2 727.3,444.6C729.7,448 732,449.2 734.6,450.7C737.2,452.2 741.4,453.2 743.1,453.8C744.8,454.4 744.5,454 744.8,454" stroke="#111" stroke-width="1.3" stroke-dasharray="1 1.5" fill="none" opacity="0.65"/>
<rect x="552.8" y="267.3" width="192" height="191.9" fill="none" stroke="#3a3a3a" stroke-width="1.3"/>
<path d="M546.8,267.3H552.8M546.8,305H552.8M546.8,342.8H552.8M546.8,380.5H552.8M546.8,418.3H552.8M546.8,456H552.8M552.8,459.2V463.7M591.2,459.2V463.7M629.6,459.2V463.7M668,459.2V463.7M706.4,459.2V463.7M744.8,459.2V463.7" stroke="#3a3a3a" stroke-width="1.3" fill="none"/>
<text x="551.3" y="479.8" class="tl2">1700</text>
<text x="589.7" y="479.8" class="tl2">1680</text>
<text x="628.1" y="479.8" class="tl2">1660</text>
<text x="666.5" y="479.8" class="tl2">1640</text>
<text x="704.9" y="479.8" class="tl2">1620</text>
<text x="743.3" y="479.8" class="tl2">1600</text>
<text x="555.4" y="287.9" style="font-size:14px">30 min</text>
<text x="594.9" y="496.4" style="font-size:12px" textLength="94.5" lengthAdjust="spacingAndGlyphs">Wave number (cm</text>
<text x="689.1" y="492.2" style="font-size:8px">-</text>
<text x="692.9" y="491.7" style="font-size:11.5px">1</text>
<text x="698.7" y="496.4" style="font-size:12px">)</text>
<text transform="translate(530.6,363.6) rotate(-90)" text-anchor="middle" style="font-size:12px" textLength="86" lengthAdjust="spacingAndGlyphs">Ab s. Signal (a.u.)</text>
<path d="M811.5,453.3C812.9,452.3 816.6,449.4 820.1,447.1C823.6,444.9 828.2,442.4 832.2,439.8C836.2,437.2 840.7,434.1 844.3,431.3C847.9,428.5 851.2,425.7 854,422.9C856.8,420.1 858.9,417.4 861.3,414.4C863.7,411.4 866.1,407.3 868.5,404.7C870.9,402.1 873,400.1 875.8,398.6C878.6,397.1 882.3,396.5 885.5,395.7C888.7,394.9 892,394.4 895.2,393.8C898.4,393.2 902.4,392.9 904.9,391.9C907.4,390.9 908.2,389.8 910.3,387.7C912.4,385.6 915.1,383.1 917.5,379.3C919.9,375.5 922.8,369.6 924.8,364.7C926.8,359.8 928,355.4 929.6,350.2C931.2,345 932.9,338.6 934.5,333.3C936.1,328.1 937.5,322.7 939.3,318.7C941.1,314.7 943.6,309.9 945.4,309.5C947.2,309.1 948.6,312.3 950.2,316.3C951.8,320.3 953.5,326.8 955.1,333.3C956.7,339.8 958.3,347.8 959.9,355.1C961.5,362.4 962.9,369.6 964.7,376.9C966.5,384.1 968.8,391.8 970.8,398.6C972.8,405.5 974.8,411.9 976.8,418C978.8,424.1 980.7,430.1 982.9,435C985.1,439.9 987.4,444.1 990.2,447.1C993,450.1 997.9,452.1 999.9,453.1C1001.9,454.1 1002.1,453.3 1002.5,453.3" stroke="#9a1f3a" stroke-width="1.8" fill="none"/>
<path d="M811.5,450.7L812.5,450.5L813.5,450.2L814.5,449.9L815.5,449.6L816.5,449.3L817.5,448.9L818.5,448.5L819.5,448.1L820.5,447.7L821.5,447.2L822.5,446.8L823.5,446.3L824.5,445.7L825.5,445.2L826.5,444.6L827.5,444.1L828.5,443.5L829.5,442.8L830.5,442.2L831.5,441.6L832.5,440.9L833.5,440.3L834.5,439.6L835.5,439L836.5,438.3L837.5,437.6L838.5,437L839.5,436.4L840.5,435.8L841.5,435.2L842.5,434.6L843.5,434L844.5,433.5L845.5,433L846.5,432.6L847.5,432.2L848.5,431.8L849.5,431.5L850.5,431.2L851.5,431L852.5,430.8L853.5,430.7L854.5,430.6L855.5,430.6L856.5,430.6L857.5,430.7L858.5,430.8L859.5,431L860.5,431.3L861.5,431.5L862.5,431.9L863.5,432.2L864.5,432.7L865.5,433.1L866.5,433.6L867.5,434.1L868.5,434.7L869.5,435.2L870.5,435.8L871.5,436.5L872.5,437.1L873.5,437.7L874.5,438.4L875.5,439L876.5,439.7L877.5,440.4L878.5,441L879.5,441.7L880.5,442.3L881.5,442.9L882.5,443.5L883.5,444.1L884.5,444.7L885.5,445.3L886.5,445.8L887.5,446.3L888.5,446.8L889.5,447.3L890.5,447.8L891.5,448.2L892.5,448.6L893.5,449L894.5,449.3L895.5,449.7L896.5,450L897.5,450.3L898.5,450.5L899.5,450.8L900.5,451L901.5,451.2L902.5,451.4L903.5,451.6L904.5,451.8L905.5,451.9L906.5,452L907.5,452.2L908.5,452.3L909.5,452.4L910.5,452.5L911.5,452.5L912.5,452.6L913.5,452.7L914.5,452.7L915.5,452.8L916.5,452.8L917.5,452.9L918.5,452.9L919.5,452.9L920.5,452.9L921.5,453L922.5,453L923.5,453L924.5,453L925.5,453L926.5,453L927.5,453L928.5,453.1L929.5,453.1L930.5,453.1L931.5,453.1L932.5,453.1L933.5,453.1L934.5,453.1L935.5,453.1L936.5,453.1L937.5,453.1L938.5,453.1L939.5,453.1L940.5,453.1L941.5,453.1L942.5,453.1L943.5,453.1L944.5,453.1L945.5,453.1L946.5,453.1L947.5,453.1L948.5,453.1L949.5,453.1L950.5,453.1L951.5,453.1L952.5,453.1L953.5,453.1L954.5,453.1L955.5,453.1L956.5,453.1L957.5,453.1L958.5,453.1L959.5,453.1L960.5,453.1L961.5,453.1L962.5,453.1L963.5,453.1L964.5,453.1L965.5,453.1L966.5,453.1L967.5,453.1L968.5,453.1L969.5,453.1L970.5,453.1L971.5,453.1L972.5,453.1L973.5,453.1L974.5,453.1L975.5,453.1L976.5,453.1L977.5,453.1L978.5,453.1L979.5,453.1L980.5,453.1L981.5,453.1L982.5,453.1L983.5,453.1L984.5,453.1L985.5,453.1L986.5,453.1L987.5,453.1L988.5,453.1L989.5,453.1L990.5,453.1L991.5,453.1L992.5,453.1L993.5,453.1L994.5,453.1L995.5,453.1L996.5,453.1L997.5,453.1L998.5,453.1L999.5,453.1L1000.5,453.1L1001.5,453.1L1002.5,453.1" stroke="#45bd4c" stroke-width="1.7" fill="none"/>
<path d="M811.5,453.1L812.5,453.1L813.5,453.1L814.5,453.1L815.5,453.1L816.5,453.1L817.5,453.1L818.5,453.1L819.5,453.1L820.5,453.1L821.5,453.1L822.5,453.1L823.5,453.1L824.5,453.1L825.5,453.1L826.5,453.1L827.5,453.1L828.5,453.1L829.5,453.1L830.5,453.1L831.5,453.1L832.5,453.1L833.5,453L834.5,453L835.5,453L836.5,453L837.5,452.9L838.5,452.9L839.5,452.8L840.5,452.7L841.5,452.6L842.5,452.5L843.5,452.3L844.5,452.1L845.5,451.9L846.5,451.6L847.5,451.3L848.5,451L849.5,450.5L850.5,450.1L851.5,449.5L852.5,448.9L853.5,448.2L854.5,447.4L855.5,446.5L856.5,445.6L857.5,444.6L858.5,443.5L859.5,442.4L860.5,441.2L861.5,440L862.5,438.7L863.5,437.5L864.5,436.2L865.5,435L866.5,433.8L867.5,432.7L868.5,431.7L869.5,430.8L870.5,430L871.5,429.3L872.5,428.8L873.5,428.4L874.5,428.2L875.5,428.2L876.5,428.4L877.5,428.7L878.5,429.2L879.5,429.8L880.5,430.6L881.5,431.5L882.5,432.5L883.5,433.6L884.5,434.8L885.5,436L886.5,437.2L887.5,438.5L888.5,439.7L889.5,441L890.5,442.2L891.5,443.3L892.5,444.4L893.5,445.4L894.5,446.4L895.5,447.2L896.5,448L897.5,448.7L898.5,449.4L899.5,449.9L900.5,450.4L901.5,450.9L902.5,451.3L903.5,451.6L904.5,451.9L905.5,452.1L906.5,452.3L907.5,452.4L908.5,452.6L909.5,452.7L910.5,452.8L911.5,452.8L912.5,452.9L913.5,453L914.5,453L915.5,453L916.5,453L917.5,453.1L918.5,453.1L919.5,453.1L920.5,453.1L921.5,453.1L922.5,453.1L923.5,453.1L924.5,453.1L925.5,453.1L926.5,453.1L927.5,453.1L928.5,453.1L929.5,453.1L930.5,453.1L931.5,453.1L932.5,453.1L933.5,453.1L934.5,453.1L935.5,453.1L936.5,453.1L937.5,453.1L938.5,453.1L939.5,453.1L940.5,453.1L941.5,453.1L942.5,453.1L943.5,453.1L944.5,453.1L945.5,453.1L946.5,453.1L947.5,453.1L948.5,453.1L949.5,453.1L950.5,453.1L951.5,453.1L952.5,453.1L953.5,453.1L954.5,453.1L955.5,453.1L956.5,453.1L957.5,453.1L958.5,453.1L959.5,453.1L960.5,453.1L961.5,453.1L962.5,453.1L963.5,453.1L964.5,453.1L965.5,453.1L966.5,453.1L967.5,453.1L968.5,453.1L969.5,453.1L970.5,453.1L971.5,453.1L972.5,453.1L973.5,453.1L974.5,453.1L975.5,453.1L976.5,453.1L977.5,453.1L978.5,453.1L979.5,453.1L980.5,453.1L981.5,453.1L982.5,453.1L983.5,453.1L984.5,453.1L985.5,453.1L986.5,453.1L987.5,453.1L988.5,453.1L989.5,453.1L990.5,453.1L991.5,453.1L992.5,453.1L993.5,453.1L994.5,453.1L995.5,453.1L996.5,453.1L997.5,453.1L998.5,453.1L999.5,453.1L1000.5,453.1L1001.5,453.1L1002.5,453.1" stroke="#e6ea5c" stroke-width="2.0" fill="none"/>
<path d="M811.5,453.1L812.5,453.1L813.5,453.1L814.5,453.1L815.5,453.1L816.5,453.1L817.5,453.1L818.5,453.1L819.5,453.1L820.5,453.1L821.5,453.1L822.5,453.1L823.5,453.1L824.5,453.1L825.5,453.1L826.5,453.1L827.5,453.1L828.5,453.1L829.5,453.1L830.5,453.1L831.5,453.1L832.5,453.1L833.5,453.1L834.5,453.1L835.5,453.1L836.5,453.1L837.5,453.1L838.5,453.1L839.5,453.1L840.5,453.1L841.5,453.1L842.5,453.1L843.5,453.1L844.5,453.1L845.5,453.1L846.5,453.1L847.5,453.1L848.5,453L849.5,453L850.5,453L851.5,453L852.5,452.9L853.5,452.9L854.5,452.8L855.5,452.7L856.5,452.7L857.5,452.6L858.5,452.4L859.5,452.3L860.5,452.1L861.5,451.9L862.5,451.6L863.5,451.3L864.5,450.9L865.5,450.5L866.5,450L867.5,449.5L868.5,448.8L869.5,448.1L870.5,447.3L871.5,446.4L872.5,445.4L873.5,444.3L874.5,443.1L875.5,441.7L876.5,440.3L877.5,438.7L878.5,437L879.5,435.3L880.5,433.4L881.5,431.5L882.5,429.4L883.5,427.4L884.5,425.3L885.5,423.1L886.5,421L887.5,418.9L888.5,416.8L889.5,414.9L890.5,413L891.5,411.2L892.5,409.6L893.5,408.1L894.5,406.9L895.5,405.8L896.5,405L897.5,404.4L898.5,404.1L899.5,404L900.5,404.2L901.5,404.6L902.5,405.2L903.5,406.1L904.5,407.2L905.5,408.5L906.5,410L907.5,411.7L908.5,413.5L909.5,415.4L910.5,417.4L911.5,419.5L912.5,421.6L913.5,423.7L914.5,425.9L915.5,428L916.5,430L917.5,432L918.5,433.9L919.5,435.8L920.5,437.5L921.5,439.2L922.5,440.7L923.5,442.1L924.5,443.4L925.5,444.6L926.5,445.7L927.5,446.7L928.5,447.6L929.5,448.3L930.5,449L931.5,449.6L932.5,450.2L933.5,450.6L934.5,451L935.5,451.4L936.5,451.7L937.5,451.9L938.5,452.1L939.5,452.3L940.5,452.5L941.5,452.6L942.5,452.7L943.5,452.8L944.5,452.8L945.5,452.9L946.5,452.9L947.5,453L948.5,453L949.5,453L950.5,453L951.5,453.1L952.5,453.1L953.5,453.1L954.5,453.1L955.5,453.1L956.5,453.1L957.5,453.1L958.5,453.1L959.5,453.1L960.5,453.1L961.5,453.1L962.5,453.1L963.5,453.1L964.5,453.1L965.5,453.1L966.5,453.1L967.5,453.1L968.5,453.1L969.5,453.1L970.5,453.1L971.5,453.1L972.5,453.1L973.5,453.1L974.5,453.1L975.5,453.1L976.5,453.1L977.5,453.1L978.5,453.1L979.5,453.1L980.5,453.1L981.5,453.1L982.5,453.1L983.5,453.1L984.5,453.1L985.5,453.1L986.5,453.1L987.5,453.1L988.5,453.1L989.5,453.1L990.5,453.1L991.5,453.1L992.5,453.1L993.5,453.1L994.5,453.1L995.5,453.1L996.5,453.1L997.5,453.1L998.5,453.1L999.5,453.1L1000.5,453.1L1001.5,453.1L1002.5,453.1" stroke="#231d7a" stroke-width="1.5" fill="none"/>
<path d="M811.5,453.1L812.5,453.1L813.5,453.1L814.5,453.1L815.5,453.1L816.5,453.1L817.5,453.1L818.5,453.1L819.5,453.1L820.5,453.1L821.5,453.1L822.5,453.1L823.5,453.1L824.5,453.1L825.5,453.1L826.5,453.1L827.5,453.1L828.5,453.1L829.5,453.1L830.5,453.1L831.5,453.1L832.5,453.1L833.5,453.1L834.5,453.1L835.5,453.1L836.5,453.1L837.5,453.1L838.5,453.1L839.5,453.1L840.5,453.1L841.5,453.1L842.5,453.1L843.5,453.1L844.5,453.1L845.5,453.1L846.5,453.1L847.5,453.1L848.5,453.1L849.5,453.1L850.5,453.1L851.5,453.1L852.5,453.1L853.5,453.1L854.5,453.1L855.5,453.1L856.5,453.1L857.5,453.1L858.5,453.1L859.5,453.1L860.5,453.1L861.5,453.1L862.5,453.1L863.5,453.1L864.5,453.1L865.5,453.1L866.5,453.1L867.5,453.1L868.5,453.1L869.5,453.1L870.5,453.1L871.5,453.1L872.5,453.1L873.5,453.1L874.5,453.1L875.5,453.1L876.5,453.1L877.5,453.1L878.5,453.1L879.5,453.1L880.5,453.1L881.5,453.1L882.5,453.1L883.5,453.1L884.5,453.1L885.5,453.1L886.5,453.1L887.5,453.1L888.5,453.1L889.5,453L890.5,453L891.5,453L892.5,452.9L893.5,452.8L894.5,452.7L895.5,452.5L896.5,452.3L897.5,452L898.5,451.7L899.5,451.2L900.5,450.6L901.5,449.9L902.5,449.1L903.5,448.1L904.5,446.9L905.5,445.6L906.5,444.2L907.5,442.6L908.5,440.9L909.5,439.1L910.5,437.3L911.5,435.5L912.5,433.8L913.5,432.2L914.5,430.8L915.5,429.7L916.5,428.9L917.5,428.4L918.5,428.2L919.5,428.4L920.5,428.9L921.5,429.8L922.5,430.9L923.5,432.3L924.5,433.9L925.5,435.6L926.5,437.4L927.5,439.2L928.5,441L929.5,442.7L930.5,444.3L931.5,445.7L932.5,447L933.5,448.2L934.5,449.2L935.5,450L936.5,450.7L937.5,451.2L938.5,451.7L939.5,452.1L940.5,452.3L941.5,452.5L942.5,452.7L943.5,452.8L944.5,452.9L945.5,453L946.5,453L947.5,453L948.5,453.1L949.5,453.1L950.5,453.1L951.5,453.1L952.5,453.1L953.5,453.1L954.5,453.1L955.5,453.1L956.5,453.1L957.5,453.1L958.5,453.1L959.5,453.1L960.5,453.1L961.5,453.1L962.5,453.1L963.5,453.1L964.5,453.1L965.5,453.1L966.5,453.1L967.5,453.1L968.5,453.1L969.5,453.1L970.5,453.1L971.5,453.1L972.5,453.1L973.5,453.1L974.5,453.1L975.5,453.1L976.5,453.1L977.5,453.1L978.5,453.1L979.5,453.1L980.5,453.1L981.5,453.1L982.5,453.1L983.5,453.1L984.5,453.1L985.5,453.1L986.5,453.1L987.5,453.1L988.5,453.1L989.5,453.1L990.5,453.1L991.5,453.1L992.5,453.1L993.5,453.1L994.5,453.1L995.5,453.1L996.5,453.1L997.5,453.1L998.5,453.1L999.5,453.1L1000.5,453.1L1001.5,453.1L1002.5,453.1" stroke="#a83fa6" stroke-width="1.5" fill="none"/>
<path d="M811.5,453.1L812.5,453.1L813.5,453.1L814.5,453.1L815.5,453.1L816.5,453.1L817.5,453.1L818.5,453.1L819.5,453.1L820.5,453.1L821.5,453.1L822.5,453.1L823.5,453.1L824.5,453.1L825.5,453.1L826.5,453.1L827.5,453.1L828.5,453.1L829.5,453.1L830.5,453.1L831.5,453.1L832.5,453.1L833.5,453.1L834.5,453.1L835.5,453.1L836.5,453.1L837.5,453.1L838.5,453.1L839.5,453.1L840.5,453.1L841.5,453.1L842.5,453.1L843.5,453.1L844.5,453.1L845.5,453.1L846.5,453.1L847.5,453.1L848.5,453.1L849.5,453.1L850.5,453.1L851.5,453.1L852.5,453.1L853.5,453.1L854.5,453.1L855.5,453.1L856.5,453.1L857.5,453.1L858.5,453.1L859.5,453.1L860.5,453.1L861.5,453.1L862.5,453.1L863.5,453.1L864.5,453.1L865.5,453.1L866.5,453.1L867.5,453.1L868.5,453.1L869.5,453.1L870.5,453.1L871.5,453.1L872.5,453.1L873.5,453.1L874.5,453.1L875.5,453.1L876.5,453.1L877.5,453.1L878.5,453L879.5,453L880.5,453L881.5,453L882.5,452.9L883.5,452.9L884.5,452.9L885.5,452.8L886.5,452.7L887.5,452.7L888.5,452.6L889.5,452.5L890.5,452.3L891.5,452.2L892.5,452L893.5,451.7L894.5,451.5L895.5,451.2L896.5,450.8L897.5,450.4L898.5,449.9L899.5,449.3L900.5,448.7L901.5,448L902.5,447.1L903.5,446.2L904.5,445.1L905.5,443.9L906.5,442.6L907.5,441.1L908.5,439.5L909.5,437.6L910.5,435.6L911.5,433.4L912.5,431L913.5,428.4L914.5,425.5L915.5,422.5L916.5,419.2L917.5,415.7L918.5,412L919.5,408.1L920.5,403.9L921.5,399.6L922.5,395.1L923.5,390.5L924.5,385.7L925.5,380.8L926.5,375.8L927.5,370.7L928.5,365.6L929.5,360.6L930.5,355.5L931.5,350.6L932.5,345.8L933.5,341.1L934.5,336.7L935.5,332.5L936.5,328.5L937.5,324.9L938.5,321.7L939.5,318.8L940.5,316.4L941.5,314.3L942.5,312.8L943.5,311.7L944.5,311.1L945.5,311L946.5,311.4L947.5,312.3L948.5,313.7L949.5,315.5L950.5,317.8L951.5,320.5L952.5,323.6L953.5,327.1L954.5,330.9L955.5,335L956.5,339.3L957.5,343.9L958.5,348.6L959.5,353.5L960.5,358.5L961.5,363.6L962.5,368.7L963.5,373.8L964.5,378.8L965.5,383.7L966.5,388.6L967.5,393.3L968.5,397.8L969.5,402.2L970.5,406.4L971.5,410.4L972.5,414.2L973.5,417.8L974.5,421.2L975.5,424.3L976.5,427.3L977.5,430L978.5,432.5L979.5,434.8L980.5,436.8L981.5,438.7L982.5,440.5L983.5,442L984.5,443.4L985.5,444.7L986.5,445.8L987.5,446.8L988.5,447.7L989.5,448.4L990.5,449.1L991.5,449.7L992.5,450.2L993.5,450.6L994.5,451L995.5,451.4L996.5,451.6L997.5,451.9L998.5,452.1L999.5,452.3L1000.5,452.4L1001.5,452.5L1002.5,452.6" stroke="#52d0c6" stroke-width="1.6" fill="none"/>
<path d="M811.5,453.1L812.5,453.1L813.5,453.1L814.5,453.1L815.5,453.1L816.5,453.1L817.5,453.1L818.5,453.1L819.5,453.1L820.5,453.1L821.5,453.1L822.5,453.1L823.5,453.1L824.5,453.1L825.5,453.1L826.5,453.1L827.5,453.1L828.5,453.1L829.5,453.1L830.5,453.1L831.5,453.1L832.5,453.1L833.5,453.1L834.5,453.1L835.5,453.1L836.5,453.1L837.5,453.1L838.5,453.1L839.5,453.1L840.5,453.1L841.5,453.1L842.5,453.1L843.5,453.1L844.5,453.1L845.5,453.1L846.5,453.1L847.5,453.1L848.5,453.1L849.5,453.1L850.5,453.1L851.5,453.1L852.5,453.1L853.5,453.1L854.5,453.1L855.5,453.1L856.5,453.1L857.5,453.1L858.5,453.1L859.5,453.1L860.5,453.1L861.5,453.1L862.5,453.1L863.5,453.1L864.5,453.1L865.5,453.1L866.5,453.1L867.5,453.1L868.5,453.1L869.5,453.1L870.5,453.1L871.5,453.1L872.5,453.1L873.5,453.1L874.5,453.1L875.5,453.1L876.5,453.1L877.5,453.1L878.5,453.1L879.5,453.1L880.5,453.1L881.5,453.1L882.5,453.1L883.5,453.1L884.5,453.1L885.5,453.1L886.5,453.1L887.5,453.1L888.5,453.1L889.5,453.1L890.5,453.1L891.5,453.1L892.5,453.1L893.5,453.1L894.5,453.1L895.5,453.1L896.5,453.1L897.5,453.1L898.5,453.1L899.5,453.1L900.5,453.1L901.5,453.1L902.5,453.1L903.5,453.1L904.5,453.1L905.5,453.1L906.5,453.1L907.5,453.1L908.5,453.1L909.5,453.1L910.5,453.1L911.5,453.1L912.5,453.1L913.5,453.1L914.5,453.1L915.5,453.1L916.5,453.1L917.5,453.1L918.5,453.1L919.5,453.1L920.5,453.1L921.5,453.1L922.5,453.1L923.5,453.1L924.5,453.1L925.5,453.1L926.5,453.1L927.5,453.1L928.5,453.1L929.5,453.1L930.5,453.1L931.5,453.1L932.5,453.1L933.5,453.1L934.5,453.1L935.5,453.1L936.5,453L937.5,453L938.5,453L939.5,453L940.5,452.9L941.5,452.8L942.5,452.8L943.5,452.7L944.5,452.5L945.5,452.3L946.5,452.1L947.5,451.8L948.5,451.5L949.5,451.1L950.5,450.6L951.5,450.1L952.5,449.4L953.5,448.7L954.5,447.9L955.5,446.9L956.5,445.9L957.5,444.8L958.5,443.5L959.5,442.3L960.5,440.9L961.5,439.6L962.5,438.2L963.5,436.8L964.5,435.5L965.5,434.3L966.5,433.2L967.5,432.2L968.5,431.4L969.5,430.8L970.5,430.3L971.5,430.1L972.5,430.1L973.5,430.4L974.5,430.8L975.5,431.5L976.5,432.3L977.5,433.3L978.5,434.4L979.5,435.7L980.5,437L981.5,438.4L982.5,439.7L983.5,441.1L984.5,442.4L985.5,443.7L986.5,444.9L987.5,446L988.5,447L989.5,448L990.5,448.8L991.5,449.5L992.5,450.2L993.5,450.7L994.5,451.2L995.5,451.6L996.5,451.9L997.5,452.1L998.5,452.4L999.5,452.5L1000.5,452.7L1001.5,452.8L1002.5,452.9" stroke="#acacac" stroke-width="1.3" fill="none"/>
<path d="M811.5,453.3C812.9,452.3 816.6,449.4 820.1,447.1C823.6,444.9 828.2,442.4 832.2,439.8C836.2,437.2 840.7,434.1 844.3,431.3C847.9,428.5 851.2,425.7 854,422.9C856.8,420.1 858.9,417.4 861.3,414.4C863.7,411.4 866.1,407.3 868.5,404.7C870.9,402.1 873,400.1 875.8,398.6C878.6,397.1 882.3,396.5 885.5,395.7C888.7,394.9 892,394.4 895.2,393.8C898.4,393.2 902.4,392.9 904.9,391.9C907.4,390.9 908.2,389.8 910.3,387.7C912.4,385.6 915.1,383.1 917.5,379.3C919.9,375.5 922.8,369.6 924.8,364.7C926.8,359.8 928,355.4 929.6,350.2C931.2,345 932.9,338.6 934.5,333.3C936.1,328.1 937.5,322.7 939.3,318.7C941.1,314.7 943.6,309.9 945.4,309.5C947.2,309.1 948.6,312.3 950.2,316.3C951.8,320.3 953.5,326.8 955.1,333.3C956.7,339.8 958.3,347.8 959.9,355.1C961.5,362.4 962.9,369.6 964.7,376.9C966.5,384.1 968.8,391.8 970.8,398.6C972.8,405.5 974.8,411.9 976.8,418C978.8,424.1 980.7,430.1 982.9,435C985.1,439.9 987.4,444.1 990.2,447.1C993,450.1 997.9,452.1 999.9,453.1C1001.9,454.1 1002.1,453.3 1002.5,453.3" stroke="#111" stroke-width="1.3" stroke-dasharray="1 1.5" fill="none" opacity="0.65"/>
<rect x="811.5" y="266.5" width="191" height="191.9" fill="none" stroke="#3a3a3a" stroke-width="1.3"/>
<path d="M805.5,266.5H811.5M805.5,303.9H811.5M805.5,341.3H811.5M805.5,378.6H811.5M805.5,416H811.5M805.5,453.4H811.5M811.5,458.4V462.9M849.7,458.4V462.9M887.9,458.4V462.9M926.1,458.4V462.9M964.3,458.4V462.9M1002.5,458.4V462.9" stroke="#3a3a3a" stroke-width="1.3" fill="none"/>
<text x="810" y="478.7" class="tl2">1700</text>
<text x="848.2" y="478.7" class="tl2">1680</text>
<text x="886.4" y="478.7" class="tl2">1660</text>
<text x="924.6" y="478.7" class="tl2">1640</text>
<text x="962.8" y="478.7" class="tl2">1620</text>
<text x="1001" y="478.7" class="tl2">1600</text>
<text x="813.1" y="282.9" style="font-size:14px">1 hr</text>
<text x="852.9" y="493" style="font-size:12px" textLength="95.1" lengthAdjust="spacingAndGlyphs">Wave number (cm</text>
<text x="947.3" y="489.3" style="font-size:8px">-</text>
<text x="949.2" y="488.8" style="font-size:11.5px">1</text>
<text x="955.5" y="493" style="font-size:12px">)</text>
<text transform="translate(788.3,362) rotate(-90)" text-anchor="middle" style="font-size:12px" textLength="85.6" lengthAdjust="spacingAndGlyphs">Abs. Signal (a. u.)</text>
<path d="M552.8,692.8C554.4,691.8 558.7,689.2 562.3,687C565.9,684.8 570.5,682.5 574.6,679.6C578.7,676.7 582.8,673.5 586.9,669.8C591,666.1 595.4,661.6 599.1,657.5C602.8,653.4 605.7,648.9 609,645.2C612.3,641.5 615.5,637.9 618.8,635.4C622.1,632.9 625.3,631.7 628.6,630.5C631.9,629.3 635.8,628.6 638.5,628C641.2,627.4 642.3,628 645,626.8C647.7,625.6 651.9,623.4 654.8,620.7C657.7,618 659.7,615.7 662.2,610.8C664.7,605.9 667.6,598.2 669.6,591.2C671.6,584.2 672.9,576.9 674.5,569.1C676.1,561.3 677.8,551.1 679.4,544.5C681,537.9 682.9,532.8 684.3,529.7C685.7,526.6 686.8,525.7 688,526.1C689.2,526.5 690.3,527.9 691.7,532.2C693.1,536.5 695,544.5 696.6,551.9C698.2,559.3 699.9,568.2 701.5,576.4C703.1,584.6 704.8,593.2 706.4,601C708,608.8 709.6,616.1 711.3,623.1C712.9,630.1 714.6,637.1 716.3,642.8C717.9,648.5 719.2,652.2 721.2,657.5C723.2,662.8 726,670 728.5,674.7C731,679.4 733.4,683 735.9,685.8C738.4,688.6 741.8,690.4 743.3,691.4C744.8,692.4 744.5,691.7 744.8,691.8" stroke="#9a1f3a" stroke-width="1.8" fill="none"/>
<path d="M552.8,693.1L553.8,693.1L554.8,693.1L555.8,693.1L556.8,693.1L557.8,693L558.8,693L559.8,692.8L560.8,692.6L561.8,692.3L562.8,691.9L563.8,691.3L564.8,690.7L565.8,689.9L566.8,689.2L567.8,688.6L568.8,688.2L569.8,688.1L570.8,688.3L571.8,688.7L572.8,689.4L573.8,690.1L574.8,690.8L575.8,691.5L576.8,692L577.8,692.4L578.8,692.7L579.8,692.9L580.8,693L581.8,693L582.8,693.1L583.8,693.1L584.8,693.1L585.8,693.1L586.8,693.1L587.8,693.1L588.8,693.1L589.8,693.1L590.8,693.1L591.8,693.1L592.8,693.1L593.8,693.1L594.8,693.1L595.8,693.1L596.8,693.1L597.8,693.1L598.8,693.1L599.8,693.1L600.8,693.1L601.8,693.1L602.8,693.1L603.8,693.1L604.8,693.1L605.8,693.1L606.8,693.1L607.8,693.1L608.8,693.1L609.8,693.1L610.8,693.1L611.8,693.1L612.8,693.1L613.8,693.1L614.8,693.1L615.8,693.1L616.8,693.1L617.8,693.1L618.8,693.1L619.8,693.1L620.8,693.1L621.8,693.1L622.8,693.1L623.8,693.1L624.8,693.1L625.8,693.1L626.8,693.1L627.8,693.1L628.8,693.1L629.8,693.1L630.8,693.1L631.8,693.1L632.8,693.1L633.8,693.1L634.8,693.1L635.8,693.1L636.8,693.1L637.8,693.1L638.8,693.1L639.8,693.1L640.8,693.1L641.8,693.1L642.8,693.1L643.8,693.1L644.8,693.1L645.8,693.1L646.8,693.1L647.8,693.1L648.8,693.1L649.8,693.1L650.8,693.1L651.8,693.1L652.8,693.1L653.8,693.1L654.8,693.1L655.8,693.1L656.8,693.1L657.8,693.1L658.8,693.1L659.8,693.1L660.8,693.1L661.8,693.1L662.8,693.1L663.8,693.1L664.8,693.1L665.8,693.1L666.8,693.1L667.8,693.1L668.8,693.1L669.8,693.1L670.8,693.1L671.8,693.1L672.8,693.1L673.8,693.1L674.8,693.1L675.8,693.1L676.8,693.1L677.8,693.1L678.8,693.1L679.8,693.1L680.8,693.1L681.8,693.1L682.8,693.1L683.8,693.1L684.8,693.1L685.8,693.1L686.8,693.1L687.8,693.1L688.8,693.1L689.8,693.1L690.8,693.1L691.8,693.1L692.8,693.1L693.8,693.1L694.8,693.1L695.8,693.1L696.8,693.1L697.8,693.1L698.8,693.1L699.8,693.1L700.8,693.1L701.8,693.1L702.8,693.1L703.8,693.1L704.8,693.1L705.8,693.1L706.8,693.1L707.8,693.1L708.8,693.1L709.8,693.1L710.8,693.1L711.8,693.1L712.8,693.1L713.8,693.1L714.8,693.1L715.8,693.1L716.8,693.1L717.8,693.1L718.8,693.1L719.8,693.1L720.8,693.1L721.8,693.1L722.8,693.1L723.8,693.1L724.8,693.1L725.8,693.1L726.8,693.1L727.8,693.1L728.8,693.1L729.8,693.1L730.8,693.1L731.8,693.1L732.8,693.1L733.8,693.1L734.8,693.1L735.8,693.1L736.8,693.1L737.8,693.1L738.8,693.1L739.8,693.1L740.8,693.1L741.8,693.1L742.8,693.1L743.8,693.1L744.8,693.1" stroke="#45bd4c" stroke-width="1.7" fill="none"/>
<path d="M552.8,693.1L553.8,693.1L554.8,693.1L555.8,693.1L556.8,693.1L557.8,693.1L558.8,693.1L559.8,693.1L560.8,693.1L561.8,693.1L562.8,693.1L563.8,693L564.8,693L565.8,692.9L566.8,692.9L567.8,692.8L568.8,692.7L569.8,692.6L570.8,692.4L571.8,692.1L572.8,691.9L573.8,691.5L574.8,691.1L575.8,690.7L576.8,690.2L577.8,689.6L578.8,688.9L579.8,688.3L580.8,687.6L581.8,686.9L582.8,686.2L583.8,685.5L584.8,684.9L585.8,684.4L586.8,684L587.8,683.8L588.8,683.6L589.8,683.6L590.8,683.8L591.8,684L592.8,684.4L593.8,685L594.8,685.5L595.8,686.2L596.8,686.9L597.8,687.6L598.8,688.3L599.8,689L600.8,689.6L601.8,690.2L602.8,690.7L603.8,691.2L604.8,691.5L605.8,691.9L606.8,692.2L607.8,692.4L608.8,692.6L609.8,692.7L610.8,692.8L611.8,692.9L612.8,693L613.8,693L614.8,693L615.8,693.1L616.8,693.1L617.8,693.1L618.8,693.1L619.8,693.1L620.8,693.1L621.8,693.1L622.8,693.1L623.8,693.1L624.8,693.1L625.8,693.1L626.8,693.1L627.8,693.1L628.8,693.1L629.8,693.1L630.8,693.1L631.8,693.1L632.8,693.1L633.8,693.1L634.8,693.1L635.8,693.1L636.8,693.1L637.8,693.1L638.8,693.1L639.8,693.1L640.8,693.1L641.8,693.1L642.8,693.1L643.8,693.1L644.8,693.1L645.8,693.1L646.8,693.1L647.8,693.1L648.8,693.1L649.8,693.1L650.8,693.1L651.8,693.1L652.8,693.1L653.8,693.1L654.8,693.1L655.8,693.1L656.8,693.1L657.8,693.1L658.8,693.1L659.8,693.1L660.8,693.1L661.8,693.1L662.8,693.1L663.8,693.1L664.8,693.1L665.8,693.1L666.8,693.1L667.8,693.1L668.8,693.1L669.8,693.1L670.8,693.1L671.8,693.1L672.8,693.1L673.8,693.1L674.8,693.1L675.8,693.1L676.8,693.1L677.8,693.1L678.8,693.1L679.8,693.1L680.8,693.1L681.8,693.1L682.8,693.1L683.8,693.1L684.8,693.1L685.8,693.1L686.8,693.1L687.8,693.1L688.8,693.1L689.8,693.1L690.8,693.1L691.8,693.1L692.8,693.1L693.8,693.1L694.8,693.1L695.8,693.1L696.8,693.1L697.8,693.1L698.8,693.1L699.8,693.1L700.8,693.1L701.8,693.1L702.8,693.1L703.8,693.1L704.8,693.1L705.8,693.1L706.8,693.1L707.8,693.1L708.8,693.1L709.8,693.1L710.8,693.1L711.8,693.1L712.8,693.1L713.8,693.1L714.8,693.1L715.8,693.1L716.8,693.1L717.8,693.1L718.8,693.1L719.8,693.1L720.8,693.1L721.8,693.1L722.8,693.1L723.8,693.1L724.8,693.1L725.8,693.1L726.8,693.1L727.8,693.1L728.8,693.1L729.8,693.1L730.8,693.1L731.8,693.1L732.8,693.1L733.8,693.1L734.8,693.1L735.8,693.1L736.8,693.1L737.8,693.1L738.8,693.1L739.8,693.1L740.8,693.1L741.8,693.1L742.8,693.1L743.8,693.1L744.8,693.1" stroke="#e6ea5c" stroke-width="2.0" fill="none"/>
<path d="M552.8,693L553.8,693L554.8,692.9L555.8,692.9L556.8,692.9L557.8,692.8L558.8,692.8L559.8,692.7L560.8,692.7L561.8,692.6L562.8,692.5L563.8,692.4L564.8,692.3L565.8,692.1L566.8,692L567.8,691.8L568.8,691.6L569.8,691.3L570.8,691.1L571.8,690.8L572.8,690.4L573.8,690.1L574.8,689.7L575.8,689.2L576.8,688.7L577.8,688.1L578.8,687.5L579.8,686.9L580.8,686.1L581.8,685.4L582.8,684.5L583.8,683.6L584.8,682.6L585.8,681.6L586.8,680.5L587.8,679.3L588.8,678L589.8,676.7L590.8,675.4L591.8,673.9L592.8,672.4L593.8,670.9L594.8,669.3L595.8,667.7L596.8,666.1L597.8,664.4L598.8,662.7L599.8,661.1L600.8,659.4L601.8,657.7L602.8,656.1L603.8,654.5L604.8,653L605.8,651.5L606.8,650.1L607.8,648.7L608.8,647.5L609.8,646.4L610.8,645.4L611.8,644.5L612.8,643.7L613.8,643.1L614.8,642.6L615.8,642.2L616.8,642L617.8,642L618.8,642.1L619.8,642.4L620.8,642.8L621.8,643.3L622.8,644L623.8,644.8L624.8,645.8L625.8,646.8L626.8,648L627.8,649.3L628.8,650.6L629.8,652.1L630.8,653.6L631.8,655.1L632.8,656.7L633.8,658.4L634.8,660L635.8,661.7L636.8,663.4L637.8,665.1L638.8,666.7L639.8,668.4L640.8,670L641.8,671.5L642.8,673L643.8,674.5L644.8,675.9L645.8,677.3L646.8,678.5L647.8,679.8L648.8,680.9L649.8,682L650.8,683L651.8,684L652.8,684.9L653.8,685.7L654.8,686.4L655.8,687.1L656.8,687.8L657.8,688.4L658.8,688.9L659.8,689.4L660.8,689.8L661.8,690.2L662.8,690.6L663.8,690.9L664.8,691.2L665.8,691.4L666.8,691.7L667.8,691.9L668.8,692L669.8,692.2L670.8,692.3L671.8,692.4L672.8,692.5L673.8,692.6L674.8,692.7L675.8,692.8L676.8,692.8L677.8,692.9L678.8,692.9L679.8,692.9L680.8,693L681.8,693L682.8,693L683.8,693L684.8,693L685.8,693L686.8,693.1L687.8,693.1L688.8,693.1L689.8,693.1L690.8,693.1L691.8,693.1L692.8,693.1L693.8,693.1L694.8,693.1L695.8,693.1L696.8,693.1L697.8,693.1L698.8,693.1L699.8,693.1L700.8,693.1L701.8,693.1L702.8,693.1L703.8,693.1L704.8,693.1L705.8,693.1L706.8,693.1L707.8,693.1L708.8,693.1L709.8,693.1L710.8,693.1L711.8,693.1L712.8,693.1L713.8,693.1L714.8,693.1L715.8,693.1L716.8,693.1L717.8,693.1L718.8,693.1L719.8,693.1L720.8,693.1L721.8,693.1L722.8,693.1L723.8,693.1L724.8,693.1L725.8,693.1L726.8,693.1L727.8,693.1L728.8,693.1L729.8,693.1L730.8,693.1L731.8,693.1L732.8,693.1L733.8,693.1L734.8,693.1L735.8,693.1L736.8,693.1L737.8,693.1L738.8,693.1L739.8,693.1L740.8,693.1L741.8,693.1L742.8,693.1L743.8,693.1L744.8,693.1" stroke="#231d7a" stroke-width="1.5" fill="none"/>
<path d="M552.8,693.1L553.8,693.1L554.8,693.1L555.8,693.1L556.8,693.1L557.8,693.1L558.8,693.1L559.8,693.1L560.8,693.1L561.8,693.1L562.8,693.1L563.8,693.1L564.8,693.1L565.8,693.1L566.8,693.1L567.8,693.1L568.8,693.1L569.8,693.1L570.8,693.1L571.8,693.1L572.8,693.1L573.8,693.1L574.8,693.1L575.8,693.1L576.8,693.1L577.8,693.1L578.8,693.1L579.8,693.1L580.8,693.1L581.8,693.1L582.8,693.1L583.8,693.1L584.8,693.1L585.8,693.1L586.8,693.1L587.8,693.1L588.8,693.1L589.8,693.1L590.8,693.1L591.8,693.1L592.8,693.1L593.8,693L594.8,693L595.8,693L596.8,693L597.8,693L598.8,692.9L599.8,692.9L600.8,692.9L601.8,692.8L602.8,692.7L603.8,692.7L604.8,692.6L605.8,692.5L606.8,692.4L607.8,692.2L608.8,692.1L609.8,691.9L610.8,691.7L611.8,691.4L612.8,691.2L613.8,690.8L614.8,690.5L615.8,690.1L616.8,689.6L617.8,689.1L618.8,688.5L619.8,687.9L620.8,687.2L621.8,686.4L622.8,685.5L623.8,684.6L624.8,683.6L625.8,682.5L626.8,681.3L627.8,680L628.8,678.7L629.8,677.2L630.8,675.7L631.8,674.1L632.8,672.5L633.8,670.7L634.8,668.9L635.8,667.1L636.8,665.2L637.8,663.3L638.8,661.3L639.8,659.4L640.8,657.4L641.8,655.5L642.8,653.6L643.8,651.8L644.8,650L645.8,648.3L646.8,646.8L647.8,645.3L648.8,644L649.8,642.8L650.8,641.7L651.8,640.8L652.8,640.1L653.8,639.6L654.8,639.3L655.8,639.1L656.8,639.1L657.8,639.4L658.8,639.8L659.8,640.4L660.8,641.2L661.8,642.1L662.8,643.2L663.8,644.5L664.8,645.9L665.8,647.4L666.8,649L667.8,650.7L668.8,652.5L669.8,654.4L670.8,656.3L671.8,658.2L672.8,660.2L673.8,662.1L674.8,664.1L675.8,666L676.8,667.8L677.8,669.7L678.8,671.4L679.8,673.2L680.8,674.8L681.8,676.4L682.8,677.8L683.8,679.2L684.8,680.6L685.8,681.8L686.8,682.9L687.8,684L688.8,685L689.8,685.9L690.8,686.7L691.8,687.5L692.8,688.1L693.8,688.8L694.8,689.3L695.8,689.8L696.8,690.2L697.8,690.6L698.8,691L699.8,691.3L700.8,691.5L701.8,691.8L702.8,692L703.8,692.1L704.8,692.3L705.8,692.4L706.8,692.5L707.8,692.6L708.8,692.7L709.8,692.8L710.8,692.8L711.8,692.9L712.8,692.9L713.8,693L714.8,693L715.8,693L716.8,693L717.8,693L718.8,693L719.8,693.1L720.8,693.1L721.8,693.1L722.8,693.1L723.8,693.1L724.8,693.1L725.8,693.1L726.8,693.1L727.8,693.1L728.8,693.1L729.8,693.1L730.8,693.1L731.8,693.1L732.8,693.1L733.8,693.1L734.8,693.1L735.8,693.1L736.8,693.1L737.8,693.1L738.8,693.1L739.8,693.1L740.8,693.1L741.8,693.1L742.8,693.1L743.8,693.1L744.8,693.1" stroke="#a83fa6" stroke-width="1.5" fill="none"/>
<path d="M552.8,693.1L553.8,693.1L554.8,693.1L555.8,693.1L556.8,693.1L557.8,693.1L558.8,693.1L559.8,693.1L560.8,693.1L561.8,693.1L562.8,693.1L563.8,693.1L564.8,693.1L565.8,693.1L566.8,693.1L567.8,693.1L568.8,693.1L569.8,693.1L570.8,693.1L571.8,693.1L572.8,693.1L573.8,693.1L574.8,693.1L575.8,693.1L576.8,693.1L577.8,693.1L578.8,693.1L579.8,693.1L580.8,693.1L581.8,693.1L582.8,693.1L583.8,693.1L584.8,693.1L585.8,693.1L586.8,693.1L587.8,693.1L588.8,693.1L589.8,693.1L590.8,693.1L591.8,693.1L592.8,693.1L593.8,693.1L594.8,693.1L595.8,693.1L596.8,693.1L597.8,693.1L598.8,693.1L599.8,693.1L600.8,693.1L601.8,693.1L602.8,693.1L603.8,693.1L604.8,693.1L605.8,693.1L606.8,693.1L607.8,693.1L608.8,693.1L609.8,693.1L610.8,693.1L611.8,693.1L612.8,693.1L613.8,693.1L614.8,693.1L615.8,693.1L616.8,693.1L617.8,693.1L618.8,693.1L619.8,693.1L620.8,693.1L621.8,693.1L622.8,693.1L623.8,693.1L624.8,693.1L625.8,693.1L626.8,693.1L627.8,693L628.8,693L629.8,693L630.8,693L631.8,693L632.8,692.9L633.8,692.9L634.8,692.8L635.8,692.7L636.8,692.6L637.8,692.5L638.8,692.4L639.8,692.2L640.8,692L641.8,691.7L642.8,691.4L643.8,691L644.8,690.6L645.8,690.1L646.8,689.5L647.8,688.8L648.8,688L649.8,687.1L650.8,686L651.8,684.8L652.8,683.3L653.8,681.7L654.8,679.9L655.8,677.9L656.8,675.7L657.8,673.2L658.8,670.4L659.8,667.3L660.8,664L661.8,660.4L662.8,656.5L663.8,652.3L664.8,647.8L665.8,643L666.8,638L667.8,632.7L668.8,627.2L669.8,621.6L670.8,615.7L671.8,609.8L672.8,603.7L673.8,597.7L674.8,591.6L675.8,585.7L676.8,579.9L677.8,574.3L678.8,568.9L679.8,563.9L680.8,559.2L681.8,555L682.8,551.2L683.8,548L684.8,545.3L685.8,543.2L686.8,541.8L687.8,541L688.8,540.8L689.8,541.3L690.8,542.5L691.8,544.2L692.8,546.6L693.8,549.6L694.8,553.1L695.8,557.1L696.8,561.6L697.8,566.4L698.8,571.6L699.8,577.1L700.8,582.8L701.8,588.7L702.8,594.7L703.8,600.8L704.8,606.8L705.8,612.8L706.8,618.7L707.8,624.5L708.8,630.1L709.8,635.5L710.8,640.6L711.8,645.5L712.8,650.1L713.8,654.5L714.8,658.5L715.8,662.3L716.8,665.8L717.8,668.9L718.8,671.8L719.8,674.5L720.8,676.9L721.8,679L722.8,680.9L723.8,682.6L724.8,684.1L725.8,685.4L726.8,686.6L727.8,687.6L728.8,688.4L729.8,689.2L730.8,689.8L731.8,690.4L732.8,690.8L733.8,691.2L734.8,691.6L735.8,691.9L736.8,692.1L737.8,692.3L738.8,692.4L739.8,692.6L740.8,692.7L741.8,692.8L742.8,692.8L743.8,692.9L744.8,692.9" stroke="#52d0c6" stroke-width="1.6" fill="none"/>
<path d="M552.8,693.1L553.8,693.1L554.8,693.1L555.8,693.1L556.8,693.1L557.8,693.1L558.8,693.1L559.8,693.1L560.8,693.1L561.8,693.1L562.8,693.1L563.8,693.1L564.8,693.1L565.8,693.1L566.8,693.1L567.8,693.1L568.8,693.1L569.8,693.1L570.8,693.1L571.8,693.1L572.8,693.1L573.8,693.1L574.8,693.1L575.8,693.1L576.8,693.1L577.8,693.1L578.8,693.1L579.8,693.1L580.8,693.1L581.8,693.1L582.8,693.1L583.8,693.1L584.8,693.1L585.8,693.1L586.8,693.1L587.8,693.1L588.8,693.1L589.8,693.1L590.8,693.1L591.8,693.1L592.8,693.1L593.8,693.1L594.8,693.1L595.8,693.1L596.8,693.1L597.8,693.1L598.8,693.1L599.8,693.1L600.8,693.1L601.8,693.1L602.8,693.1L603.8,693.1L604.8,693.1L605.8,693.1L606.8,693.1L607.8,693.1L608.8,693.1L609.8,693.1L610.8,693.1L611.8,693.1L612.8,693.1L613.8,693.1L614.8,693.1L615.8,693.1L616.8,693.1L617.8,693.1L618.8,693.1L619.8,693.1L620.8,693.1L621.8,693.1L622.8,693.1L623.8,693.1L624.8,693.1L625.8,693.1L626.8,693.1L627.8,693.1L628.8,693.1L629.8,693.1L630.8,693.1L631.8,693.1L632.8,693.1L633.8,693.1L634.8,693.1L635.8,693.1L636.8,693.1L637.8,693.1L638.8,693.1L639.8,693.1L640.8,693.1L641.8,693.1L642.8,693.1L643.8,693.1L644.8,693.1L645.8,693.1L646.8,693.1L647.8,693.1L648.8,693.1L649.8,693.1L650.8,693.1L651.8,693.1L652.8,693.1L653.8,693.1L654.8,693.1L655.8,693.1L656.8,693.1L657.8,693.1L658.8,693.1L659.8,693.1L660.8,693.1L661.8,693.1L662.8,693.1L663.8,693.1L664.8,693.1L665.8,693.1L666.8,693.1L667.8,693.1L668.8,693.1L669.8,693.1L670.8,693.1L671.8,693.1L672.8,693.1L673.8,693.1L674.8,693L675.8,693L676.8,693L677.8,693L678.8,692.9L679.8,692.9L680.8,692.8L681.8,692.7L682.8,692.6L683.8,692.4L684.8,692.2L685.8,692L686.8,691.7L687.8,691.4L688.8,691.1L689.8,690.6L690.8,690.1L691.8,689.5L692.8,688.8L693.8,688L694.8,687.2L695.8,686.2L696.8,685.2L697.8,684L698.8,682.8L699.8,681.5L700.8,680.1L701.8,678.7L702.8,677.2L703.8,675.8L704.8,674.3L705.8,672.9L706.8,671.5L707.8,670.2L708.8,669L709.8,668L710.8,667.1L711.8,666.4L712.8,665.8L713.8,665.5L714.8,665.4L715.8,665.5L716.8,665.8L717.8,666.3L718.8,667L719.8,667.9L720.8,668.9L721.8,670.1L722.8,671.4L723.8,672.7L724.8,674.2L725.8,675.6L726.8,677.1L727.8,678.5L728.8,680L729.8,681.4L730.8,682.7L731.8,683.9L732.8,685.1L733.8,686.1L734.8,687.1L735.8,688L736.8,688.7L737.8,689.4L738.8,690L739.8,690.6L740.8,691L741.8,691.4L742.8,691.7L743.8,692L744.8,692.2" stroke="#acacac" stroke-width="1.3" fill="none"/>
<path d="M552.8,692.8C554.4,691.8 558.7,689.2 562.3,687C565.9,684.8 570.5,682.5 574.6,679.6C578.7,676.7 582.8,673.5 586.9,669.8C591,666.1 595.4,661.6 599.1,657.5C602.8,653.4 605.7,648.9 609,645.2C612.3,641.5 615.5,637.9 618.8,635.4C622.1,632.9 625.3,631.7 628.6,630.5C631.9,629.3 635.8,628.6 638.5,628C641.2,627.4 642.3,628 645,626.8C647.7,625.6 651.9,623.4 654.8,620.7C657.7,618 659.7,615.7 662.2,610.8C664.7,605.9 667.6,598.2 669.6,591.2C671.6,584.2 672.9,576.9 674.5,569.1C676.1,561.3 677.8,551.1 679.4,544.5C681,537.9 682.9,532.8 684.3,529.7C685.7,526.6 686.8,525.7 688,526.1C689.2,526.5 690.3,527.9 691.7,532.2C693.1,536.5 695,544.5 696.6,551.9C698.2,559.3 699.9,568.2 701.5,576.4C703.1,584.6 704.8,593.2 706.4,601C708,608.8 709.6,616.1 711.3,623.1C712.9,630.1 714.6,637.1 716.3,642.8C717.9,648.5 719.2,652.2 721.2,657.5C723.2,662.8 726,670 728.5,674.7C731,679.4 733.4,683 735.9,685.8C738.4,688.6 741.8,690.4 743.3,691.4C744.8,692.4 744.5,691.7 744.8,691.8" stroke="#111" stroke-width="1.3" stroke-dasharray="1 1.5" fill="none" opacity="0.65"/>
<rect x="552.8" y="506.4" width="192" height="191" fill="none" stroke="#3a3a3a" stroke-width="1.3"/>
<path d="M546.8,506.4H552.8M546.8,543.8H552.8M546.8,581.2H552.8M546.8,618.7H552.8M546.8,656.1H552.8M546.8,693.5H552.8M552.8,697.4V701.9M591.2,697.4V701.9M629.6,697.4V701.9M668,697.4V701.9M706.4,697.4V701.9M744.8,697.4V701.9" stroke="#3a3a3a" stroke-width="1.3" fill="none"/>
<text x="551.3" y="717.7" class="tl2">1700</text>
<text x="589.7" y="717.7" class="tl2">1680</text>
<text x="628.1" y="717.7" class="tl2">1660</text>
<text x="666.5" y="717.7" class="tl2">1640</text>
<text x="704.9" y="717.7" class="tl2">1620</text>
<text x="743.3" y="717.7" class="tl2">1600</text>
<text x="555.4" y="523.9" style="font-size:14px">3 hr</text>
<text x="598.4" y="728.6" style="font-size:12px" textLength="101.6" lengthAdjust="spacingAndGlyphs">Wave number (a.u.)</text>
<text transform="translate(530.6,602.5) rotate(-90)" text-anchor="middle" style="font-size:12px" textLength="84.7" lengthAdjust="spacingAndGlyphs">Abs. Signal (a.u.)</text>
</svg>
</body></html>
